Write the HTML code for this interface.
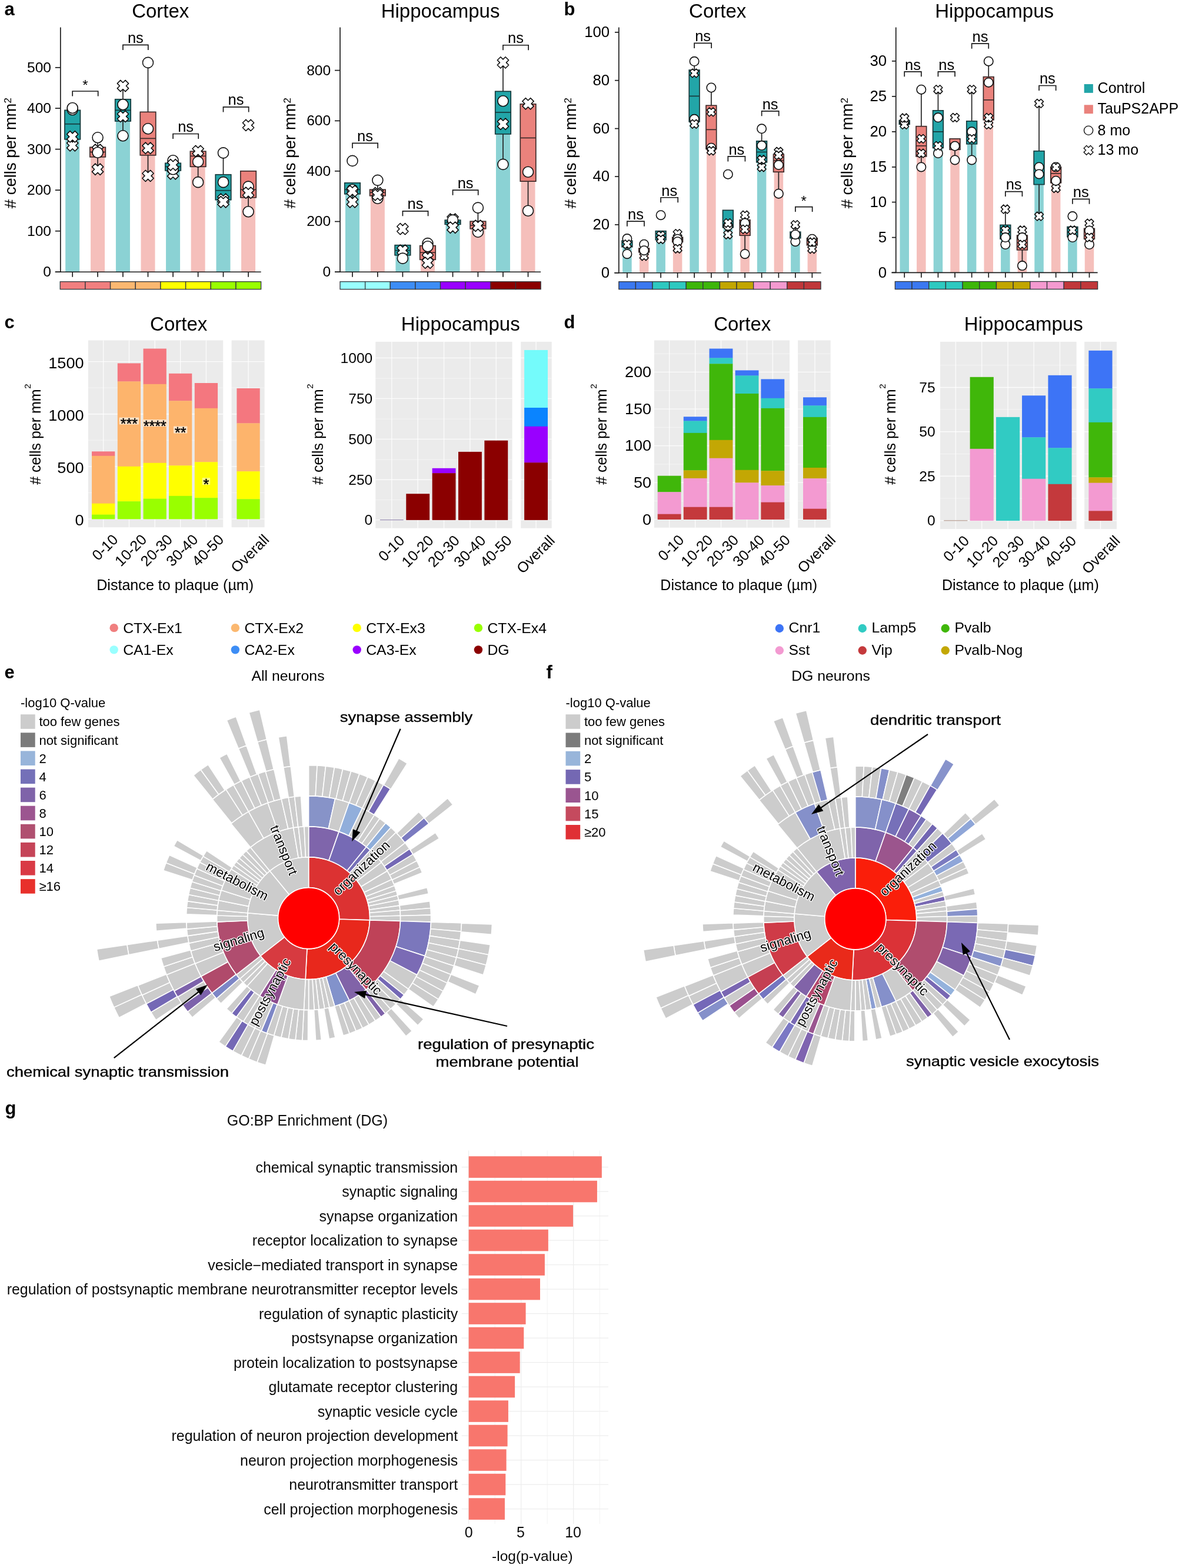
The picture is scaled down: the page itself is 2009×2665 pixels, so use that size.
<!DOCTYPE html>
<html lang="en"><head><meta charset="utf-8"><title>Figure</title>
<style>
html,body{margin:0;padding:0;background:#fff;}
body{width:2009px;height:2665px;overflow:hidden;}
svg{display:block;font-family:"Liberation Sans", Arial, Helvetica, sans-serif;}
</style></head><body>
<svg width="2009" height="2665" viewBox="0 0 2009 2665">
<rect x="0" y="0" width="2009" height="2665" fill="#ffffff"/>
<text x="7.50" y="26.00" font-size="31" font-weight="bold" >a</text>
<text x="272.78" y="30.28" font-size="33" text-anchor="middle" >Cortex</text>
<rect x="111.20" y="210.73" width="24.00" height="251.50" fill="#8BD2D4" />
<rect x="154.07" y="258.39" width="24.00" height="203.84" fill="#F5BFBB" />
<rect x="196.93" y="187.35" width="24.00" height="274.88" fill="#8BD2D4" />
<rect x="239.50" y="235.31" width="24.00" height="226.92" fill="#F5BFBB" />
<rect x="282.06" y="283.27" width="24.00" height="178.96" fill="#8BD2D4" />
<rect x="324.63" y="265.29" width="24.00" height="196.94" fill="#F5BFBB" />
<rect x="367.50" y="323.74" width="24.00" height="138.49" fill="#8BD2D4" />
<rect x="410.06" y="322.24" width="24.00" height="139.99" fill="#F5BFBB" />
<line x1="102.82" y1="46.46" x2="102.82" y2="463.03" stroke="#1a1a1a" stroke-width="1.7" />
<line x1="93.82" y1="462.23" x2="443.65" y2="462.23" stroke="#1a1a1a" stroke-width="1.7" />
<line x1="93.82" y1="462.23" x2="102.82" y2="462.23" stroke="#1a1a1a" stroke-width="1.7" />
<text x="87.02" y="470.13" font-size="24.6" text-anchor="end" >0</text>
<line x1="93.82" y1="392.69" x2="102.82" y2="392.69" stroke="#1a1a1a" stroke-width="1.7" />
<text x="87.02" y="400.59" font-size="24.6" text-anchor="end" >100</text>
<line x1="93.82" y1="323.14" x2="102.82" y2="323.14" stroke="#1a1a1a" stroke-width="1.7" />
<text x="87.02" y="331.04" font-size="24.6" text-anchor="end" >200</text>
<line x1="93.82" y1="253.60" x2="102.82" y2="253.60" stroke="#1a1a1a" stroke-width="1.7" />
<text x="87.02" y="261.50" font-size="24.6" text-anchor="end" >300</text>
<line x1="93.82" y1="184.05" x2="102.82" y2="184.05" stroke="#1a1a1a" stroke-width="1.7" />
<text x="87.02" y="191.95" font-size="24.6" text-anchor="end" >400</text>
<line x1="93.82" y1="114.81" x2="102.82" y2="114.81" stroke="#1a1a1a" stroke-width="1.7" />
<text x="87.02" y="122.71" font-size="24.6" text-anchor="end" >500</text>
<line x1="123.20" y1="462.23" x2="123.20" y2="470.73" stroke="#1a1a1a" stroke-width="1.7" />
<line x1="166.07" y1="462.23" x2="166.07" y2="470.73" stroke="#1a1a1a" stroke-width="1.7" />
<line x1="208.93" y1="462.23" x2="208.93" y2="470.73" stroke="#1a1a1a" stroke-width="1.7" />
<line x1="251.50" y1="462.23" x2="251.50" y2="470.73" stroke="#1a1a1a" stroke-width="1.7" />
<line x1="294.06" y1="462.23" x2="294.06" y2="470.73" stroke="#1a1a1a" stroke-width="1.7" />
<line x1="336.63" y1="462.23" x2="336.63" y2="470.73" stroke="#1a1a1a" stroke-width="1.7" />
<line x1="379.50" y1="462.23" x2="379.50" y2="470.73" stroke="#1a1a1a" stroke-width="1.7" />
<line x1="422.06" y1="462.23" x2="422.06" y2="470.73" stroke="#1a1a1a" stroke-width="1.7" />
<text x="27.18" y="260.19" font-size="27.5" text-anchor="middle" transform="rotate(-90.00 27.18 260.19)" ># cells per mm<tspan font-size="17" dy="-8">2</tspan></text>
<line x1="123.20" y1="182.85" x2="123.20" y2="248.80" stroke="#222" stroke-width="1.7" />
<rect x="109.95" y="187.35" width="26.50" height="49.46" fill="#22A5A8" stroke="#17393B" stroke-width="1.7" />
<line x1="109.95" y1="210.73" x2="136.45" y2="210.73" stroke="#17393B" stroke-width="1.7" />
<line x1="166.07" y1="233.81" x2="166.07" y2="287.77" stroke="#222" stroke-width="1.7" />
<rect x="152.82" y="250.30" width="26.50" height="16.49" fill="#EA827C" stroke="#3E2B2A" stroke-width="1.7" />
<line x1="152.82" y1="258.39" x2="179.32" y2="258.39" stroke="#3E2B2A" stroke-width="1.7" />
<line x1="208.93" y1="145.98" x2="208.93" y2="230.82" stroke="#222" stroke-width="1.7" />
<rect x="195.68" y="168.76" width="26.50" height="37.17" fill="#22A5A8" stroke="#17393B" stroke-width="1.7" />
<line x1="195.68" y1="187.35" x2="222.18" y2="187.35" stroke="#17393B" stroke-width="1.7" />
<line x1="251.50" y1="106.41" x2="251.50" y2="298.86" stroke="#222" stroke-width="1.7" />
<rect x="238.25" y="190.35" width="26.50" height="73.44" fill="#EA827C" stroke="#3E2B2A" stroke-width="1.7" />
<line x1="238.25" y1="235.31" x2="264.75" y2="235.31" stroke="#3E2B2A" stroke-width="1.7" />
<line x1="294.06" y1="272.78" x2="294.06" y2="295.26" stroke="#222" stroke-width="1.7" />
<rect x="280.81" y="277.28" width="26.50" height="12.59" fill="#22A5A8" stroke="#17393B" stroke-width="1.7" />
<line x1="280.81" y1="283.27" x2="307.31" y2="283.27" stroke="#17393B" stroke-width="1.7" />
<line x1="336.63" y1="256.89" x2="336.63" y2="309.65" stroke="#222" stroke-width="1.7" />
<rect x="323.38" y="257.19" width="26.50" height="26.08" fill="#EA827C" stroke="#3E2B2A" stroke-width="1.7" />
<line x1="323.38" y1="265.29" x2="349.88" y2="265.29" stroke="#3E2B2A" stroke-width="1.7" />
<line x1="379.50" y1="259.89" x2="379.50" y2="343.23" stroke="#222" stroke-width="1.7" />
<rect x="366.25" y="296.76" width="26.50" height="42.87" fill="#22A5A8" stroke="#17393B" stroke-width="1.7" />
<line x1="366.25" y1="323.74" x2="392.75" y2="323.74" stroke="#17393B" stroke-width="1.7" />
<line x1="422.06" y1="335.73" x2="422.06" y2="359.71" stroke="#222" stroke-width="1.7" />
<rect x="408.81" y="290.77" width="26.50" height="44.96" fill="#EA827C" stroke="#3E2B2A" stroke-width="1.7" />
<line x1="408.81" y1="322.24" x2="435.31" y2="322.24" stroke="#3E2B2A" stroke-width="1.7" />
<circle cx="123.20" cy="186.45" r="9.00" fill="#fff" stroke="#111" stroke-width="1.6"/>
<circle cx="123.20" cy="183.45" r="9.00" fill="#fff" stroke="#111" stroke-width="1.6"/>
<path d="M127.33,237.68 L132.82,243.18 L128.70,247.30 L132.82,251.43 L127.33,256.92 L123.20,252.80 L119.08,256.92 L113.58,251.43 L117.70,247.30 L113.58,243.18 L119.08,237.68 L123.20,241.80 Z" fill="#fff" stroke="#111" stroke-width="1.6" stroke-linejoin="round"/>
<path d="M127.33,222.69 L132.82,228.19 L128.70,232.31 L132.82,236.44 L127.33,241.94 L123.20,237.81 L119.08,241.94 L113.58,236.44 L117.70,232.31 L113.58,228.19 L119.08,222.69 L123.20,226.82 Z" fill="#fff" stroke="#111" stroke-width="1.6" stroke-linejoin="round"/>
<circle cx="166.07" cy="233.81" r="9.00" fill="#fff" stroke="#111" stroke-width="1.6"/>
<path d="M170.19,245.17 L175.69,250.67 L171.57,254.80 L175.69,258.92 L170.19,264.42 L166.07,260.29 L161.94,264.42 L156.44,258.92 L160.57,254.80 L156.44,250.67 L161.94,245.17 L166.07,249.30 Z" fill="#fff" stroke="#111" stroke-width="1.6" stroke-linejoin="round"/>
<circle cx="166.07" cy="259.29" r="9.00" fill="#fff" stroke="#111" stroke-width="1.6"/>
<path d="M170.19,278.15 L175.69,283.65 L171.57,287.77 L175.69,291.89 L170.19,297.39 L166.07,293.27 L161.94,297.39 L156.44,291.89 L160.57,287.77 L156.44,283.65 L161.94,278.15 L166.07,282.27 Z" fill="#fff" stroke="#111" stroke-width="1.6" stroke-linejoin="round"/>
<path d="M213.06,136.36 L218.56,141.86 L214.43,145.98 L218.56,150.11 L213.06,155.61 L208.93,151.48 L204.81,155.61 L199.31,150.11 L203.43,145.98 L199.31,141.86 L204.81,136.36 L208.93,140.48 Z" fill="#fff" stroke="#111" stroke-width="1.6" stroke-linejoin="round"/>
<circle cx="208.93" cy="230.82" r="9.00" fill="#fff" stroke="#111" stroke-width="1.6"/>
<circle cx="208.93" cy="177.76" r="9.00" fill="#fff" stroke="#111" stroke-width="1.6"/>
<path d="M213.06,188.22 L218.56,193.72 L214.43,197.84 L218.56,201.97 L213.06,207.46 L208.93,203.34 L204.81,207.46 L199.31,201.97 L203.43,197.84 L199.31,193.72 L204.81,188.22 L208.93,192.34 Z" fill="#fff" stroke="#111" stroke-width="1.6" stroke-linejoin="round"/>
<circle cx="251.50" cy="106.41" r="9.00" fill="#fff" stroke="#111" stroke-width="1.6"/>
<circle cx="251.50" cy="218.82" r="9.00" fill="#fff" stroke="#111" stroke-width="1.6"/>
<path d="M255.62,289.24 L261.12,294.74 L257.00,298.86 L261.12,302.98 L255.62,308.48 L251.50,304.36 L247.37,308.48 L241.88,302.98 L246.00,298.86 L241.88,294.74 L247.37,289.24 L251.50,293.36 Z" fill="#fff" stroke="#111" stroke-width="1.6" stroke-linejoin="round"/>
<path d="M255.62,242.18 L261.12,247.67 L257.00,251.80 L261.12,255.92 L255.62,261.42 L251.50,257.30 L247.37,261.42 L241.88,255.92 L246.00,251.80 L241.88,247.67 L247.37,242.18 L251.50,246.30 Z" fill="#fff" stroke="#111" stroke-width="1.6" stroke-linejoin="round"/>
<path d="M298.19,285.64 L303.69,291.14 L299.56,295.26 L303.69,299.39 L298.19,304.89 L294.06,300.76 L289.94,304.89 L284.44,299.39 L288.57,295.26 L284.44,291.14 L289.94,285.64 L294.06,289.77 Z" fill="#fff" stroke="#111" stroke-width="1.6" stroke-linejoin="round"/>
<circle cx="294.06" cy="287.77" r="9.00" fill="#fff" stroke="#111" stroke-width="1.6"/>
<circle cx="294.06" cy="272.78" r="9.00" fill="#fff" stroke="#111" stroke-width="1.6"/>
<path d="M298.19,270.65 L303.69,276.15 L299.56,280.28 L303.69,284.40 L298.19,289.90 L294.06,285.77 L289.94,289.90 L284.44,284.40 L288.57,280.28 L284.44,276.15 L289.94,270.65 L294.06,274.78 Z" fill="#fff" stroke="#111" stroke-width="1.6" stroke-linejoin="round"/>
<circle cx="336.63" cy="309.65" r="9.00" fill="#fff" stroke="#111" stroke-width="1.6"/>
<path d="M340.75,247.27 L346.25,252.77 L342.13,256.89 L346.25,261.02 L340.75,266.52 L336.63,262.39 L332.51,266.52 L327.01,261.02 L331.13,256.89 L327.01,252.77 L332.51,247.27 L336.63,251.40 Z" fill="#fff" stroke="#111" stroke-width="1.6" stroke-linejoin="round"/>
<circle cx="336.63" cy="274.88" r="9.00" fill="#fff" stroke="#111" stroke-width="1.6"/>
<circle cx="379.50" cy="259.89" r="9.00" fill="#fff" stroke="#111" stroke-width="1.6"/>
<path d="M383.62,329.11 L389.12,334.61 L384.99,338.73 L389.12,342.85 L383.62,348.35 L379.50,344.23 L375.37,348.35 L369.87,342.85 L374.00,338.73 L369.87,334.61 L375.37,329.11 L379.50,333.23 Z" fill="#fff" stroke="#111" stroke-width="1.6" stroke-linejoin="round"/>
<circle cx="379.50" cy="309.65" r="9.00" fill="#fff" stroke="#111" stroke-width="1.6"/>
<path d="M383.62,333.60 L389.12,339.10 L384.99,343.23 L389.12,347.35 L383.62,352.85 L379.50,348.72 L375.37,352.85 L369.87,347.35 L374.00,343.23 L369.87,339.10 L375.37,333.60 L379.50,337.73 Z" fill="#fff" stroke="#111" stroke-width="1.6" stroke-linejoin="round"/>
<path d="M426.19,203.21 L431.68,208.71 L427.56,212.83 L431.68,216.95 L426.19,222.45 L422.06,218.33 L417.94,222.45 L412.44,216.95 L416.56,212.83 L412.44,208.71 L417.94,203.21 L422.06,207.33 Z" fill="#fff" stroke="#111" stroke-width="1.6" stroke-linejoin="round"/>
<circle cx="422.06" cy="359.71" r="9.00" fill="#fff" stroke="#111" stroke-width="1.6"/>
<circle cx="422.06" cy="317.15" r="9.00" fill="#fff" stroke="#111" stroke-width="1.6"/>
<path d="M426.19,318.02 L431.68,323.51 L427.56,327.64 L431.68,331.76 L426.19,337.26 L422.06,333.14 L417.94,337.26 L412.44,331.76 L416.56,327.64 L412.44,323.51 L417.94,318.02 L422.06,322.14 Z" fill="#fff" stroke="#111" stroke-width="1.6" stroke-linejoin="round"/>
<path d="M123.20,163.48 L123.20,154.98 L166.67,154.98 L166.67,163.48" fill="none" stroke="#1a1a1a" stroke-width="1.7" />
<text x="144.93" y="153.48" font-size="24" text-anchor="middle" >*</text>
<path d="M208.93,84.94 L208.93,76.44 L251.80,76.44 L251.80,84.94" fill="none" stroke="#1a1a1a" stroke-width="1.7" />
<text x="230.37" y="72.84" font-size="25.5" text-anchor="middle" >ns</text>
<path d="M294.06,236.02 L294.06,227.52 L337.23,227.52 L337.23,236.02" fill="none" stroke="#1a1a1a" stroke-width="1.7" />
<text x="315.65" y="223.92" font-size="25.5" text-anchor="middle" >ns</text>
<path d="M379.50,190.45 L379.50,181.95 L422.66,181.95 L422.66,190.45" fill="none" stroke="#1a1a1a" stroke-width="1.7" />
<text x="401.08" y="178.35" font-size="25.5" text-anchor="middle" >ns</text>
<rect x="102.22" y="478.72" width="42.68" height="12.89" fill="#F17F7F" stroke="#33373d" stroke-width="1.3" />
<rect x="144.90" y="478.72" width="42.68" height="12.89" fill="#F17F7F" stroke="#33373d" stroke-width="1.3" />
<rect x="187.57" y="478.72" width="42.68" height="12.89" fill="#FBB870" stroke="#33373d" stroke-width="1.3" />
<rect x="230.25" y="478.72" width="42.68" height="12.89" fill="#FBB870" stroke="#33373d" stroke-width="1.3" />
<rect x="272.93" y="478.72" width="42.68" height="12.89" fill="#FFFF00" stroke="#33373d" stroke-width="1.3" />
<rect x="315.61" y="478.72" width="42.68" height="12.89" fill="#FFFF00" stroke="#33373d" stroke-width="1.3" />
<rect x="358.29" y="478.72" width="42.68" height="12.89" fill="#99FF00" stroke="#33373d" stroke-width="1.3" />
<rect x="400.97" y="478.72" width="42.68" height="12.89" fill="#99FF00" stroke="#33373d" stroke-width="1.3" />
<text x="748.56" y="30.28" font-size="33" text-anchor="middle" >Hippocampus</text>
<rect x="586.98" y="322.24" width="24.00" height="139.99" fill="#8BD2D4" />
<rect x="629.85" y="327.34" width="24.00" height="134.89" fill="#F5BFBB" />
<rect x="672.41" y="425.66" width="24.00" height="36.57" fill="#8BD2D4" />
<rect x="714.98" y="429.26" width="24.00" height="32.97" fill="#F5BFBB" />
<rect x="757.54" y="377.70" width="24.00" height="84.53" fill="#8BD2D4" />
<rect x="800.41" y="383.09" width="24.00" height="79.14" fill="#F5BFBB" />
<rect x="842.98" y="190.95" width="24.00" height="271.28" fill="#8BD2D4" />
<rect x="885.54" y="234.41" width="24.00" height="227.82" fill="#F5BFBB" />
<line x1="578.00" y1="46.46" x2="578.00" y2="463.03" stroke="#1a1a1a" stroke-width="1.7" />
<line x1="569.00" y1="462.23" x2="919.12" y2="462.23" stroke="#1a1a1a" stroke-width="1.7" />
<line x1="569.00" y1="462.23" x2="578.00" y2="462.23" stroke="#1a1a1a" stroke-width="1.7" />
<text x="562.20" y="470.13" font-size="24.6" text-anchor="end" >0</text>
<line x1="569.00" y1="376.50" x2="578.00" y2="376.50" stroke="#1a1a1a" stroke-width="1.7" />
<text x="562.20" y="384.40" font-size="24.6" text-anchor="end" >200</text>
<line x1="569.00" y1="290.77" x2="578.00" y2="290.77" stroke="#1a1a1a" stroke-width="1.7" />
<text x="562.20" y="298.67" font-size="24.6" text-anchor="end" >400</text>
<line x1="569.00" y1="205.34" x2="578.00" y2="205.34" stroke="#1a1a1a" stroke-width="1.7" />
<text x="562.20" y="213.24" font-size="24.6" text-anchor="end" >600</text>
<line x1="569.00" y1="119.60" x2="578.00" y2="119.60" stroke="#1a1a1a" stroke-width="1.7" />
<text x="562.20" y="127.50" font-size="24.6" text-anchor="end" >800</text>
<line x1="598.98" y1="462.23" x2="598.98" y2="470.73" stroke="#1a1a1a" stroke-width="1.7" />
<line x1="641.85" y1="462.23" x2="641.85" y2="470.73" stroke="#1a1a1a" stroke-width="1.7" />
<line x1="684.41" y1="462.23" x2="684.41" y2="470.73" stroke="#1a1a1a" stroke-width="1.7" />
<line x1="726.98" y1="462.23" x2="726.98" y2="470.73" stroke="#1a1a1a" stroke-width="1.7" />
<line x1="769.54" y1="462.23" x2="769.54" y2="470.73" stroke="#1a1a1a" stroke-width="1.7" />
<line x1="812.41" y1="462.23" x2="812.41" y2="470.73" stroke="#1a1a1a" stroke-width="1.7" />
<line x1="854.98" y1="462.23" x2="854.98" y2="470.73" stroke="#1a1a1a" stroke-width="1.7" />
<line x1="897.54" y1="462.23" x2="897.54" y2="470.73" stroke="#1a1a1a" stroke-width="1.7" />
<text x="501.76" y="260.19" font-size="27.5" text-anchor="middle" transform="rotate(-90.00 501.76 260.19)" ># cells per mm<tspan font-size="17" dy="-8">2</tspan></text>
<line x1="598.98" y1="310.85" x2="598.98" y2="343.23" stroke="#222" stroke-width="1.7" />
<rect x="585.73" y="310.85" width="26.50" height="18.88" fill="#22A5A8" stroke="#17393B" stroke-width="1.7" />
<line x1="585.73" y1="322.24" x2="612.23" y2="322.24" stroke="#17393B" stroke-width="1.7" />
<line x1="641.85" y1="306.35" x2="641.85" y2="337.23" stroke="#222" stroke-width="1.7" />
<rect x="628.60" y="322.24" width="26.50" height="10.49" fill="#EA827C" stroke="#3E2B2A" stroke-width="1.7" />
<line x1="628.60" y1="327.34" x2="655.10" y2="327.34" stroke="#3E2B2A" stroke-width="1.7" />
<line x1="684.41" y1="416.67" x2="684.41" y2="439.15" stroke="#222" stroke-width="1.7" />
<rect x="671.16" y="416.67" width="26.50" height="17.09" fill="#22A5A8" stroke="#17393B" stroke-width="1.7" />
<line x1="671.16" y1="425.66" x2="697.66" y2="425.66" stroke="#17393B" stroke-width="1.7" />
<line x1="726.98" y1="413.67" x2="726.98" y2="446.64" stroke="#222" stroke-width="1.7" />
<rect x="713.73" y="417.57" width="26.50" height="23.68" fill="#EA827C" stroke="#3E2B2A" stroke-width="1.7" />
<line x1="713.73" y1="429.26" x2="740.23" y2="429.26" stroke="#3E2B2A" stroke-width="1.7" />
<line x1="769.54" y1="372.60" x2="769.54" y2="386.69" stroke="#222" stroke-width="1.7" />
<rect x="756.29" y="374.10" width="26.50" height="7.19" fill="#22A5A8" stroke="#17393B" stroke-width="1.7" />
<line x1="756.29" y1="377.70" x2="782.79" y2="377.70" stroke="#17393B" stroke-width="1.7" />
<line x1="812.41" y1="353.12" x2="812.41" y2="394.18" stroke="#222" stroke-width="1.7" />
<rect x="799.16" y="376.20" width="26.50" height="12.59" fill="#EA827C" stroke="#3E2B2A" stroke-width="1.7" />
<line x1="799.16" y1="383.09" x2="825.66" y2="383.09" stroke="#3E2B2A" stroke-width="1.7" />
<line x1="854.98" y1="106.41" x2="854.98" y2="279.38" stroke="#222" stroke-width="1.7" />
<rect x="841.73" y="155.28" width="26.50" height="72.54" fill="#22A5A8" stroke="#17393B" stroke-width="1.7" />
<line x1="841.73" y1="190.95" x2="868.23" y2="190.95" stroke="#17393B" stroke-width="1.7" />
<line x1="897.54" y1="176.26" x2="897.54" y2="358.21" stroke="#222" stroke-width="1.7" />
<rect x="884.29" y="176.86" width="26.50" height="131.29" fill="#EA827C" stroke="#3E2B2A" stroke-width="1.7" />
<line x1="884.29" y1="234.41" x2="910.79" y2="234.41" stroke="#3E2B2A" stroke-width="1.7" />
<circle cx="598.98" cy="273.38" r="9.00" fill="#fff" stroke="#111" stroke-width="1.6"/>
<circle cx="598.98" cy="322.24" r="9.00" fill="#fff" stroke="#111" stroke-width="1.6"/>
<path d="M603.10,333.60 L608.60,339.10 L604.48,343.23 L608.60,347.35 L603.10,352.85 L598.98,348.72 L594.86,352.85 L589.36,347.35 L593.48,343.23 L589.36,339.10 L594.86,333.60 L598.98,337.73 Z" fill="#fff" stroke="#111" stroke-width="1.6" stroke-linejoin="round"/>
<path d="M603.10,315.02 L608.60,320.52 L604.48,324.64 L608.60,328.76 L603.10,334.26 L598.98,330.14 L594.86,334.26 L589.36,328.76 L593.48,324.64 L589.36,320.52 L594.86,315.02 L598.98,319.14 Z" fill="#fff" stroke="#111" stroke-width="1.6" stroke-linejoin="round"/>
<circle cx="641.85" cy="306.35" r="9.00" fill="#fff" stroke="#111" stroke-width="1.6"/>
<circle cx="641.85" cy="337.23" r="9.00" fill="#fff" stroke="#111" stroke-width="1.6"/>
<path d="M645.97,318.62 L651.47,324.11 L647.34,328.24 L651.47,332.36 L645.97,337.86 L641.85,333.74 L637.72,337.86 L632.22,332.36 L636.35,328.24 L632.22,324.11 L637.72,318.62 L641.85,322.74 Z" fill="#fff" stroke="#111" stroke-width="1.6" stroke-linejoin="round"/>
<path d="M645.97,321.61 L651.47,327.11 L647.34,331.24 L651.47,335.36 L645.97,340.86 L641.85,336.73 L637.72,340.86 L632.22,335.36 L636.35,331.24 L632.22,327.11 L637.72,321.61 L641.85,325.74 Z" fill="#fff" stroke="#111" stroke-width="1.6" stroke-linejoin="round"/>
<path d="M688.54,379.47 L694.03,384.96 L689.91,389.09 L694.03,393.21 L688.54,398.71 L684.41,394.59 L680.29,398.71 L674.79,393.21 L678.91,389.09 L674.79,384.96 L680.29,379.47 L684.41,383.59 Z" fill="#fff" stroke="#111" stroke-width="1.6" stroke-linejoin="round"/>
<path d="M688.54,416.04 L694.03,421.54 L689.91,425.66 L694.03,429.78 L688.54,435.28 L684.41,431.16 L680.29,435.28 L674.79,429.78 L678.91,425.66 L674.79,421.54 L680.29,416.04 L684.41,420.16 Z" fill="#fff" stroke="#111" stroke-width="1.6" stroke-linejoin="round"/>
<circle cx="684.41" cy="439.15" r="9.00" fill="#fff" stroke="#111" stroke-width="1.6"/>
<circle cx="726.98" cy="413.67" r="9.00" fill="#fff" stroke="#111" stroke-width="1.6"/>
<circle cx="726.98" cy="418.76" r="9.00" fill="#fff" stroke="#111" stroke-width="1.6"/>
<path d="M731.10,428.03 L736.60,433.53 L732.48,437.65 L736.60,441.77 L731.10,447.27 L726.98,443.15 L722.85,447.27 L717.36,441.77 L721.48,437.65 L717.36,433.53 L722.85,428.03 L726.98,432.15 Z" fill="#fff" stroke="#111" stroke-width="1.6" stroke-linejoin="round"/>
<path d="M731.10,437.02 L736.60,442.52 L732.48,446.64 L736.60,450.77 L731.10,456.26 L726.98,452.14 L722.85,456.26 L717.36,450.77 L721.48,446.64 L717.36,442.52 L722.85,437.02 L726.98,441.14 Z" fill="#fff" stroke="#111" stroke-width="1.6" stroke-linejoin="round"/>
<path d="M773.67,362.98 L779.17,368.48 L775.04,372.60 L779.17,376.73 L773.67,382.22 L769.54,378.10 L765.42,382.22 L759.92,376.73 L764.05,372.60 L759.92,368.48 L765.42,362.98 L769.54,367.10 Z" fill="#fff" stroke="#111" stroke-width="1.6" stroke-linejoin="round"/>
<circle cx="769.54" cy="374.10" r="9.00" fill="#fff" stroke="#111" stroke-width="1.6"/>
<path d="M773.67,377.07 L779.17,382.57 L775.04,386.69 L779.17,390.81 L773.67,396.31 L769.54,392.19 L765.42,396.31 L759.92,390.81 L764.05,386.69 L759.92,382.57 L765.42,377.07 L769.54,381.19 Z" fill="#fff" stroke="#111" stroke-width="1.6" stroke-linejoin="round"/>
<circle cx="812.41" cy="353.12" r="9.00" fill="#fff" stroke="#111" stroke-width="1.6"/>
<circle cx="812.41" cy="394.18" r="9.00" fill="#fff" stroke="#111" stroke-width="1.6"/>
<path d="M816.53,374.07 L822.03,379.57 L817.91,383.69 L822.03,387.82 L816.53,393.32 L812.41,389.19 L808.29,393.32 L802.79,387.82 L806.91,383.69 L802.79,379.57 L808.29,374.07 L812.41,378.19 Z" fill="#fff" stroke="#111" stroke-width="1.6" stroke-linejoin="round"/>
<path d="M859.10,96.79 L864.60,102.29 L860.47,106.41 L864.60,110.54 L859.10,116.04 L854.98,111.91 L850.85,116.04 L845.35,110.54 L849.48,106.41 L845.35,102.29 L850.85,96.79 L854.98,100.92 Z" fill="#fff" stroke="#111" stroke-width="1.6" stroke-linejoin="round"/>
<circle cx="854.98" cy="171.76" r="9.00" fill="#fff" stroke="#111" stroke-width="1.6"/>
<path d="M859.10,201.11 L864.60,206.61 L860.47,210.73 L864.60,214.86 L859.10,220.35 L854.98,216.23 L850.85,220.35 L845.35,214.86 L849.48,210.73 L845.35,206.61 L850.85,201.11 L854.98,205.23 Z" fill="#fff" stroke="#111" stroke-width="1.6" stroke-linejoin="round"/>
<circle cx="854.98" cy="279.38" r="9.00" fill="#fff" stroke="#111" stroke-width="1.6"/>
<path d="M901.67,166.64 L907.16,172.14 L903.04,176.26 L907.16,180.38 L901.67,185.88 L897.54,181.76 L893.42,185.88 L887.92,180.38 L892.04,176.26 L887.92,172.14 L893.42,166.64 L897.54,170.76 Z" fill="#fff" stroke="#111" stroke-width="1.6" stroke-linejoin="round"/>
<circle cx="897.54" cy="292.27" r="9.00" fill="#fff" stroke="#111" stroke-width="1.6"/>
<circle cx="897.54" cy="358.21" r="9.00" fill="#fff" stroke="#111" stroke-width="1.6"/>
<path d="M598.98,251.91 L598.98,243.41 L642.15,243.41 L642.15,251.91" fill="none" stroke="#1a1a1a" stroke-width="1.7" />
<text x="620.56" y="239.81" font-size="25.5" text-anchor="middle" >ns</text>
<path d="M684.41,367.31 L684.41,358.81 L727.58,358.81 L727.58,367.31" fill="none" stroke="#1a1a1a" stroke-width="1.7" />
<text x="706.00" y="355.21" font-size="25.5" text-anchor="middle" >ns</text>
<path d="M769.54,331.64 L769.54,323.14 L812.71,323.14 L812.71,331.64" fill="none" stroke="#1a1a1a" stroke-width="1.7" />
<text x="791.13" y="319.54" font-size="25.5" text-anchor="middle" >ns</text>
<path d="M854.98,85.24 L854.98,76.74 L898.14,76.74 L898.14,85.24" fill="none" stroke="#1a1a1a" stroke-width="1.7" />
<text x="876.56" y="73.14" font-size="25.5" text-anchor="middle" >ns</text>
<rect x="578.00" y="478.72" width="42.64" height="12.89" fill="#99FFFF" stroke="#33373d" stroke-width="1.3" />
<rect x="620.64" y="478.72" width="42.64" height="12.89" fill="#99FFFF" stroke="#33373d" stroke-width="1.3" />
<rect x="663.28" y="478.72" width="42.64" height="12.89" fill="#3D8DF5" stroke="#33373d" stroke-width="1.3" />
<rect x="705.92" y="478.72" width="42.64" height="12.89" fill="#3D8DF5" stroke="#33373d" stroke-width="1.3" />
<rect x="748.56" y="478.72" width="42.64" height="12.89" fill="#9900FF" stroke="#33373d" stroke-width="1.3" />
<rect x="791.20" y="478.72" width="42.64" height="12.89" fill="#9900FF" stroke="#33373d" stroke-width="1.3" />
<rect x="833.84" y="478.72" width="42.64" height="12.89" fill="#8B0000" stroke="#33373d" stroke-width="1.3" />
<rect x="876.48" y="478.72" width="42.64" height="12.89" fill="#8B0000" stroke="#33373d" stroke-width="1.3" />
<text x="958.50" y="26.00" font-size="31" font-weight="bold" >b</text>
<text x="1219.68" y="30.28" font-size="33" text-anchor="middle" >Cortex</text>
<rect x="1058.15" y="415.17" width="15.50" height="48.56" fill="#8BD2D4" />
<rect x="1086.93" y="424.16" width="15.50" height="39.57" fill="#F5BFBB" />
<rect x="1115.40" y="401.68" width="15.50" height="62.05" fill="#8BD2D4" />
<rect x="1143.88" y="407.67" width="15.50" height="56.06" fill="#F5BFBB" />
<rect x="1172.36" y="163.37" width="15.50" height="300.36" fill="#8BD2D4" />
<rect x="1201.13" y="220.32" width="15.50" height="243.41" fill="#F5BFBB" />
<rect x="1229.61" y="380.70" width="15.50" height="83.03" fill="#8BD2D4" />
<rect x="1258.39" y="389.69" width="15.50" height="74.04" fill="#F5BFBB" />
<rect x="1286.87" y="258.39" width="15.50" height="205.34" fill="#8BD2D4" />
<rect x="1315.64" y="272.78" width="15.50" height="190.95" fill="#F5BFBB" />
<rect x="1344.12" y="400.18" width="15.50" height="63.55" fill="#8BD2D4" />
<rect x="1372.60" y="412.17" width="15.50" height="51.56" fill="#F5BFBB" />
<line x1="1051.81" y1="46.46" x2="1051.81" y2="464.53" stroke="#1a1a1a" stroke-width="1.7" />
<line x1="1044.02" y1="463.73" x2="1395.64" y2="463.73" stroke="#1a1a1a" stroke-width="1.7" />
<line x1="1045.01" y1="463.73" x2="1051.81" y2="463.73" stroke="#1a1a1a" stroke-width="1.7" />
<text x="1036.21" y="472.13" font-size="25.8" text-anchor="end" >0</text>
<line x1="1045.01" y1="381.89" x2="1051.81" y2="381.89" stroke="#1a1a1a" stroke-width="1.7" />
<text x="1036.21" y="390.29" font-size="25.8" text-anchor="end" >20</text>
<line x1="1045.01" y1="300.06" x2="1051.81" y2="300.06" stroke="#1a1a1a" stroke-width="1.7" />
<text x="1036.21" y="308.46" font-size="25.8" text-anchor="end" >40</text>
<line x1="1045.01" y1="218.53" x2="1051.81" y2="218.53" stroke="#1a1a1a" stroke-width="1.7" />
<text x="1036.21" y="226.93" font-size="25.8" text-anchor="end" >60</text>
<line x1="1045.01" y1="136.69" x2="1051.81" y2="136.69" stroke="#1a1a1a" stroke-width="1.7" />
<text x="1036.21" y="145.09" font-size="25.8" text-anchor="end" >80</text>
<line x1="1045.01" y1="54.86" x2="1051.81" y2="54.86" stroke="#1a1a1a" stroke-width="1.7" />
<text x="1036.21" y="63.26" font-size="25.8" text-anchor="end" >100</text>
<line x1="1065.90" y1="463.73" x2="1065.90" y2="472.23" stroke="#1a1a1a" stroke-width="1.7" />
<line x1="1094.68" y1="463.73" x2="1094.68" y2="472.23" stroke="#1a1a1a" stroke-width="1.7" />
<line x1="1123.15" y1="463.73" x2="1123.15" y2="472.23" stroke="#1a1a1a" stroke-width="1.7" />
<line x1="1151.63" y1="463.73" x2="1151.63" y2="472.23" stroke="#1a1a1a" stroke-width="1.7" />
<line x1="1180.11" y1="463.73" x2="1180.11" y2="472.23" stroke="#1a1a1a" stroke-width="1.7" />
<line x1="1208.88" y1="463.73" x2="1208.88" y2="472.23" stroke="#1a1a1a" stroke-width="1.7" />
<line x1="1237.36" y1="463.73" x2="1237.36" y2="472.23" stroke="#1a1a1a" stroke-width="1.7" />
<line x1="1266.14" y1="463.73" x2="1266.14" y2="472.23" stroke="#1a1a1a" stroke-width="1.7" />
<line x1="1294.62" y1="463.73" x2="1294.62" y2="472.23" stroke="#1a1a1a" stroke-width="1.7" />
<line x1="1323.39" y1="463.73" x2="1323.39" y2="472.23" stroke="#1a1a1a" stroke-width="1.7" />
<line x1="1351.87" y1="463.73" x2="1351.87" y2="472.23" stroke="#1a1a1a" stroke-width="1.7" />
<line x1="1380.35" y1="463.73" x2="1380.35" y2="472.23" stroke="#1a1a1a" stroke-width="1.7" />
<text x="978.97" y="260.19" font-size="27.5" text-anchor="middle" transform="rotate(-90.00 978.97 260.19)" ># cells per mm<tspan font-size="17" dy="-8">2</tspan></text>
<line x1="1065.90" y1="405.58" x2="1065.90" y2="431.65" stroke="#222" stroke-width="1.7" />
<rect x="1057.05" y="409.17" width="17.70" height="10.49" fill="#22A5A8" stroke="#17393B" stroke-width="1.7" />
<line x1="1094.68" y1="415.17" x2="1094.68" y2="435.25" stroke="#222" stroke-width="1.7" />
<rect x="1085.83" y="422.06" width="17.70" height="6.59" fill="#EA827C" stroke="#3E2B2A" stroke-width="1.7" />
<line x1="1123.15" y1="392.69" x2="1123.15" y2="407.67" stroke="#222" stroke-width="1.7" />
<rect x="1114.30" y="392.69" width="17.70" height="14.99" fill="#22A5A8" stroke="#17393B" stroke-width="1.7" />
<line x1="1151.63" y1="397.18" x2="1151.63" y2="422.66" stroke="#222" stroke-width="1.7" />
<rect x="1142.78" y="403.18" width="17.70" height="8.09" fill="#EA827C" stroke="#3E2B2A" stroke-width="1.7" />
<line x1="1180.11" y1="104.32" x2="1180.11" y2="210.73" stroke="#222" stroke-width="1.7" />
<rect x="1171.26" y="119.00" width="17.70" height="87.83" fill="#22A5A8" stroke="#17393B" stroke-width="1.7" />
<line x1="1171.26" y1="163.37" x2="1188.96" y2="163.37" stroke="#17393B" stroke-width="1.7" />
<line x1="1208.88" y1="148.98" x2="1208.88" y2="256.29" stroke="#222" stroke-width="1.7" />
<rect x="1200.03" y="179.26" width="17.70" height="74.04" fill="#EA827C" stroke="#3E2B2A" stroke-width="1.7" />
<line x1="1200.03" y1="220.32" x2="1217.73" y2="220.32" stroke="#3E2B2A" stroke-width="1.7" />
<line x1="1237.36" y1="357.31" x2="1237.36" y2="398.68" stroke="#222" stroke-width="1.7" />
<rect x="1228.51" y="357.31" width="17.70" height="29.38" fill="#22A5A8" stroke="#17393B" stroke-width="1.7" />
<line x1="1266.14" y1="365.71" x2="1266.14" y2="431.65" stroke="#222" stroke-width="1.7" />
<rect x="1257.29" y="373.80" width="17.70" height="26.38" fill="#EA827C" stroke="#3E2B2A" stroke-width="1.7" />
<line x1="1294.62" y1="218.82" x2="1294.62" y2="284.17" stroke="#222" stroke-width="1.7" />
<rect x="1285.77" y="239.81" width="17.70" height="35.97" fill="#22A5A8" stroke="#17393B" stroke-width="1.7" />
<line x1="1285.77" y1="258.39" x2="1303.47" y2="258.39" stroke="#17393B" stroke-width="1.7" />
<line x1="1323.39" y1="257.79" x2="1323.39" y2="329.14" stroke="#222" stroke-width="1.7" />
<rect x="1314.54" y="262.29" width="17.70" height="29.98" fill="#EA827C" stroke="#3E2B2A" stroke-width="1.7" />
<line x1="1314.54" y1="272.78" x2="1332.24" y2="272.78" stroke="#3E2B2A" stroke-width="1.7" />
<line x1="1351.87" y1="382.19" x2="1351.87" y2="410.67" stroke="#222" stroke-width="1.7" />
<rect x="1343.02" y="394.18" width="17.70" height="10.49" fill="#22A5A8" stroke="#17393B" stroke-width="1.7" />
<line x1="1380.35" y1="406.18" x2="1380.35" y2="423.26" stroke="#222" stroke-width="1.7" />
<rect x="1371.50" y="404.68" width="17.70" height="11.99" fill="#EA827C" stroke="#3E2B2A" stroke-width="1.7" />
<circle cx="1065.90" cy="405.58" r="7.70" fill="#fff" stroke="#111" stroke-width="1.6"/>
<circle cx="1065.90" cy="431.65" r="7.70" fill="#fff" stroke="#111" stroke-width="1.6"/>
<path d="M1069.07,407.77 L1073.29,412.00 L1070.12,415.17 L1073.29,418.34 L1069.07,422.56 L1065.90,419.39 L1062.73,422.56 L1058.51,418.34 L1061.67,415.17 L1058.51,412.00 L1062.73,407.77 L1065.90,410.94 Z" fill="#fff" stroke="#111" stroke-width="1.6" stroke-linejoin="round"/>
<circle cx="1094.68" cy="415.17" r="7.70" fill="#fff" stroke="#111" stroke-width="1.6"/>
<path d="M1097.85,427.86 L1102.07,432.08 L1098.90,435.25 L1102.07,438.42 L1097.85,442.65 L1094.68,439.48 L1091.51,442.65 L1087.28,438.42 L1090.45,435.25 L1087.28,432.08 L1091.51,427.86 L1094.68,431.03 Z" fill="#fff" stroke="#111" stroke-width="1.6" stroke-linejoin="round"/>
<circle cx="1094.68" cy="425.66" r="7.70" fill="#fff" stroke="#111" stroke-width="1.6"/>
<circle cx="1123.15" cy="365.71" r="7.70" fill="#fff" stroke="#111" stroke-width="1.6"/>
<path d="M1126.32,392.79 L1130.55,397.01 L1127.38,400.18 L1130.55,403.35 L1126.32,407.57 L1123.15,404.40 L1119.98,407.57 L1115.76,403.35 L1118.93,400.18 L1115.76,397.01 L1119.98,392.79 L1123.15,395.95 Z" fill="#fff" stroke="#111" stroke-width="1.6" stroke-linejoin="round"/>
<path d="M1126.32,399.38 L1130.55,403.61 L1127.38,406.77 L1130.55,409.94 L1126.32,414.17 L1123.15,411.00 L1119.98,414.17 L1115.76,409.94 L1118.93,406.77 L1115.76,403.61 L1119.98,399.38 L1123.15,402.55 Z" fill="#fff" stroke="#111" stroke-width="1.6" stroke-linejoin="round"/>
<path d="M1154.80,389.79 L1159.02,394.01 L1155.86,397.18 L1159.02,400.35 L1154.80,404.58 L1151.63,401.41 L1148.46,404.58 L1144.24,400.35 L1147.41,397.18 L1144.24,394.01 L1148.46,389.79 L1151.63,392.96 Z" fill="#fff" stroke="#111" stroke-width="1.6" stroke-linejoin="round"/>
<circle cx="1151.63" cy="406.18" r="7.70" fill="#fff" stroke="#111" stroke-width="1.6"/>
<circle cx="1151.63" cy="410.67" r="7.70" fill="#fff" stroke="#111" stroke-width="1.6"/>
<path d="M1154.80,415.27 L1159.02,419.49 L1155.86,422.66 L1159.02,425.83 L1154.80,430.06 L1151.63,426.89 L1148.46,430.06 L1144.24,425.83 L1147.41,422.66 L1144.24,419.49 L1148.46,415.27 L1151.63,418.44 Z" fill="#fff" stroke="#111" stroke-width="1.6" stroke-linejoin="round"/>
<circle cx="1180.11" cy="104.32" r="7.70" fill="#fff" stroke="#111" stroke-width="1.6"/>
<path d="M1183.28,117.01 L1187.50,121.23 L1184.33,124.40 L1187.50,127.57 L1183.28,131.79 L1180.11,128.63 L1176.94,131.79 L1172.71,127.57 L1175.88,124.40 L1172.71,121.23 L1176.94,117.01 L1180.11,120.18 Z" fill="#fff" stroke="#111" stroke-width="1.6" stroke-linejoin="round"/>
<circle cx="1180.11" cy="202.34" r="7.70" fill="#fff" stroke="#111" stroke-width="1.6"/>
<path d="M1183.28,203.34 L1187.50,207.56 L1184.33,210.73 L1187.50,213.90 L1183.28,218.13 L1180.11,214.96 L1176.94,218.13 L1172.71,213.90 L1175.88,210.73 L1172.71,207.56 L1176.94,203.34 L1180.11,206.51 Z" fill="#fff" stroke="#111" stroke-width="1.6" stroke-linejoin="round"/>
<circle cx="1208.88" cy="148.98" r="7.70" fill="#fff" stroke="#111" stroke-width="1.6"/>
<path d="M1212.05,182.95 L1216.28,187.18 L1213.11,190.35 L1216.28,193.52 L1212.05,197.74 L1208.88,194.57 L1205.72,197.74 L1201.49,193.52 L1204.66,190.35 L1201.49,187.18 L1205.72,182.95 L1208.88,186.12 Z" fill="#fff" stroke="#111" stroke-width="1.6" stroke-linejoin="round"/>
<circle cx="1208.88" cy="251.20" r="7.70" fill="#fff" stroke="#111" stroke-width="1.6"/>
<path d="M1212.05,248.90 L1216.28,253.13 L1213.11,256.29 L1216.28,259.46 L1212.05,263.69 L1208.88,260.52 L1205.72,263.69 L1201.49,259.46 L1204.66,256.29 L1201.49,253.13 L1205.72,248.90 L1208.88,252.07 Z" fill="#fff" stroke="#111" stroke-width="1.6" stroke-linejoin="round"/>
<circle cx="1237.36" cy="296.16" r="7.70" fill="#fff" stroke="#111" stroke-width="1.6"/>
<circle cx="1237.36" cy="383.69" r="7.70" fill="#fff" stroke="#111" stroke-width="1.6"/>
<path d="M1240.53,391.29 L1244.76,395.51 L1241.59,398.68 L1244.76,401.85 L1240.53,406.07 L1237.36,402.91 L1234.19,406.07 L1229.97,401.85 L1233.14,398.68 L1229.97,395.51 L1234.19,391.29 L1237.36,394.46 Z" fill="#fff" stroke="#111" stroke-width="1.6" stroke-linejoin="round"/>
<path d="M1240.53,371.80 L1244.76,376.03 L1241.59,379.20 L1244.76,382.37 L1240.53,386.59 L1237.36,383.42 L1234.19,386.59 L1229.97,382.37 L1233.14,379.20 L1229.97,376.03 L1234.19,371.80 L1237.36,374.97 Z" fill="#fff" stroke="#111" stroke-width="1.6" stroke-linejoin="round"/>
<path d="M1269.31,358.31 L1273.53,362.54 L1270.36,365.71 L1273.53,368.88 L1269.31,373.10 L1266.14,369.93 L1262.97,373.10 L1258.75,368.88 L1261.91,365.71 L1258.75,362.54 L1262.97,358.31 L1266.14,361.48 Z" fill="#fff" stroke="#111" stroke-width="1.6" stroke-linejoin="round"/>
<circle cx="1266.14" cy="379.20" r="7.70" fill="#fff" stroke="#111" stroke-width="1.6"/>
<circle cx="1266.14" cy="431.65" r="7.70" fill="#fff" stroke="#111" stroke-width="1.6"/>
<path d="M1269.31,382.29 L1273.53,386.52 L1270.36,389.69 L1273.53,392.86 L1269.31,397.08 L1266.14,393.91 L1262.97,397.08 L1258.75,392.86 L1261.91,389.69 L1258.75,386.52 L1262.97,382.29 L1266.14,385.46 Z" fill="#fff" stroke="#111" stroke-width="1.6" stroke-linejoin="round"/>
<circle cx="1294.62" cy="218.82" r="7.70" fill="#fff" stroke="#111" stroke-width="1.6"/>
<circle cx="1294.62" cy="247.30" r="7.70" fill="#fff" stroke="#111" stroke-width="1.6"/>
<path d="M1297.79,276.78 L1302.01,281.00 L1298.84,284.17 L1302.01,287.34 L1297.79,291.57 L1294.62,288.40 L1291.45,291.57 L1287.22,287.34 L1290.39,284.17 L1287.22,281.00 L1291.45,276.78 L1294.62,279.95 Z" fill="#fff" stroke="#111" stroke-width="1.6" stroke-linejoin="round"/>
<path d="M1297.79,263.89 L1302.01,268.11 L1298.84,271.28 L1302.01,274.45 L1297.79,278.68 L1294.62,275.51 L1291.45,278.68 L1287.22,274.45 L1290.39,271.28 L1287.22,268.11 L1291.45,263.89 L1294.62,267.06 Z" fill="#fff" stroke="#111" stroke-width="1.6" stroke-linejoin="round"/>
<path d="M1326.56,250.40 L1330.79,254.62 L1327.62,257.79 L1330.79,260.96 L1326.56,265.19 L1323.39,262.02 L1320.22,265.19 L1316.00,260.96 L1319.17,257.79 L1316.00,254.62 L1320.22,250.40 L1323.39,253.57 Z" fill="#fff" stroke="#111" stroke-width="1.6" stroke-linejoin="round"/>
<circle cx="1323.39" cy="329.14" r="7.70" fill="#fff" stroke="#111" stroke-width="1.6"/>
<path d="M1326.56,256.40 L1330.79,260.62 L1327.62,263.79 L1330.79,266.96 L1326.56,271.18 L1323.39,268.01 L1320.22,271.18 L1316.00,266.96 L1319.17,263.79 L1316.00,260.62 L1320.22,256.40 L1323.39,259.56 Z" fill="#fff" stroke="#111" stroke-width="1.6" stroke-linejoin="round"/>
<circle cx="1323.39" cy="280.28" r="7.70" fill="#fff" stroke="#111" stroke-width="1.6"/>
<path d="M1355.04,374.80 L1359.26,379.03 L1356.10,382.19 L1359.26,385.36 L1355.04,389.59 L1351.87,386.42 L1348.70,389.59 L1344.48,385.36 L1347.65,382.19 L1344.48,379.03 L1348.70,374.80 L1351.87,377.97 Z" fill="#fff" stroke="#111" stroke-width="1.6" stroke-linejoin="round"/>
<circle cx="1351.87" cy="410.67" r="7.70" fill="#fff" stroke="#111" stroke-width="1.6"/>
<circle cx="1351.87" cy="398.68" r="7.70" fill="#fff" stroke="#111" stroke-width="1.6"/>
<circle cx="1380.35" cy="406.18" r="7.70" fill="#fff" stroke="#111" stroke-width="1.6"/>
<path d="M1383.52,415.87 L1387.74,420.09 L1384.57,423.26 L1387.74,426.43 L1383.52,430.66 L1380.35,427.49 L1377.18,430.66 L1372.95,426.43 L1376.12,423.26 L1372.95,420.09 L1377.18,415.87 L1380.35,419.04 Z" fill="#fff" stroke="#111" stroke-width="1.6" stroke-linejoin="round"/>
<path d="M1383.52,404.18 L1387.74,408.40 L1384.57,411.57 L1387.74,414.74 L1383.52,418.96 L1380.35,415.80 L1377.18,418.96 L1372.95,414.74 L1376.12,411.57 L1372.95,408.40 L1377.18,404.18 L1380.35,407.35 Z" fill="#fff" stroke="#111" stroke-width="1.6" stroke-linejoin="round"/>
<path d="M1065.90,384.70 L1065.90,376.20 L1094.98,376.20 L1094.98,384.70" fill="none" stroke="#1a1a1a" stroke-width="1.7" />
<text x="1080.44" y="373.00" font-size="25.5" text-anchor="middle" >ns</text>
<path d="M1123.15,344.23 L1123.15,335.73 L1152.23,335.73 L1152.23,344.23" fill="none" stroke="#1a1a1a" stroke-width="1.7" />
<text x="1137.69" y="332.53" font-size="25.5" text-anchor="middle" >ns</text>
<path d="M1180.11,81.94 L1180.11,73.44 L1209.18,73.44 L1209.18,81.94" fill="none" stroke="#1a1a1a" stroke-width="1.7" />
<text x="1194.65" y="70.24" font-size="25.5" text-anchor="middle" >ns</text>
<path d="M1237.36,274.39 L1237.36,265.89 L1266.44,265.89 L1266.44,274.39" fill="none" stroke="#1a1a1a" stroke-width="1.7" />
<text x="1251.90" y="262.69" font-size="25.5" text-anchor="middle" >ns</text>
<path d="M1294.62,197.35 L1294.62,188.85 L1323.69,188.85 L1323.69,197.35" fill="none" stroke="#1a1a1a" stroke-width="1.7" />
<text x="1309.15" y="185.65" font-size="25.5" text-anchor="middle" >ns</text>
<path d="M1351.87,360.12 L1351.87,351.62 L1380.65,351.62 L1380.65,360.12" fill="none" stroke="#1a1a1a" stroke-width="1.7" />
<text x="1366.26" y="350.12" font-size="24" text-anchor="middle" >*</text>
<rect x="1051.81" y="478.72" width="28.60" height="12.89" fill="#3B78F0" stroke="#33373d" stroke-width="1.3" />
<rect x="1080.41" y="478.72" width="28.60" height="12.89" fill="#3B78F0" stroke="#33373d" stroke-width="1.3" />
<rect x="1109.01" y="478.72" width="28.60" height="12.89" fill="#2EC9C0" stroke="#33373d" stroke-width="1.3" />
<rect x="1137.62" y="478.72" width="28.60" height="12.89" fill="#2EC9C0" stroke="#33373d" stroke-width="1.3" />
<rect x="1166.22" y="478.72" width="28.60" height="12.89" fill="#3DB60A" stroke="#33373d" stroke-width="1.3" />
<rect x="1194.82" y="478.72" width="28.60" height="12.89" fill="#3DB60A" stroke="#33373d" stroke-width="1.3" />
<rect x="1223.42" y="478.72" width="28.60" height="12.89" fill="#C2A600" stroke="#33373d" stroke-width="1.3" />
<rect x="1252.03" y="478.72" width="28.60" height="12.89" fill="#C2A600" stroke="#33373d" stroke-width="1.3" />
<rect x="1280.63" y="478.72" width="28.60" height="12.89" fill="#F49AD0" stroke="#33373d" stroke-width="1.3" />
<rect x="1309.23" y="478.72" width="28.60" height="12.89" fill="#F49AD0" stroke="#33373d" stroke-width="1.3" />
<rect x="1337.83" y="478.72" width="28.60" height="12.89" fill="#C0373A" stroke="#33373d" stroke-width="1.3" />
<rect x="1366.43" y="478.72" width="28.60" height="12.89" fill="#C0373A" stroke="#33373d" stroke-width="1.3" />
<text x="1690.13" y="30.37" font-size="33" text-anchor="middle" >Hippocampus</text>
<rect x="1529.48" y="207.63" width="15.50" height="255.65" fill="#8BD2D4" />
<rect x="1558.08" y="247.88" width="15.50" height="215.40" fill="#F5BFBB" />
<rect x="1586.69" y="223.87" width="15.50" height="239.41" fill="#8BD2D4" />
<rect x="1615.29" y="243.64" width="15.50" height="219.63" fill="#F5BFBB" />
<rect x="1643.89" y="229.52" width="15.50" height="233.76" fill="#8BD2D4" />
<rect x="1672.49" y="169.84" width="15.50" height="293.43" fill="#F5BFBB" />
<rect x="1701.09" y="395.48" width="15.50" height="67.80" fill="#8BD2D4" />
<rect x="1729.69" y="413.14" width="15.50" height="50.14" fill="#F5BFBB" />
<rect x="1758.30" y="289.55" width="15.50" height="173.73" fill="#8BD2D4" />
<rect x="1786.90" y="294.84" width="15.50" height="168.43" fill="#F5BFBB" />
<rect x="1815.15" y="393.71" width="15.50" height="69.56" fill="#8BD2D4" />
<rect x="1843.75" y="397.25" width="15.50" height="66.03" fill="#F5BFBB" />
<line x1="1522.75" y1="46.61" x2="1522.75" y2="464.08" stroke="#1a1a1a" stroke-width="1.7" />
<line x1="1515.34" y1="463.28" x2="1865.62" y2="463.28" stroke="#1a1a1a" stroke-width="1.7" />
<line x1="1515.95" y1="463.28" x2="1522.75" y2="463.28" stroke="#1a1a1a" stroke-width="1.7" />
<text x="1507.15" y="471.68" font-size="25.8" text-anchor="end" >0</text>
<line x1="1515.95" y1="403.60" x2="1522.75" y2="403.60" stroke="#1a1a1a" stroke-width="1.7" />
<text x="1507.15" y="412.00" font-size="25.8" text-anchor="end" >5</text>
<line x1="1515.95" y1="343.57" x2="1522.75" y2="343.57" stroke="#1a1a1a" stroke-width="1.7" />
<text x="1507.15" y="351.97" font-size="25.8" text-anchor="end" >10</text>
<line x1="1515.95" y1="283.90" x2="1522.75" y2="283.90" stroke="#1a1a1a" stroke-width="1.7" />
<text x="1507.15" y="292.30" font-size="25.8" text-anchor="end" >15</text>
<line x1="1515.95" y1="223.87" x2="1522.75" y2="223.87" stroke="#1a1a1a" stroke-width="1.7" />
<text x="1507.15" y="232.27" font-size="25.8" text-anchor="end" >20</text>
<line x1="1515.95" y1="163.84" x2="1522.75" y2="163.84" stroke="#1a1a1a" stroke-width="1.7" />
<text x="1507.15" y="172.24" font-size="25.8" text-anchor="end" >25</text>
<line x1="1515.95" y1="103.81" x2="1522.75" y2="103.81" stroke="#1a1a1a" stroke-width="1.7" />
<text x="1507.15" y="112.21" font-size="25.8" text-anchor="end" >30</text>
<line x1="1537.23" y1="463.28" x2="1537.23" y2="471.78" stroke="#1a1a1a" stroke-width="1.7" />
<line x1="1565.83" y1="463.28" x2="1565.83" y2="471.78" stroke="#1a1a1a" stroke-width="1.7" />
<line x1="1594.44" y1="463.28" x2="1594.44" y2="471.78" stroke="#1a1a1a" stroke-width="1.7" />
<line x1="1623.04" y1="463.28" x2="1623.04" y2="471.78" stroke="#1a1a1a" stroke-width="1.7" />
<line x1="1651.64" y1="463.28" x2="1651.64" y2="471.78" stroke="#1a1a1a" stroke-width="1.7" />
<line x1="1680.24" y1="463.28" x2="1680.24" y2="471.78" stroke="#1a1a1a" stroke-width="1.7" />
<line x1="1708.84" y1="463.28" x2="1708.84" y2="471.78" stroke="#1a1a1a" stroke-width="1.7" />
<line x1="1737.44" y1="463.28" x2="1737.44" y2="471.78" stroke="#1a1a1a" stroke-width="1.7" />
<line x1="1766.05" y1="463.28" x2="1766.05" y2="471.78" stroke="#1a1a1a" stroke-width="1.7" />
<line x1="1794.65" y1="463.28" x2="1794.65" y2="471.78" stroke="#1a1a1a" stroke-width="1.7" />
<line x1="1822.90" y1="463.28" x2="1822.90" y2="471.78" stroke="#1a1a1a" stroke-width="1.7" />
<line x1="1851.50" y1="463.28" x2="1851.50" y2="471.78" stroke="#1a1a1a" stroke-width="1.7" />
<text x="1449.04" y="260.24" font-size="27.5" text-anchor="middle" transform="rotate(-90.00 1449.04 260.24)" ># cells per mm<tspan font-size="17" dy="-8">2</tspan></text>
<line x1="1537.23" y1="200.56" x2="1537.23" y2="212.57" stroke="#222" stroke-width="1.7" />
<rect x="1528.38" y="204.80" width="17.70" height="6.36" fill="#22A5A8" stroke="#17393B" stroke-width="1.7" />
<line x1="1565.83" y1="152.19" x2="1565.83" y2="283.90" stroke="#222" stroke-width="1.7" />
<rect x="1556.98" y="214.69" width="17.70" height="51.20" fill="#EA827C" stroke="#3E2B2A" stroke-width="1.7" />
<line x1="1556.98" y1="247.88" x2="1574.68" y2="247.88" stroke="#3E2B2A" stroke-width="1.7" />
<line x1="1594.44" y1="152.19" x2="1594.44" y2="260.59" stroke="#222" stroke-width="1.7" />
<rect x="1585.59" y="187.85" width="17.70" height="63.56" fill="#22A5A8" stroke="#17393B" stroke-width="1.7" />
<line x1="1585.59" y1="223.87" x2="1603.29" y2="223.87" stroke="#17393B" stroke-width="1.7" />
<line x1="1623.04" y1="254.24" x2="1623.04" y2="271.89" stroke="#222" stroke-width="1.7" />
<rect x="1614.19" y="235.88" width="17.70" height="18.36" fill="#EA827C" stroke="#3E2B2A" stroke-width="1.7" />
<line x1="1614.19" y1="243.64" x2="1631.89" y2="243.64" stroke="#3E2B2A" stroke-width="1.7" />
<line x1="1651.64" y1="152.19" x2="1651.64" y2="271.89" stroke="#222" stroke-width="1.7" />
<rect x="1642.79" y="205.86" width="17.70" height="38.84" fill="#22A5A8" stroke="#17393B" stroke-width="1.7" />
<line x1="1642.79" y1="229.52" x2="1660.49" y2="229.52" stroke="#17393B" stroke-width="1.7" />
<line x1="1680.24" y1="104.17" x2="1680.24" y2="211.86" stroke="#222" stroke-width="1.7" />
<rect x="1671.39" y="130.65" width="17.70" height="73.09" fill="#EA827C" stroke="#3E2B2A" stroke-width="1.7" />
<line x1="1671.39" y1="169.84" x2="1689.09" y2="169.84" stroke="#3E2B2A" stroke-width="1.7" />
<line x1="1708.84" y1="355.58" x2="1708.84" y2="415.61" stroke="#222" stroke-width="1.7" />
<rect x="1699.99" y="382.42" width="17.70" height="23.66" fill="#22A5A8" stroke="#17393B" stroke-width="1.7" />
<line x1="1737.44" y1="391.24" x2="1737.44" y2="451.62" stroke="#222" stroke-width="1.7" />
<rect x="1728.59" y="400.07" width="17.70" height="24.72" fill="#EA827C" stroke="#3E2B2A" stroke-width="1.7" />
<line x1="1766.05" y1="175.85" x2="1766.05" y2="367.58" stroke="#222" stroke-width="1.7" />
<rect x="1757.20" y="256.71" width="17.70" height="56.85" fill="#22A5A8" stroke="#17393B" stroke-width="1.7" />
<line x1="1794.65" y1="283.90" x2="1794.65" y2="319.92" stroke="#222" stroke-width="1.7" />
<rect x="1785.80" y="283.90" width="17.70" height="26.84" fill="#EA827C" stroke="#3E2B2A" stroke-width="1.7" />
<line x1="1785.80" y1="294.84" x2="1803.50" y2="294.84" stroke="#3E2B2A" stroke-width="1.7" />
<line x1="1822.90" y1="385.59" x2="1822.90" y2="403.60" stroke="#222" stroke-width="1.7" />
<rect x="1814.05" y="385.59" width="17.70" height="16.95" fill="#22A5A8" stroke="#17393B" stroke-width="1.7" />
<line x1="1851.50" y1="379.59" x2="1851.50" y2="415.61" stroke="#222" stroke-width="1.7" />
<rect x="1842.65" y="388.42" width="17.70" height="17.66" fill="#EA827C" stroke="#3E2B2A" stroke-width="1.7" />
<circle cx="1537.23" cy="207.63" r="7.70" fill="#fff" stroke="#111" stroke-width="1.6"/>
<path d="M1540.40,204.47 L1544.63,208.70 L1541.46,211.86 L1544.63,215.03 L1540.40,219.26 L1537.23,216.09 L1534.06,219.26 L1529.84,215.03 L1533.01,211.86 L1529.84,208.70 L1534.06,204.47 L1537.23,207.64 Z" fill="#fff" stroke="#111" stroke-width="1.6" stroke-linejoin="round"/>
<path d="M1540.40,193.17 L1544.63,197.40 L1541.46,200.56 L1544.63,203.73 L1540.40,207.96 L1537.23,204.79 L1534.06,207.96 L1529.84,203.73 L1533.01,200.56 L1529.84,197.40 L1534.06,193.17 L1537.23,196.34 Z" fill="#fff" stroke="#111" stroke-width="1.6" stroke-linejoin="round"/>
<circle cx="1565.83" cy="152.19" r="7.70" fill="#fff" stroke="#111" stroke-width="1.6"/>
<circle cx="1565.83" cy="283.90" r="7.70" fill="#fff" stroke="#111" stroke-width="1.6"/>
<path d="M1569.00,228.48 L1573.23,232.71 L1570.06,235.88 L1573.23,239.04 L1569.00,243.27 L1565.83,240.10 L1562.66,243.27 L1558.44,239.04 L1561.61,235.88 L1558.44,232.71 L1562.66,228.48 L1565.83,231.65 Z" fill="#fff" stroke="#111" stroke-width="1.6" stroke-linejoin="round"/>
<path d="M1569.00,253.20 L1573.23,257.42 L1570.06,260.59 L1573.23,263.76 L1569.00,267.99 L1565.83,264.82 L1562.66,267.99 L1558.44,263.76 L1561.61,260.59 L1558.44,257.42 L1562.66,253.20 L1565.83,256.37 Z" fill="#fff" stroke="#111" stroke-width="1.6" stroke-linejoin="round"/>
<path d="M1597.60,144.80 L1601.83,149.02 L1598.66,152.19 L1601.83,155.36 L1597.60,159.58 L1594.44,156.41 L1591.27,159.58 L1587.04,155.36 L1590.21,152.19 L1587.04,149.02 L1591.27,144.80 L1594.44,147.96 Z" fill="#fff" stroke="#111" stroke-width="1.6" stroke-linejoin="round"/>
<circle cx="1594.44" cy="260.59" r="7.70" fill="#fff" stroke="#111" stroke-width="1.6"/>
<circle cx="1594.44" cy="199.86" r="7.70" fill="#fff" stroke="#111" stroke-width="1.6"/>
<path d="M1597.60,240.49 L1601.83,244.71 L1598.66,247.88 L1601.83,251.05 L1597.60,255.28 L1594.44,252.11 L1591.27,255.28 L1587.04,251.05 L1590.21,247.88 L1587.04,244.71 L1591.27,240.49 L1594.44,243.66 Z" fill="#fff" stroke="#111" stroke-width="1.6" stroke-linejoin="round"/>
<path d="M1626.21,192.46 L1630.43,196.69 L1627.26,199.86 L1630.43,203.03 L1626.21,207.25 L1623.04,204.08 L1619.87,207.25 L1615.64,203.03 L1618.81,199.86 L1615.64,196.69 L1619.87,192.46 L1623.04,195.63 Z" fill="#fff" stroke="#111" stroke-width="1.6" stroke-linejoin="round"/>
<circle cx="1623.04" cy="271.89" r="7.70" fill="#fff" stroke="#111" stroke-width="1.6"/>
<circle cx="1623.04" cy="248.23" r="7.70" fill="#fff" stroke="#111" stroke-width="1.6"/>
<path d="M1654.81,144.80 L1659.03,149.02 L1655.86,152.19 L1659.03,155.36 L1654.81,159.58 L1651.64,156.41 L1648.47,159.58 L1644.24,155.36 L1647.41,152.19 L1644.24,149.02 L1648.47,144.80 L1651.64,147.96 Z" fill="#fff" stroke="#111" stroke-width="1.6" stroke-linejoin="round"/>
<circle cx="1651.64" cy="271.89" r="7.70" fill="#fff" stroke="#111" stroke-width="1.6"/>
<circle cx="1651.64" cy="223.87" r="7.70" fill="#fff" stroke="#111" stroke-width="1.6"/>
<path d="M1654.81,228.48 L1659.03,232.71 L1655.86,235.88 L1659.03,239.04 L1654.81,243.27 L1651.64,240.10 L1648.47,243.27 L1644.24,239.04 L1647.41,235.88 L1644.24,232.71 L1648.47,228.48 L1651.64,231.65 Z" fill="#fff" stroke="#111" stroke-width="1.6" stroke-linejoin="round"/>
<circle cx="1680.24" cy="104.17" r="7.70" fill="#fff" stroke="#111" stroke-width="1.6"/>
<circle cx="1680.24" cy="140.18" r="7.70" fill="#fff" stroke="#111" stroke-width="1.6"/>
<path d="M1683.41,204.47 L1687.63,208.70 L1684.47,211.86 L1687.63,215.03 L1683.41,219.26 L1680.24,216.09 L1677.07,219.26 L1672.85,215.03 L1676.02,211.86 L1672.85,208.70 L1677.07,204.47 L1680.24,207.64 Z" fill="#fff" stroke="#111" stroke-width="1.6" stroke-linejoin="round"/>
<path d="M1683.41,192.46 L1687.63,196.69 L1684.47,199.86 L1687.63,203.03 L1683.41,207.25 L1680.24,204.08 L1677.07,207.25 L1672.85,203.03 L1676.02,199.86 L1672.85,196.69 L1677.07,192.46 L1680.24,195.63 Z" fill="#fff" stroke="#111" stroke-width="1.6" stroke-linejoin="round"/>
<path d="M1712.01,348.19 L1716.24,352.41 L1713.07,355.58 L1716.24,358.75 L1712.01,362.97 L1708.84,359.80 L1705.67,362.97 L1701.45,358.75 L1704.62,355.58 L1701.45,352.41 L1705.67,348.19 L1708.84,351.35 Z" fill="#fff" stroke="#111" stroke-width="1.6" stroke-linejoin="round"/>
<circle cx="1708.84" cy="415.61" r="7.70" fill="#fff" stroke="#111" stroke-width="1.6"/>
<path d="M1712.01,383.85 L1716.24,388.07 L1713.07,391.24 L1716.24,394.41 L1712.01,398.64 L1708.84,395.47 L1705.67,398.64 L1701.45,394.41 L1704.62,391.24 L1701.45,388.07 L1705.67,383.85 L1708.84,387.02 Z" fill="#fff" stroke="#111" stroke-width="1.6" stroke-linejoin="round"/>
<circle cx="1708.84" cy="403.60" r="7.70" fill="#fff" stroke="#111" stroke-width="1.6"/>
<path d="M1740.61,383.85 L1744.84,388.07 L1741.67,391.24 L1744.84,394.41 L1740.61,398.64 L1737.44,395.47 L1734.27,398.64 L1730.05,394.41 L1733.22,391.24 L1730.05,388.07 L1734.27,383.85 L1737.44,387.02 Z" fill="#fff" stroke="#111" stroke-width="1.6" stroke-linejoin="round"/>
<circle cx="1737.44" cy="403.60" r="7.70" fill="#fff" stroke="#111" stroke-width="1.6"/>
<circle cx="1737.44" cy="451.62" r="7.70" fill="#fff" stroke="#111" stroke-width="1.6"/>
<path d="M1740.61,408.21 L1744.84,412.44 L1741.67,415.61 L1744.84,418.78 L1740.61,423.00 L1737.44,419.83 L1734.27,423.00 L1730.05,418.78 L1733.22,415.61 L1730.05,412.44 L1734.27,408.21 L1737.44,411.38 Z" fill="#fff" stroke="#111" stroke-width="1.6" stroke-linejoin="round"/>
<path d="M1769.21,168.45 L1773.44,172.68 L1770.27,175.85 L1773.44,179.02 L1769.21,183.24 L1766.05,180.07 L1762.88,183.24 L1758.65,179.02 L1761.82,175.85 L1758.65,172.68 L1762.88,168.45 L1766.05,171.62 Z" fill="#fff" stroke="#111" stroke-width="1.6" stroke-linejoin="round"/>
<path d="M1769.21,360.19 L1773.44,364.42 L1770.27,367.58 L1773.44,370.75 L1769.21,374.98 L1766.05,371.81 L1762.88,374.98 L1758.65,370.75 L1761.82,367.58 L1758.65,364.42 L1762.88,360.19 L1766.05,363.36 Z" fill="#fff" stroke="#111" stroke-width="1.6" stroke-linejoin="round"/>
<circle cx="1766.05" cy="283.90" r="7.70" fill="#fff" stroke="#111" stroke-width="1.6"/>
<circle cx="1766.05" cy="295.90" r="7.70" fill="#fff" stroke="#111" stroke-width="1.6"/>
<circle cx="1794.65" cy="283.90" r="7.70" fill="#fff" stroke="#111" stroke-width="1.6"/>
<path d="M1797.82,312.52 L1802.04,316.75 L1798.87,319.92 L1802.04,323.08 L1797.82,327.31 L1794.65,324.14 L1791.48,327.31 L1787.25,323.08 L1790.42,319.92 L1787.25,316.75 L1791.48,312.52 L1794.65,315.69 Z" fill="#fff" stroke="#111" stroke-width="1.6" stroke-linejoin="round"/>
<circle cx="1794.65" cy="307.20" r="7.70" fill="#fff" stroke="#111" stroke-width="1.6"/>
<path d="M1797.82,276.50 L1802.04,280.73 L1798.87,283.90 L1802.04,287.07 L1797.82,291.29 L1794.65,288.12 L1791.48,291.29 L1787.25,287.07 L1790.42,283.90 L1787.25,280.73 L1791.48,276.50 L1794.65,279.67 Z" fill="#fff" stroke="#111" stroke-width="1.6" stroke-linejoin="round"/>
<circle cx="1822.90" cy="367.58" r="7.70" fill="#fff" stroke="#111" stroke-width="1.6"/>
<circle cx="1822.90" cy="403.60" r="7.70" fill="#fff" stroke="#111" stroke-width="1.6"/>
<path d="M1826.06,383.85 L1830.29,388.07 L1827.12,391.24 L1830.29,394.41 L1826.06,398.64 L1822.90,395.47 L1819.73,398.64 L1815.50,394.41 L1818.67,391.24 L1815.50,388.07 L1819.73,383.85 L1822.90,387.02 Z" fill="#fff" stroke="#111" stroke-width="1.6" stroke-linejoin="round"/>
<path d="M1854.67,372.20 L1858.89,376.42 L1855.72,379.59 L1858.89,382.76 L1854.67,386.98 L1851.50,383.82 L1848.33,386.98 L1844.10,382.76 L1847.27,379.59 L1844.10,376.42 L1848.33,372.20 L1851.50,375.37 Z" fill="#fff" stroke="#111" stroke-width="1.6" stroke-linejoin="round"/>
<circle cx="1851.50" cy="391.95" r="7.70" fill="#fff" stroke="#111" stroke-width="1.6"/>
<circle cx="1851.50" cy="415.61" r="7.70" fill="#fff" stroke="#111" stroke-width="1.6"/>
<path d="M1854.67,396.21 L1858.89,400.43 L1855.72,403.60 L1858.89,406.77 L1854.67,411.00 L1851.50,407.83 L1848.33,411.00 L1844.10,406.77 L1847.27,403.60 L1844.10,400.43 L1848.33,396.21 L1851.50,399.38 Z" fill="#fff" stroke="#111" stroke-width="1.6" stroke-linejoin="round"/>
<path d="M1537.23,130.32 L1537.23,121.82 L1565.83,121.82 L1565.83,130.32" fill="none" stroke="#1a1a1a" stroke-width="1.7" />
<text x="1551.53" y="118.62" font-size="25.5" text-anchor="middle" >ns</text>
<path d="M1594.44,130.32 L1594.44,121.82 L1623.04,121.82 L1623.04,130.32" fill="none" stroke="#1a1a1a" stroke-width="1.7" />
<text x="1608.74" y="118.62" font-size="25.5" text-anchor="middle" >ns</text>
<path d="M1651.64,82.65 L1651.64,74.15 L1680.24,74.15 L1680.24,82.65" fill="none" stroke="#1a1a1a" stroke-width="1.7" />
<text x="1665.94" y="70.95" font-size="25.5" text-anchor="middle" >ns</text>
<path d="M1708.84,334.06 L1708.84,325.56 L1737.44,325.56 L1737.44,334.06" fill="none" stroke="#1a1a1a" stroke-width="1.7" />
<text x="1723.14" y="322.36" font-size="25.5" text-anchor="middle" >ns</text>
<path d="M1766.05,153.98 L1766.05,145.48 L1794.65,145.48 L1794.65,153.98" fill="none" stroke="#1a1a1a" stroke-width="1.7" />
<text x="1780.35" y="142.28" font-size="25.5" text-anchor="middle" >ns</text>
<path d="M1822.90,346.78 L1822.90,338.28 L1851.50,338.28 L1851.50,346.78" fill="none" stroke="#1a1a1a" stroke-width="1.7" />
<text x="1837.20" y="335.08" font-size="25.5" text-anchor="middle" >ns</text>
<rect x="1521.34" y="478.46" width="28.69" height="13.06" fill="#3B78F0" stroke="#33373d" stroke-width="1.3" />
<rect x="1550.03" y="478.46" width="28.69" height="13.06" fill="#3B78F0" stroke="#33373d" stroke-width="1.3" />
<rect x="1578.72" y="478.46" width="28.69" height="13.06" fill="#2EC9C0" stroke="#33373d" stroke-width="1.3" />
<rect x="1607.41" y="478.46" width="28.69" height="13.06" fill="#2EC9C0" stroke="#33373d" stroke-width="1.3" />
<rect x="1636.10" y="478.46" width="28.69" height="13.06" fill="#3DB60A" stroke="#33373d" stroke-width="1.3" />
<rect x="1664.79" y="478.46" width="28.69" height="13.06" fill="#3DB60A" stroke="#33373d" stroke-width="1.3" />
<rect x="1693.48" y="478.46" width="28.69" height="13.06" fill="#C2A600" stroke="#33373d" stroke-width="1.3" />
<rect x="1722.17" y="478.46" width="28.69" height="13.06" fill="#C2A600" stroke="#33373d" stroke-width="1.3" />
<rect x="1750.86" y="478.46" width="28.69" height="13.06" fill="#F49AD0" stroke="#33373d" stroke-width="1.3" />
<rect x="1779.55" y="478.46" width="28.69" height="13.06" fill="#F49AD0" stroke="#33373d" stroke-width="1.3" />
<rect x="1808.24" y="478.46" width="28.69" height="13.06" fill="#C0373A" stroke="#33373d" stroke-width="1.3" />
<rect x="1836.93" y="478.46" width="28.69" height="13.06" fill="#C0373A" stroke="#33373d" stroke-width="1.3" />
<rect x="1842.67" y="143.01" width="15.18" height="14.83" fill="#22A5A8" />
<rect x="1842.67" y="178.32" width="15.18" height="14.83" fill="#EA827C" />
<circle cx="1850.08" cy="221.75" r="7.60" fill="#fff" stroke="#111" stroke-width="1.4"/>
<path d="M1853.48,247.38 L1858.00,251.90 L1854.61,255.30 L1858.00,258.69 L1853.48,263.22 L1850.08,259.82 L1846.69,263.22 L1842.17,258.69 L1845.56,255.30 L1842.17,251.90 L1846.69,247.38 L1850.08,250.77 Z" fill="#fff" stroke="#111" stroke-width="1.4" />
<text x="1865.62" y="157.84" font-size="25" >Control</text>
<text x="1865.62" y="193.15" font-size="25" >TauPS2APP</text>
<text x="1865.62" y="229.52" font-size="25" >8 mo</text>
<text x="1865.62" y="263.06" font-size="25" >13 mo</text>
<text x="7.50" y="558.00" font-size="31" font-weight="bold" >c</text>
<text x="303.66" y="562.27" font-size="33" text-anchor="middle" >Cortex</text>
<rect x="149.88" y="578.45" width="229.32" height="317.75" fill="#EBEBEB" />
<rect x="393.59" y="578.45" width="56.06" height="317.75" fill="#EBEBEB" />
<line x1="149.88" y1="837.45" x2="379.20" y2="837.45" stroke="#FFFFFF" stroke-width="0.8" opacity="0.6"/>
<line x1="149.88" y1="748.12" x2="379.20" y2="748.12" stroke="#FFFFFF" stroke-width="0.8" opacity="0.6"/>
<line x1="149.88" y1="659.09" x2="379.20" y2="659.09" stroke="#FFFFFF" stroke-width="0.8" opacity="0.6"/>
<line x1="149.88" y1="882.11" x2="379.20" y2="882.11" stroke="#FFFFFF" stroke-width="1.3" opacity="0.85"/>
<line x1="149.88" y1="792.78" x2="379.20" y2="792.78" stroke="#FFFFFF" stroke-width="1.3" opacity="0.85"/>
<line x1="149.88" y1="703.75" x2="379.20" y2="703.75" stroke="#FFFFFF" stroke-width="1.3" opacity="0.85"/>
<line x1="149.88" y1="614.72" x2="379.20" y2="614.72" stroke="#FFFFFF" stroke-width="1.3" opacity="0.85"/>
<line x1="393.59" y1="837.45" x2="449.64" y2="837.45" stroke="#FFFFFF" stroke-width="0.8" opacity="0.6"/>
<line x1="393.59" y1="748.12" x2="449.64" y2="748.12" stroke="#FFFFFF" stroke-width="0.8" opacity="0.6"/>
<line x1="393.59" y1="659.09" x2="449.64" y2="659.09" stroke="#FFFFFF" stroke-width="0.8" opacity="0.6"/>
<line x1="393.59" y1="882.11" x2="449.64" y2="882.11" stroke="#FFFFFF" stroke-width="1.3" opacity="0.85"/>
<line x1="393.59" y1="792.78" x2="449.64" y2="792.78" stroke="#FFFFFF" stroke-width="1.3" opacity="0.85"/>
<line x1="393.59" y1="703.75" x2="449.64" y2="703.75" stroke="#FFFFFF" stroke-width="1.3" opacity="0.85"/>
<line x1="393.59" y1="614.72" x2="449.64" y2="614.72" stroke="#FFFFFF" stroke-width="1.3" opacity="0.85"/>
<line x1="175.66" y1="578.45" x2="175.66" y2="896.20" stroke="#FFFFFF" stroke-width="1.3" opacity="0.85"/>
<line x1="219.42" y1="578.45" x2="219.42" y2="896.20" stroke="#FFFFFF" stroke-width="1.3" opacity="0.85"/>
<line x1="263.19" y1="578.45" x2="263.19" y2="896.20" stroke="#FFFFFF" stroke-width="1.3" opacity="0.85"/>
<line x1="306.65" y1="578.45" x2="306.65" y2="896.20" stroke="#FFFFFF" stroke-width="1.3" opacity="0.85"/>
<line x1="350.42" y1="578.45" x2="350.42" y2="896.20" stroke="#FFFFFF" stroke-width="1.3" opacity="0.85"/>
<line x1="422.06" y1="578.45" x2="422.06" y2="896.20" stroke="#FFFFFF" stroke-width="1.3" opacity="0.85"/>
<rect x="156.03" y="767.30" width="39.27" height="7.79" fill="#F4777F" />
<rect x="156.03" y="774.80" width="39.27" height="81.24" fill="#FDB46C" />
<rect x="156.03" y="855.73" width="39.27" height="19.18" fill="#FFFF00" />
<rect x="156.03" y="874.62" width="39.27" height="7.79" fill="#99FF00" />
<rect x="199.79" y="617.42" width="39.27" height="31.18" fill="#F4777F" />
<rect x="199.79" y="648.30" width="39.27" height="144.78" fill="#FDB46C" />
<rect x="199.79" y="792.78" width="39.27" height="59.65" fill="#FFFF00" />
<rect x="199.79" y="852.13" width="39.27" height="30.28" fill="#99FF00" />
<rect x="243.56" y="592.54" width="39.27" height="60.55" fill="#F4777F" />
<rect x="243.56" y="652.79" width="39.27" height="134.29" fill="#FDB46C" />
<rect x="243.56" y="786.79" width="39.27" height="61.15" fill="#FFFF00" />
<rect x="243.56" y="847.64" width="39.27" height="34.77" fill="#99FF00" />
<rect x="287.02" y="634.81" width="39.27" height="46.76" fill="#F4777F" />
<rect x="287.02" y="681.27" width="39.27" height="110.31" fill="#FDB46C" />
<rect x="287.02" y="791.28" width="39.27" height="51.86" fill="#FFFF00" />
<rect x="287.02" y="842.84" width="39.27" height="39.57" fill="#99FF00" />
<rect x="330.79" y="651.00" width="39.27" height="43.17" fill="#F4777F" />
<rect x="330.79" y="693.86" width="39.27" height="91.73" fill="#FDB46C" />
<rect x="330.79" y="785.29" width="39.27" height="61.15" fill="#FFFF00" />
<rect x="330.79" y="846.14" width="39.27" height="36.27" fill="#99FF00" />
<rect x="402.43" y="659.99" width="39.27" height="59.65" fill="#F4777F" />
<rect x="402.43" y="719.34" width="39.27" height="82.13" fill="#FDB46C" />
<rect x="402.43" y="801.18" width="39.27" height="47.36" fill="#FFFF00" />
<rect x="402.43" y="848.24" width="39.27" height="34.17" fill="#99FF00" />
<text x="142.58" y="892.91" font-size="25.2" text-anchor="end" textLength="15.1" lengthAdjust="spacingAndGlyphs" >0</text>
<text x="142.58" y="803.58" font-size="25.2" text-anchor="end" textLength="45.2" lengthAdjust="spacingAndGlyphs" >500</text>
<text x="142.58" y="714.55" font-size="25.2" text-anchor="end" textLength="60.3" lengthAdjust="spacingAndGlyphs" >1000</text>
<text x="142.58" y="625.52" font-size="25.2" text-anchor="end" textLength="60.3" lengthAdjust="spacingAndGlyphs" >1500</text>
<text x="184.42" y="936.42" font-size="25.0" text-anchor="middle" transform="rotate(-45.00 184.42 936.42)" >0-10</text>
<text x="228.19" y="941.33" font-size="25.0" text-anchor="middle" transform="rotate(-45.00 228.19 941.33)" >10-20</text>
<text x="271.95" y="941.33" font-size="25.0" text-anchor="middle" transform="rotate(-45.00 271.95 941.33)" >20-30</text>
<text x="315.42" y="941.33" font-size="25.0" text-anchor="middle" transform="rotate(-45.00 315.42 941.33)" >30-40</text>
<text x="359.18" y="941.33" font-size="25.0" text-anchor="middle" transform="rotate(-45.00 359.18 941.33)" >40-50</text>
<text x="430.83" y="946.72" font-size="25.0" text-anchor="middle" transform="rotate(-45.00 430.83 946.72)" >Overall</text>
<text x="297.66" y="1002.71" font-size="25.1" text-anchor="middle" >Distance to plaque (µm)</text>
<text x="68.94" y="742.62" font-size="25.6" text-anchor="middle" transform="rotate(-90.00 68.94 742.62)" textLength="162.5" lengthAdjust="spacingAndGlyphs" ># cells per mm</text>
<text x="51.94" y="656.62" font-size="15" text-anchor="middle" transform="rotate(-90.00 51.94 656.62)" >2</text>
<rect x="202.67" y="709.45" width="33.50" height="12.00" fill="#FEE3C8" rx="1"/>
<text x="219.42" y="729.25" font-size="25" text-anchor="middle" stroke="#000" stroke-width="0.5">***</text>
<rect x="241.44" y="713.04" width="43.50" height="12.00" fill="#FEE3C8" rx="1"/>
<text x="263.19" y="732.84" font-size="25" text-anchor="middle" stroke="#000" stroke-width="0.5">****</text>
<rect x="294.90" y="724.44" width="23.50" height="12.00" fill="#FEE3C8" rx="1"/>
<text x="306.65" y="744.24" font-size="25" text-anchor="middle" stroke="#000" stroke-width="0.5">**</text>
<rect x="343.67" y="811.96" width="13.50" height="12.00" fill="#FFFF80" rx="1"/>
<text x="350.42" y="831.76" font-size="25" text-anchor="middle" stroke="#000" stroke-width="0.5">*</text>
<text x="782.76" y="562.27" font-size="33" text-anchor="middle" >Hippocampus</text>
<rect x="638.27" y="580.85" width="232.31" height="316.85" fill="#EBEBEB" />
<rect x="885.28" y="580.85" width="52.46" height="316.85" fill="#EBEBEB" />
<line x1="638.27" y1="849.44" x2="870.59" y2="849.44" stroke="#FFFFFF" stroke-width="0.8" opacity="0.6"/>
<line x1="638.27" y1="781.09" x2="870.59" y2="781.09" stroke="#FFFFFF" stroke-width="0.8" opacity="0.6"/>
<line x1="638.27" y1="712.15" x2="870.59" y2="712.15" stroke="#FFFFFF" stroke-width="0.8" opacity="0.6"/>
<line x1="638.27" y1="643.20" x2="870.59" y2="643.20" stroke="#FFFFFF" stroke-width="0.8" opacity="0.6"/>
<line x1="638.27" y1="883.61" x2="870.59" y2="883.61" stroke="#FFFFFF" stroke-width="1.3" opacity="0.85"/>
<line x1="638.27" y1="815.26" x2="870.59" y2="815.26" stroke="#FFFFFF" stroke-width="1.3" opacity="0.85"/>
<line x1="638.27" y1="746.32" x2="870.59" y2="746.32" stroke="#FFFFFF" stroke-width="1.3" opacity="0.85"/>
<line x1="638.27" y1="677.37" x2="870.59" y2="677.37" stroke="#FFFFFF" stroke-width="1.3" opacity="0.85"/>
<line x1="638.27" y1="608.43" x2="870.59" y2="608.43" stroke="#FFFFFF" stroke-width="1.3" opacity="0.85"/>
<line x1="885.28" y1="849.44" x2="937.73" y2="849.44" stroke="#FFFFFF" stroke-width="0.8" opacity="0.6"/>
<line x1="885.28" y1="781.09" x2="937.73" y2="781.09" stroke="#FFFFFF" stroke-width="0.8" opacity="0.6"/>
<line x1="885.28" y1="712.15" x2="937.73" y2="712.15" stroke="#FFFFFF" stroke-width="0.8" opacity="0.6"/>
<line x1="885.28" y1="643.20" x2="937.73" y2="643.20" stroke="#FFFFFF" stroke-width="0.8" opacity="0.6"/>
<line x1="885.28" y1="883.61" x2="937.73" y2="883.61" stroke="#FFFFFF" stroke-width="1.3" opacity="0.85"/>
<line x1="885.28" y1="815.26" x2="937.73" y2="815.26" stroke="#FFFFFF" stroke-width="1.3" opacity="0.85"/>
<line x1="885.28" y1="746.32" x2="937.73" y2="746.32" stroke="#FFFFFF" stroke-width="1.3" opacity="0.85"/>
<line x1="885.28" y1="677.37" x2="937.73" y2="677.37" stroke="#FFFFFF" stroke-width="1.3" opacity="0.85"/>
<line x1="885.28" y1="608.43" x2="937.73" y2="608.43" stroke="#FFFFFF" stroke-width="1.3" opacity="0.85"/>
<line x1="665.85" y1="580.85" x2="665.85" y2="897.70" stroke="#FFFFFF" stroke-width="1.3" opacity="0.85"/>
<line x1="710.22" y1="580.85" x2="710.22" y2="897.70" stroke="#FFFFFF" stroke-width="1.3" opacity="0.85"/>
<line x1="754.58" y1="580.85" x2="754.58" y2="897.70" stroke="#FFFFFF" stroke-width="1.3" opacity="0.85"/>
<line x1="798.94" y1="580.85" x2="798.94" y2="897.70" stroke="#FFFFFF" stroke-width="1.3" opacity="0.85"/>
<line x1="843.31" y1="580.85" x2="843.31" y2="897.70" stroke="#FFFFFF" stroke-width="1.3" opacity="0.85"/>
<line x1="911.06" y1="580.85" x2="911.06" y2="897.70" stroke="#FFFFFF" stroke-width="1.3" opacity="0.85"/>
<rect x="645.92" y="883.01" width="39.87" height="1.20" fill="#9A8FB5" />
<rect x="690.28" y="839.24" width="39.87" height="44.66" fill="#8B0000" />
<rect x="734.65" y="795.78" width="39.87" height="8.69" fill="#9900FF" />
<rect x="734.65" y="804.17" width="39.87" height="79.74" fill="#8B0000" />
<rect x="779.01" y="767.90" width="39.87" height="116.01" fill="#8B0000" />
<rect x="823.38" y="748.72" width="39.87" height="135.19" fill="#8B0000" />
<rect x="891.12" y="594.94" width="39.87" height="98.32" fill="#74FBFB" />
<rect x="891.12" y="692.96" width="39.87" height="32.07" fill="#0A84FF" />
<rect x="891.12" y="724.74" width="39.87" height="61.75" fill="#9900FF" />
<rect x="891.12" y="786.19" width="39.87" height="97.72" fill="#8B0000" />
<text x="633.27" y="892.01" font-size="24.6" text-anchor="end" textLength="13.7" lengthAdjust="spacingAndGlyphs" >0</text>
<text x="633.27" y="823.66" font-size="24.6" text-anchor="end" textLength="41.0" lengthAdjust="spacingAndGlyphs" >250</text>
<text x="633.27" y="754.72" font-size="24.6" text-anchor="end" textLength="41.0" lengthAdjust="spacingAndGlyphs" >500</text>
<text x="633.27" y="685.77" font-size="24.6" text-anchor="end" textLength="41.0" lengthAdjust="spacingAndGlyphs" >750</text>
<text x="633.27" y="616.83" font-size="24.6" text-anchor="end" textLength="54.7" lengthAdjust="spacingAndGlyphs" >1000</text>
<text x="671.31" y="937.92" font-size="25.0" text-anchor="middle" transform="rotate(-45.00 671.31 937.92)" >0-10</text>
<text x="715.68" y="942.83" font-size="25.0" text-anchor="middle" transform="rotate(-45.00 715.68 942.83)" >10-20</text>
<text x="760.04" y="942.83" font-size="25.0" text-anchor="middle" transform="rotate(-45.00 760.04 942.83)" >20-30</text>
<text x="804.41" y="942.83" font-size="25.0" text-anchor="middle" transform="rotate(-45.00 804.41 942.83)" >30-40</text>
<text x="848.77" y="942.83" font-size="25.0" text-anchor="middle" transform="rotate(-45.00 848.77 942.83)" >40-50</text>
<text x="916.52" y="948.22" font-size="25.0" text-anchor="middle" transform="rotate(-45.00 916.52 948.22)" >Overall</text>
<text x="548.94" y="742.62" font-size="25.6" text-anchor="middle" transform="rotate(-90.00 548.94 742.62)" textLength="162.5" lengthAdjust="spacingAndGlyphs" ># cells per mm</text>
<text x="531.94" y="656.62" font-size="15" text-anchor="middle" transform="rotate(-90.00 531.94 656.62)" >2</text>
<text x="958.50" y="558.00" font-size="31" font-weight="bold" >d</text>
<text x="1261.75" y="562.27" font-size="33" text-anchor="middle" >Cortex</text>
<rect x="1111.87" y="578.45" width="230.22" height="318.35" fill="#EBEBEB" />
<rect x="1356.18" y="578.45" width="55.46" height="318.35" fill="#EBEBEB" />
<line x1="1111.87" y1="851.43" x2="1342.09" y2="851.43" stroke="#FFFFFF" stroke-width="0.8" opacity="0.6"/>
<line x1="1111.87" y1="788.87" x2="1342.09" y2="788.87" stroke="#FFFFFF" stroke-width="0.8" opacity="0.6"/>
<line x1="1111.87" y1="726.31" x2="1342.09" y2="726.31" stroke="#FFFFFF" stroke-width="0.8" opacity="0.6"/>
<line x1="1111.87" y1="663.75" x2="1342.09" y2="663.75" stroke="#FFFFFF" stroke-width="0.8" opacity="0.6"/>
<line x1="1111.87" y1="601.19" x2="1342.09" y2="601.19" stroke="#FFFFFF" stroke-width="0.8" opacity="0.6"/>
<line x1="1111.87" y1="882.71" x2="1342.09" y2="882.71" stroke="#FFFFFF" stroke-width="1.3" opacity="0.85"/>
<line x1="1111.87" y1="820.15" x2="1342.09" y2="820.15" stroke="#FFFFFF" stroke-width="1.3" opacity="0.85"/>
<line x1="1111.87" y1="757.59" x2="1342.09" y2="757.59" stroke="#FFFFFF" stroke-width="1.3" opacity="0.85"/>
<line x1="1111.87" y1="695.03" x2="1342.09" y2="695.03" stroke="#FFFFFF" stroke-width="1.3" opacity="0.85"/>
<line x1="1111.87" y1="632.47" x2="1342.09" y2="632.47" stroke="#FFFFFF" stroke-width="1.3" opacity="0.85"/>
<line x1="1356.18" y1="851.43" x2="1411.63" y2="851.43" stroke="#FFFFFF" stroke-width="0.8" opacity="0.6"/>
<line x1="1356.18" y1="788.87" x2="1411.63" y2="788.87" stroke="#FFFFFF" stroke-width="0.8" opacity="0.6"/>
<line x1="1356.18" y1="726.31" x2="1411.63" y2="726.31" stroke="#FFFFFF" stroke-width="0.8" opacity="0.6"/>
<line x1="1356.18" y1="663.75" x2="1411.63" y2="663.75" stroke="#FFFFFF" stroke-width="0.8" opacity="0.6"/>
<line x1="1356.18" y1="601.19" x2="1411.63" y2="601.19" stroke="#FFFFFF" stroke-width="0.8" opacity="0.6"/>
<line x1="1356.18" y1="882.71" x2="1411.63" y2="882.71" stroke="#FFFFFF" stroke-width="1.3" opacity="0.85"/>
<line x1="1356.18" y1="820.15" x2="1411.63" y2="820.15" stroke="#FFFFFF" stroke-width="1.3" opacity="0.85"/>
<line x1="1356.18" y1="757.59" x2="1411.63" y2="757.59" stroke="#FFFFFF" stroke-width="1.3" opacity="0.85"/>
<line x1="1356.18" y1="695.03" x2="1411.63" y2="695.03" stroke="#FFFFFF" stroke-width="1.3" opacity="0.85"/>
<line x1="1356.18" y1="632.47" x2="1411.63" y2="632.47" stroke="#FFFFFF" stroke-width="1.3" opacity="0.85"/>
<line x1="1137.65" y1="578.45" x2="1137.65" y2="896.80" stroke="#FFFFFF" stroke-width="1.3" opacity="0.85"/>
<line x1="1181.71" y1="578.45" x2="1181.71" y2="896.80" stroke="#FFFFFF" stroke-width="1.3" opacity="0.85"/>
<line x1="1225.48" y1="578.45" x2="1225.48" y2="896.80" stroke="#FFFFFF" stroke-width="1.3" opacity="0.85"/>
<line x1="1269.54" y1="578.45" x2="1269.54" y2="896.80" stroke="#FFFFFF" stroke-width="1.3" opacity="0.85"/>
<line x1="1313.31" y1="578.45" x2="1313.31" y2="896.80" stroke="#FFFFFF" stroke-width="1.3" opacity="0.85"/>
<line x1="1384.95" y1="578.45" x2="1384.95" y2="896.80" stroke="#FFFFFF" stroke-width="1.3" opacity="0.85"/>
<rect x="1117.72" y="808.67" width="39.87" height="27.88" fill="#40B70A" />
<rect x="1117.72" y="836.25" width="39.87" height="37.77" fill="#F39AD1" />
<rect x="1117.72" y="873.72" width="39.87" height="9.29" fill="#C4393C" />
<rect x="1161.78" y="708.25" width="39.87" height="7.49" fill="#3D74F6" />
<rect x="1161.78" y="715.44" width="39.87" height="20.68" fill="#31CBC3" />
<rect x="1161.78" y="735.83" width="39.87" height="63.85" fill="#40B70A" />
<rect x="1161.78" y="799.38" width="39.87" height="13.79" fill="#C3A704" />
<rect x="1161.78" y="812.87" width="39.87" height="49.16" fill="#F39AD1" />
<rect x="1161.78" y="861.73" width="39.87" height="21.28" fill="#C4393C" />
<rect x="1205.55" y="592.54" width="39.87" height="16.19" fill="#3D74F6" />
<rect x="1205.55" y="608.43" width="39.87" height="10.19" fill="#31CBC3" />
<rect x="1205.55" y="618.32" width="39.87" height="129.80" fill="#40B70A" />
<rect x="1205.55" y="747.82" width="39.87" height="31.18" fill="#C3A704" />
<rect x="1205.55" y="778.69" width="39.87" height="83.33" fill="#F39AD1" />
<rect x="1205.55" y="861.73" width="39.87" height="21.28" fill="#C4393C" />
<rect x="1249.61" y="629.41" width="39.87" height="9.29" fill="#3D74F6" />
<rect x="1249.61" y="638.41" width="39.87" height="30.88" fill="#31CBC3" />
<rect x="1249.61" y="668.98" width="39.87" height="130.10" fill="#40B70A" />
<rect x="1249.61" y="798.78" width="39.87" height="21.88" fill="#C3A704" />
<rect x="1249.61" y="820.36" width="39.87" height="62.65" fill="#F39AD1" />
<rect x="1293.38" y="644.40" width="39.87" height="32.67" fill="#3D74F6" />
<rect x="1293.38" y="676.77" width="39.87" height="17.39" fill="#31CBC3" />
<rect x="1293.38" y="693.86" width="39.87" height="106.71" fill="#40B70A" />
<rect x="1293.38" y="800.28" width="39.87" height="25.18" fill="#C3A704" />
<rect x="1293.38" y="825.16" width="39.87" height="28.78" fill="#F39AD1" />
<rect x="1293.38" y="853.63" width="39.87" height="29.38" fill="#C4393C" />
<rect x="1365.02" y="675.28" width="39.87" height="14.39" fill="#3D74F6" />
<rect x="1365.02" y="689.36" width="39.87" height="19.78" fill="#31CBC3" />
<rect x="1365.02" y="708.85" width="39.87" height="86.33" fill="#40B70A" />
<rect x="1365.02" y="794.88" width="39.87" height="18.59" fill="#C3A704" />
<rect x="1365.02" y="813.17" width="39.87" height="51.86" fill="#F39AD1" />
<rect x="1365.02" y="864.72" width="39.87" height="18.29" fill="#C4393C" />
<text x="1107.17" y="891.61" font-size="25.2" text-anchor="end" textLength="15.1" lengthAdjust="spacingAndGlyphs" >0</text>
<text x="1107.17" y="829.05" font-size="25.2" text-anchor="end" textLength="30.1" lengthAdjust="spacingAndGlyphs" >50</text>
<text x="1107.17" y="766.49" font-size="25.2" text-anchor="end" textLength="45.2" lengthAdjust="spacingAndGlyphs" >100</text>
<text x="1107.17" y="703.93" font-size="25.2" text-anchor="end" textLength="45.2" lengthAdjust="spacingAndGlyphs" >150</text>
<text x="1107.17" y="641.37" font-size="25.2" text-anchor="end" textLength="45.2" lengthAdjust="spacingAndGlyphs" >200</text>
<text x="1146.41" y="937.02" font-size="25.0" text-anchor="middle" transform="rotate(-45.00 1146.41 937.02)" >0-10</text>
<text x="1190.48" y="941.93" font-size="25.0" text-anchor="middle" transform="rotate(-45.00 1190.48 941.93)" >10-20</text>
<text x="1234.24" y="941.93" font-size="25.0" text-anchor="middle" transform="rotate(-45.00 1234.24 941.93)" >20-30</text>
<text x="1278.31" y="941.93" font-size="25.0" text-anchor="middle" transform="rotate(-45.00 1278.31 941.93)" >30-40</text>
<text x="1322.07" y="941.93" font-size="25.0" text-anchor="middle" transform="rotate(-45.00 1322.07 941.93)" >40-50</text>
<text x="1393.72" y="947.32" font-size="25.0" text-anchor="middle" transform="rotate(-45.00 1393.72 947.32)" >Overall</text>
<text x="1255.76" y="1002.71" font-size="25.1" text-anchor="middle" >Distance to plaque (µm)</text>
<text x="1030.94" y="742.62" font-size="25.6" text-anchor="middle" transform="rotate(-90.00 1030.94 742.62)" textLength="162.5" lengthAdjust="spacingAndGlyphs" ># cells per mm</text>
<text x="1013.94" y="656.62" font-size="15" text-anchor="middle" transform="rotate(-90.00 1013.94 656.62)" >2</text>
<text x="1739.76" y="562.27" font-size="33" text-anchor="middle" >Hippocampus</text>
<rect x="1597.97" y="580.85" width="231.71" height="318.35" fill="#EBEBEB" />
<rect x="1843.18" y="580.85" width="54.86" height="318.35" fill="#EBEBEB" />
<line x1="1597.97" y1="847.04" x2="1829.69" y2="847.04" stroke="#FFFFFF" stroke-width="0.8" opacity="0.6"/>
<line x1="1597.97" y1="771.50" x2="1829.69" y2="771.50" stroke="#FFFFFF" stroke-width="0.8" opacity="0.6"/>
<line x1="1597.97" y1="695.96" x2="1829.69" y2="695.96" stroke="#FFFFFF" stroke-width="0.8" opacity="0.6"/>
<line x1="1597.97" y1="620.72" x2="1829.69" y2="620.72" stroke="#FFFFFF" stroke-width="0.8" opacity="0.6"/>
<line x1="1597.97" y1="884.81" x2="1829.69" y2="884.81" stroke="#FFFFFF" stroke-width="1.3" opacity="0.85"/>
<line x1="1597.97" y1="809.27" x2="1829.69" y2="809.27" stroke="#FFFFFF" stroke-width="1.3" opacity="0.85"/>
<line x1="1597.97" y1="733.73" x2="1829.69" y2="733.73" stroke="#FFFFFF" stroke-width="1.3" opacity="0.85"/>
<line x1="1597.97" y1="658.49" x2="1829.69" y2="658.49" stroke="#FFFFFF" stroke-width="1.3" opacity="0.85"/>
<line x1="1843.18" y1="847.04" x2="1898.03" y2="847.04" stroke="#FFFFFF" stroke-width="0.8" opacity="0.6"/>
<line x1="1843.18" y1="771.50" x2="1898.03" y2="771.50" stroke="#FFFFFF" stroke-width="0.8" opacity="0.6"/>
<line x1="1843.18" y1="695.96" x2="1898.03" y2="695.96" stroke="#FFFFFF" stroke-width="0.8" opacity="0.6"/>
<line x1="1843.18" y1="620.72" x2="1898.03" y2="620.72" stroke="#FFFFFF" stroke-width="0.8" opacity="0.6"/>
<line x1="1843.18" y1="884.81" x2="1898.03" y2="884.81" stroke="#FFFFFF" stroke-width="1.3" opacity="0.85"/>
<line x1="1843.18" y1="809.27" x2="1898.03" y2="809.27" stroke="#FFFFFF" stroke-width="1.3" opacity="0.85"/>
<line x1="1843.18" y1="733.73" x2="1898.03" y2="733.73" stroke="#FFFFFF" stroke-width="1.3" opacity="0.85"/>
<line x1="1843.18" y1="658.49" x2="1898.03" y2="658.49" stroke="#FFFFFF" stroke-width="1.3" opacity="0.85"/>
<line x1="1624.35" y1="580.85" x2="1624.35" y2="899.20" stroke="#FFFFFF" stroke-width="1.3" opacity="0.85"/>
<line x1="1668.72" y1="580.85" x2="1668.72" y2="899.20" stroke="#FFFFFF" stroke-width="1.3" opacity="0.85"/>
<line x1="1713.08" y1="580.85" x2="1713.08" y2="899.20" stroke="#FFFFFF" stroke-width="1.3" opacity="0.85"/>
<line x1="1757.15" y1="580.85" x2="1757.15" y2="899.20" stroke="#FFFFFF" stroke-width="1.3" opacity="0.85"/>
<line x1="1801.51" y1="580.85" x2="1801.51" y2="899.20" stroke="#FFFFFF" stroke-width="1.3" opacity="0.85"/>
<line x1="1870.46" y1="580.85" x2="1870.46" y2="899.20" stroke="#FFFFFF" stroke-width="1.3" opacity="0.85"/>
<rect x="1604.27" y="884.21" width="40.17" height="1.20" fill="#B59A8F" />
<rect x="1648.63" y="640.80" width="40.17" height="122.30" fill="#40B70A" />
<rect x="1648.63" y="762.81" width="40.17" height="122.30" fill="#F39AD1" />
<rect x="1693.00" y="708.85" width="40.17" height="176.26" fill="#31CBC3" />
<rect x="1737.06" y="672.28" width="40.17" height="71.34" fill="#3D74F6" />
<rect x="1737.06" y="743.32" width="40.17" height="70.74" fill="#31CBC3" />
<rect x="1737.06" y="813.76" width="40.17" height="71.34" fill="#F39AD1" />
<rect x="1781.43" y="637.81" width="40.17" height="123.80" fill="#3D74F6" />
<rect x="1781.43" y="761.31" width="40.17" height="61.75" fill="#31CBC3" />
<rect x="1781.43" y="822.76" width="40.17" height="62.35" fill="#C4393C" />
<rect x="1850.37" y="595.84" width="40.17" height="64.75" fill="#3D74F6" />
<rect x="1850.37" y="660.29" width="40.17" height="57.85" fill="#31CBC3" />
<rect x="1850.37" y="717.84" width="40.17" height="93.83" fill="#40B70A" />
<rect x="1850.37" y="811.37" width="40.17" height="9.59" fill="#C3A704" />
<rect x="1850.37" y="820.66" width="40.17" height="47.96" fill="#F39AD1" />
<rect x="1850.37" y="868.32" width="40.17" height="16.79" fill="#C4393C" />
<text x="1589.67" y="893.11" font-size="24.6" text-anchor="end" textLength="13.7" lengthAdjust="spacingAndGlyphs" >0</text>
<text x="1589.67" y="817.57" font-size="24.6" text-anchor="end" textLength="27.4" lengthAdjust="spacingAndGlyphs" >25</text>
<text x="1589.67" y="742.03" font-size="24.6" text-anchor="end" textLength="27.4" lengthAdjust="spacingAndGlyphs" >50</text>
<text x="1589.67" y="666.79" font-size="24.6" text-anchor="end" textLength="27.4" lengthAdjust="spacingAndGlyphs" >75</text>
<text x="1631.12" y="938.42" font-size="25.0" text-anchor="middle" transform="rotate(-45.00 1631.12 938.42)" >0-10</text>
<text x="1675.48" y="943.33" font-size="25.0" text-anchor="middle" transform="rotate(-45.00 1675.48 943.33)" >10-20</text>
<text x="1719.84" y="943.33" font-size="25.0" text-anchor="middle" transform="rotate(-45.00 1719.84 943.33)" >20-30</text>
<text x="1763.91" y="943.33" font-size="25.0" text-anchor="middle" transform="rotate(-45.00 1763.91 943.33)" >30-40</text>
<text x="1808.27" y="943.33" font-size="25.0" text-anchor="middle" transform="rotate(-45.00 1808.27 943.33)" >40-50</text>
<text x="1877.22" y="948.72" font-size="25.0" text-anchor="middle" transform="rotate(-45.00 1877.22 948.72)" >Overall</text>
<text x="1734.36" y="1002.71" font-size="25.1" text-anchor="middle" >Distance to plaque (µm)</text>
<text x="1521.83" y="742.62" font-size="25.6" text-anchor="middle" transform="rotate(-90.00 1521.83 742.62)" textLength="162.5" lengthAdjust="spacingAndGlyphs" ># cells per mm</text>
<text x="1504.83" y="656.62" font-size="15" text-anchor="middle" transform="rotate(-90.00 1504.83 656.62)" >2</text>
<circle cx="193.65" cy="1067.17" r="7.20" fill="#F07F7F"/>
<text x="209.15" y="1075.67" font-size="24.8" >CTX-Ex1</text>
<circle cx="399.88" cy="1067.17" r="7.20" fill="#FBB870"/>
<text x="415.38" y="1075.67" font-size="24.8" >CTX-Ex2</text>
<circle cx="606.71" cy="1067.17" r="7.20" fill="#FFFF00"/>
<text x="622.21" y="1075.67" font-size="24.8" >CTX-Ex3</text>
<circle cx="812.95" cy="1067.17" r="7.20" fill="#99FF00"/>
<text x="828.45" y="1075.67" font-size="24.8" >CTX-Ex4</text>
<circle cx="193.65" cy="1104.34" r="7.20" fill="#99FFFF"/>
<text x="209.15" y="1112.84" font-size="24.8" >CA1-Ex</text>
<circle cx="399.88" cy="1104.34" r="7.20" fill="#3D8DF5"/>
<text x="415.38" y="1112.84" font-size="24.8" >CA2-Ex</text>
<circle cx="606.71" cy="1104.34" r="7.20" fill="#9900FF"/>
<text x="622.21" y="1112.84" font-size="24.8" >CA3-Ex</text>
<circle cx="812.95" cy="1104.34" r="7.20" fill="#8B0000"/>
<text x="828.45" y="1112.84" font-size="24.8" >DG</text>
<circle cx="1324.84" cy="1068.00" r="7.20" fill="#3D74F6"/>
<text x="1340.54" y="1075.30" font-size="24.8" >Cnr1</text>
<circle cx="1465.79" cy="1068.00" r="7.20" fill="#31CBC3"/>
<text x="1481.49" y="1075.30" font-size="24.8" >Lamp5</text>
<circle cx="1606.73" cy="1068.00" r="7.20" fill="#40B70A"/>
<text x="1622.43" y="1075.30" font-size="24.8" >Pvalb</text>
<circle cx="1324.84" cy="1105.51" r="7.20" fill="#F39AD1"/>
<text x="1340.54" y="1112.81" font-size="24.8" >Sst</text>
<circle cx="1465.79" cy="1105.51" r="7.20" fill="#C4393C"/>
<text x="1481.49" y="1112.81" font-size="24.8" >Vip</text>
<circle cx="1606.73" cy="1105.51" r="7.20" fill="#C3A704"/>
<text x="1622.43" y="1112.81" font-size="24.8" >Pvalb-Nog</text>
<text x="7.50" y="1153.00" font-size="31" font-weight="bold" >e</text>
<text x="489.50" y="1157.00" font-size="24.8" text-anchor="middle" >All neurons</text>
<text x="35.00" y="1202.00" font-size="22" >-log10 Q-value</text>
<rect x="35.00" y="1214.20" width="24.70" height="24.60" fill="#CCCCCC" />
<text x="66.40" y="1234.40" font-size="22" >too few genes</text>
<rect x="35.00" y="1245.30" width="24.70" height="24.60" fill="#7B7B7B" />
<text x="66.40" y="1265.50" font-size="22" >not significant</text>
<rect x="35.00" y="1276.40" width="24.70" height="24.60" fill="#98B5DA" />
<text x="66.40" y="1296.60" font-size="22" >2</text>
<rect x="35.00" y="1307.50" width="24.70" height="24.60" fill="#7470B8" />
<text x="66.40" y="1327.70" font-size="22" >4</text>
<rect x="35.00" y="1338.60" width="24.70" height="24.60" fill="#7F63A9" />
<text x="66.40" y="1358.80" font-size="22" >6</text>
<rect x="35.00" y="1369.70" width="24.70" height="24.60" fill="#9C5590" />
<text x="66.40" y="1389.90" font-size="22" >8</text>
<rect x="35.00" y="1400.80" width="24.70" height="24.60" fill="#B05070" />
<text x="66.40" y="1421.00" font-size="22" >10</text>
<rect x="35.00" y="1431.90" width="24.70" height="24.60" fill="#C54458" />
<text x="66.40" y="1452.10" font-size="22" >12</text>
<rect x="35.00" y="1463.00" width="24.70" height="24.60" fill="#D93A45" />
<text x="66.40" y="1483.20" font-size="22" >14</text>
<rect x="35.00" y="1494.10" width="24.70" height="24.60" fill="#E8302B" />
<text x="66.40" y="1514.30" font-size="22" >≥16</text>
<g stroke="#fff" stroke-width="1.6" stroke-linejoin="round">
<path d="M524.60,1456.60 A104.00,104.00 0 0 1 628.55,1563.87 L576.57,1562.23 A52.00,52.00 0 0 0 524.60,1508.60 Z" fill="#DC3232"/>
<path d="M628.55,1563.87 A104.00,104.00 0 0 1 519.16,1664.46 L521.88,1612.53 A52.00,52.00 0 0 0 576.57,1562.23 Z" fill="#E8281C"/>
<path d="M519.16,1664.46 A104.00,104.00 0 0 1 442.65,1624.63 L483.62,1592.61 A52.00,52.00 0 0 0 521.88,1612.53 Z" fill="#D73A40"/>
<path d="M442.65,1624.63 A104.00,104.00 0 0 1 420.98,1551.72 L472.79,1556.16 A52.00,52.00 0 0 0 483.62,1592.61 Z" fill="#CCCCCC"/>
<path d="M420.98,1551.72 A104.00,104.00 0 0 1 458.59,1480.24 L491.59,1520.42 A52.00,52.00 0 0 0 472.79,1556.16 Z" fill="#CCCCCC"/>
<path d="M458.59,1480.24 A104.00,104.00 0 0 1 524.60,1456.60 L524.60,1508.60 A52.00,52.00 0 0 0 491.59,1520.42 Z" fill="#CCCCCC"/>
<path d="M524.60,1404.60 A156.00,156.00 0 0 1 576.16,1413.37 L558.97,1462.44 A104.00,104.00 0 0 0 524.60,1456.60 Z" fill="#7F65AB"/>
<path d="M576.16,1413.37 A156.00,156.00 0 0 1 622.77,1439.37 L590.05,1479.78 A104.00,104.00 0 0 0 558.97,1462.44 Z" fill="#766AB5"/>
<path d="M622.77,1439.37 A156.00,156.00 0 0 1 629.39,1445.03 L594.46,1483.56 A104.00,104.00 0 0 0 590.05,1479.78 Z" fill="#7670B7"/>
<path d="M629.39,1445.03 A156.00,156.00 0 0 1 648.36,1465.63 L607.11,1497.29 A104.00,104.00 0 0 0 594.46,1483.56 Z" fill="#CCCCCC"/>
<path d="M648.36,1465.63 A156.00,156.00 0 0 1 658.32,1480.25 L613.75,1507.04 A104.00,104.00 0 0 0 607.11,1497.29 Z" fill="#CCCCCC"/>
<path d="M658.32,1480.25 A156.00,156.00 0 0 1 665.98,1494.67 L618.86,1516.65 A104.00,104.00 0 0 0 613.75,1507.04 Z" fill="#CCCCCC"/>
<path d="M665.98,1494.67 A156.00,156.00 0 0 1 670.43,1505.20 L621.82,1523.67 A104.00,104.00 0 0 0 618.86,1516.65 Z" fill="#CCCCCC"/>
<path d="M670.43,1505.20 A156.00,156.00 0 0 1 673.46,1513.95 L623.84,1529.50 A104.00,104.00 0 0 0 621.82,1523.67 Z" fill="#CCCCCC"/>
<path d="M673.46,1513.95 A156.00,156.00 0 0 1 675.70,1521.80 L625.33,1534.74 A104.00,104.00 0 0 0 623.84,1529.50 Z" fill="#CCCCCC"/>
<path d="M675.70,1521.80 A156.00,156.00 0 0 1 677.52,1529.77 L626.55,1540.04 A104.00,104.00 0 0 0 625.33,1534.74 Z" fill="#CCCCCC"/>
<path d="M677.52,1529.77 A156.00,156.00 0 0 1 679.12,1539.16 L627.61,1546.31 A104.00,104.00 0 0 0 626.55,1540.04 Z" fill="#CCCCCC"/>
<path d="M679.12,1539.16 A156.00,156.00 0 0 1 680.01,1547.00 L628.20,1551.54 A104.00,104.00 0 0 0 627.61,1546.31 Z" fill="#CCCCCC"/>
<path d="M680.01,1547.00 A156.00,156.00 0 0 1 680.54,1556.24 L628.56,1557.70 A104.00,104.00 0 0 0 628.20,1551.54 Z" fill="#CCCCCC"/>
<path d="M680.54,1556.24 A156.00,156.00 0 0 1 680.52,1565.50 L628.55,1563.87 A104.00,104.00 0 0 0 628.56,1557.70 Z" fill="#CCCCCC"/>
<path d="M680.52,1565.50 A156.00,156.00 0 0 1 622.14,1682.35 L589.63,1641.76 A104.00,104.00 0 0 0 628.55,1563.87 Z" fill="#BF4258"/>
<path d="M622.14,1682.35 A156.00,156.00 0 0 1 593.72,1700.45 L570.68,1653.83 A104.00,104.00 0 0 0 589.63,1641.76 Z" fill="#8163A8"/>
<path d="M593.72,1700.45 A156.00,156.00 0 0 1 568.91,1710.18 L554.14,1660.32 A104.00,104.00 0 0 0 570.68,1653.83 Z" fill="#8292CB"/>
<path d="M568.91,1710.18 A156.00,156.00 0 0 1 559.96,1712.54 L548.17,1661.89 A104.00,104.00 0 0 0 554.14,1660.32 Z" fill="#CCCCCC"/>
<path d="M559.96,1712.54 A156.00,156.00 0 0 1 551.69,1714.23 L542.66,1663.02 A104.00,104.00 0 0 0 548.17,1661.89 Z" fill="#CCCCCC"/>
<path d="M551.69,1714.23 A156.00,156.00 0 0 1 542.26,1715.60 L536.37,1663.93 A104.00,104.00 0 0 0 542.66,1663.02 Z" fill="#CCCCCC"/>
<path d="M542.26,1715.60 A156.00,156.00 0 0 1 534.12,1716.31 L530.95,1664.41 A104.00,104.00 0 0 0 536.37,1663.93 Z" fill="#CCCCCC"/>
<path d="M534.12,1716.31 A156.00,156.00 0 0 1 524.60,1716.60 L524.60,1664.60 A104.00,104.00 0 0 0 530.95,1664.41 Z" fill="#CCCCCC"/>
<path d="M524.60,1716.60 A156.00,156.00 0 0 1 516.44,1716.39 L519.16,1664.46 A104.00,104.00 0 0 0 524.60,1664.60 Z" fill="#CCCCCC"/>
<path d="M516.44,1716.39 A156.00,156.00 0 0 1 471.76,1707.38 L489.37,1658.45 A104.00,104.00 0 0 0 519.16,1664.46 Z" fill="#CCCCCC"/>
<path d="M471.76,1707.38 A156.00,156.00 0 0 1 441.24,1692.46 L469.03,1648.51 A104.00,104.00 0 0 0 489.37,1658.45 Z" fill="#8E4E8F"/>
<path d="M441.24,1692.46 A156.00,156.00 0 0 1 419.81,1676.17 L454.74,1637.64 A104.00,104.00 0 0 0 469.03,1648.51 Z" fill="#CCCCCC"/>
<path d="M419.81,1676.17 A156.00,156.00 0 0 1 413.52,1670.14 L450.55,1633.62 A104.00,104.00 0 0 0 454.74,1637.64 Z" fill="#CCCCCC"/>
<path d="M413.52,1670.14 A156.00,156.00 0 0 1 407.58,1663.76 L446.59,1629.38 A104.00,104.00 0 0 0 450.55,1633.62 Z" fill="#CCCCCC"/>
<path d="M407.58,1663.76 A156.00,156.00 0 0 1 401.67,1656.64 L442.65,1624.63 A104.00,104.00 0 0 0 446.59,1629.38 Z" fill="#CCCCCC"/>
<path d="M401.67,1656.64 A156.00,156.00 0 0 1 368.73,1566.86 L420.68,1564.77 A104.00,104.00 0 0 0 442.65,1624.63 Z" fill="#B04D6F"/>
<path d="M368.73,1566.86 A156.00,156.00 0 0 1 368.67,1555.97 L420.65,1557.51 A104.00,104.00 0 0 0 420.68,1564.77 Z" fill="#CCCCCC"/>
<path d="M368.67,1555.97 A156.00,156.00 0 0 1 369.17,1547.27 L420.98,1551.72 A104.00,104.00 0 0 0 420.65,1557.51 Z" fill="#CCCCCC"/>
<path d="M369.17,1547.27 A156.00,156.00 0 0 1 371.57,1530.30 L422.58,1540.40 A104.00,104.00 0 0 0 420.98,1551.72 Z" fill="#CCCCCC"/>
<path d="M371.57,1530.30 A156.00,156.00 0 0 1 376.07,1512.91 L425.58,1528.81 A104.00,104.00 0 0 0 422.58,1540.40 Z" fill="#CCCCCC"/>
<path d="M376.07,1512.91 A156.00,156.00 0 0 1 392.88,1477.01 L436.79,1504.87 A104.00,104.00 0 0 0 425.58,1528.81 Z" fill="#CCCCCC"/>
<path d="M392.88,1477.01 A156.00,156.00 0 0 1 397.13,1470.68 L439.62,1500.65 A104.00,104.00 0 0 0 436.79,1504.87 Z" fill="#CCCCCC"/>
<path d="M397.13,1470.68 A156.00,156.00 0 0 1 401.67,1464.56 L442.65,1496.57 A104.00,104.00 0 0 0 439.62,1500.65 Z" fill="#CCCCCC"/>
<path d="M401.67,1464.56 A156.00,156.00 0 0 1 406.69,1458.46 L445.99,1492.51 A104.00,104.00 0 0 0 442.65,1496.57 Z" fill="#CCCCCC"/>
<path d="M406.69,1458.46 A156.00,156.00 0 0 1 412.38,1452.23 L449.79,1488.36 A104.00,104.00 0 0 0 445.99,1492.51 Z" fill="#CCCCCC"/>
<path d="M412.38,1452.23 A156.00,156.00 0 0 1 418.61,1446.14 L453.94,1484.29 A104.00,104.00 0 0 0 449.79,1488.36 Z" fill="#CCCCCC"/>
<path d="M418.61,1446.14 A156.00,156.00 0 0 1 425.58,1440.05 L458.59,1480.24 A104.00,104.00 0 0 0 453.94,1484.29 Z" fill="#CCCCCC"/>
<path d="M425.58,1440.05 A156.00,156.00 0 0 1 472.53,1413.55 L489.88,1462.57 A104.00,104.00 0 0 0 458.59,1480.24 Z" fill="#CCCCCC"/>
<path d="M472.53,1413.55 A156.00,156.00 0 0 1 498.58,1406.78 L507.26,1458.06 A104.00,104.00 0 0 0 489.88,1462.57 Z" fill="#CCCCCC"/>
<path d="M498.58,1406.78 A156.00,156.00 0 0 1 507.21,1405.57 L513.01,1457.25 A104.00,104.00 0 0 0 507.26,1458.06 Z" fill="#CCCCCC"/>
<path d="M507.21,1405.57 A156.00,156.00 0 0 1 516.98,1404.79 L519.52,1456.72 A104.00,104.00 0 0 0 513.01,1457.25 Z" fill="#CCCCCC"/>
<path d="M516.98,1404.79 A156.00,156.00 0 0 1 524.60,1404.60 L524.60,1456.60 A104.00,104.00 0 0 0 519.52,1456.72 Z" fill="#CCCCCC"/>
<path d="M524.60,1352.60 A208.00,208.00 0 0 1 569.62,1357.53 L558.36,1408.30 A156.00,156.00 0 0 0 524.60,1404.60 Z" fill="#8793C8"/>
<path d="M569.62,1357.53 A208.00,208.00 0 0 1 593.35,1364.29 L576.16,1413.37 A156.00,156.00 0 0 0 558.36,1408.30 Z" fill="#CCCCCC"/>
<path d="M593.35,1364.29 A208.00,208.00 0 0 1 615.78,1373.65 L592.99,1420.39 A156.00,156.00 0 0 0 576.16,1413.37 Z" fill="#91AEDB"/>
<path d="M615.78,1373.65 A208.00,208.00 0 0 1 636.36,1385.17 L608.42,1429.03 A156.00,156.00 0 0 0 592.99,1420.39 Z" fill="#CCCCCC"/>
<path d="M636.36,1385.17 A208.00,208.00 0 0 1 645.39,1391.26 L615.19,1433.60 A156.00,156.00 0 0 0 608.42,1429.03 Z" fill="#CCCCCC"/>
<path d="M645.39,1391.26 A208.00,208.00 0 0 1 655.50,1398.95 L622.77,1439.37 A156.00,156.00 0 0 0 615.19,1433.60 Z" fill="#CCCCCC"/>
<path d="M655.50,1398.95 A208.00,208.00 0 0 1 664.32,1406.51 L629.39,1445.03 A156.00,156.00 0 0 0 622.77,1439.37 Z" fill="#8FAEDA"/>
<path d="M664.32,1406.51 A208.00,208.00 0 0 1 672.96,1414.81 L635.87,1451.26 A156.00,156.00 0 0 0 629.39,1445.03 Z" fill="#CCCCCC"/>
<path d="M672.96,1414.81 A208.00,208.00 0 0 1 688.51,1432.54 L647.53,1464.56 A156.00,156.00 0 0 0 635.87,1451.26 Z" fill="#CCCCCC"/>
<path d="M688.51,1432.54 A208.00,208.00 0 0 1 696.02,1442.79 L653.16,1472.24 A156.00,156.00 0 0 0 647.53,1464.56 Z" fill="#CCCCCC"/>
<path d="M696.02,1442.79 A208.00,208.00 0 0 1 701.95,1451.92 L657.61,1479.09 A156.00,156.00 0 0 0 653.16,1472.24 Z" fill="#7468B5"/>
<path d="M701.95,1451.92 A208.00,208.00 0 0 1 708.25,1462.95 L662.34,1487.36 A156.00,156.00 0 0 0 657.61,1479.09 Z" fill="#CCCCCC"/>
<path d="M708.25,1462.95 A208.00,208.00 0 0 1 713.57,1473.68 L666.33,1495.41 A156.00,156.00 0 0 0 662.34,1487.36 Z" fill="#CCCCCC"/>
<path d="M713.57,1473.68 A208.00,208.00 0 0 1 717.73,1483.36 L669.44,1502.67 A156.00,156.00 0 0 0 666.33,1495.41 Z" fill="#CCCCCC"/>
<path d="M725.97,1508.52 A208.00,208.00 0 0 1 728.42,1519.13 L677.47,1529.50 A156.00,156.00 0 0 0 675.63,1521.54 Z" fill="#CCCCCC"/>
<path d="M730.58,1531.65 A208.00,208.00 0 0 1 731.90,1543.56 L680.08,1547.82 A156.00,156.00 0 0 0 679.08,1538.89 Z" fill="#CCCCCC"/>
<path d="M731.90,1543.56 A208.00,208.00 0 0 1 732.53,1555.16 L680.55,1556.52 A156.00,156.00 0 0 0 680.08,1547.82 Z" fill="#CCCCCC"/>
<path d="M732.53,1555.16 A208.00,208.00 0 0 1 732.50,1567.13 L680.52,1565.50 A156.00,156.00 0 0 0 680.55,1556.52 Z" fill="#CCCCCC"/>
<path d="M732.50,1567.13 A208.00,208.00 0 0 1 722.42,1624.88 L672.96,1608.81 A156.00,156.00 0 0 0 680.52,1565.50 Z" fill="#7B77BC"/>
<path d="M722.42,1624.88 A208.00,208.00 0 0 1 708.93,1656.97 L662.85,1632.87 A156.00,156.00 0 0 0 672.96,1608.81 Z" fill="#7B6BB5"/>
<path d="M708.93,1656.97 A208.00,208.00 0 0 1 694.15,1681.09 L651.76,1650.97 A156.00,156.00 0 0 0 662.85,1632.87 Z" fill="#CCCCCC"/>
<path d="M694.15,1681.09 A208.00,208.00 0 0 1 686.70,1690.93 L646.18,1658.35 A156.00,156.00 0 0 0 651.76,1650.97 Z" fill="#CCCCCC"/>
<path d="M686.70,1690.93 A208.00,208.00 0 0 1 680.38,1698.42 L641.44,1663.97 A156.00,156.00 0 0 0 646.18,1658.35 Z" fill="#7468B5"/>
<path d="M680.38,1698.42 A208.00,208.00 0 0 1 672.96,1706.39 L635.87,1669.94 A156.00,156.00 0 0 0 641.44,1663.97 Z" fill="#CCCCCC"/>
<path d="M672.96,1706.39 A208.00,208.00 0 0 1 663.78,1715.17 L628.98,1676.53 A156.00,156.00 0 0 0 635.87,1669.94 Z" fill="#CCCCCC"/>
<path d="M663.78,1715.17 A208.00,208.00 0 0 1 654.93,1722.70 L622.35,1682.18 A156.00,156.00 0 0 0 628.98,1676.53 Z" fill="#CCCCCC"/>
<path d="M654.93,1722.70 A208.00,208.00 0 0 1 647.45,1728.45 L616.73,1686.49 A156.00,156.00 0 0 0 622.35,1682.18 Z" fill="#7F63A9"/>
<path d="M647.45,1728.45 A208.00,208.00 0 0 1 637.88,1735.04 L609.56,1691.43 A156.00,156.00 0 0 0 616.73,1686.49 Z" fill="#CCCCCC"/>
<path d="M637.88,1735.04 A208.00,208.00 0 0 1 627.02,1741.63 L601.42,1696.38 A156.00,156.00 0 0 0 609.56,1691.43 Z" fill="#CCCCCC"/>
<path d="M627.02,1741.63 A208.00,208.00 0 0 1 616.11,1747.39 L593.23,1700.69 A156.00,156.00 0 0 0 601.42,1696.38 Z" fill="#CCCCCC"/>
<path d="M616.11,1747.39 A208.00,208.00 0 0 1 605.20,1752.35 L585.05,1704.41 A156.00,156.00 0 0 0 593.23,1700.69 Z" fill="#CCCCCC"/>
<path d="M605.20,1752.35 A208.00,208.00 0 0 1 594.03,1756.67 L576.67,1707.65 A156.00,156.00 0 0 0 585.05,1704.41 Z" fill="#CCCCCC"/>
<path d="M594.03,1756.67 A208.00,208.00 0 0 1 583.33,1760.14 L568.65,1710.25 A156.00,156.00 0 0 0 576.67,1707.65 Z" fill="#CCCCCC"/>
<path d="M569.97,1763.59 A208.00,208.00 0 0 1 559.29,1765.69 L550.62,1714.42 A156.00,156.00 0 0 0 558.63,1712.84 Z" fill="#CCCCCC"/>
<path d="M546.34,1767.46 A208.00,208.00 0 0 1 536.57,1768.26 L533.58,1716.34 A156.00,156.00 0 0 0 540.91,1715.75 Z" fill="#CCCCCC"/>
<path d="M523.51,1768.60 A208.00,208.00 0 0 1 513.71,1768.31 L516.44,1716.39 A156.00,156.00 0 0 0 523.78,1716.60 Z" fill="#CCCCCC"/>
<path d="M513.71,1768.31 A208.00,208.00 0 0 1 502.14,1767.38 L507.75,1715.69 A156.00,156.00 0 0 0 516.44,1716.39 Z" fill="#CCCCCC"/>
<path d="M502.14,1767.38 A208.00,208.00 0 0 1 490.27,1765.75 L498.85,1714.46 A156.00,156.00 0 0 0 507.75,1715.69 Z" fill="#CCCCCC"/>
<path d="M490.27,1765.75 A208.00,208.00 0 0 1 477.81,1763.27 L489.51,1712.60 A156.00,156.00 0 0 0 498.85,1714.46 Z" fill="#CCCCCC"/>
<path d="M477.81,1763.27 A208.00,208.00 0 0 1 465.52,1760.03 L480.29,1710.18 A156.00,156.00 0 0 0 489.51,1712.60 Z" fill="#CCCCCC"/>
<path d="M465.52,1760.03 A208.00,208.00 0 0 1 453.46,1756.06 L471.24,1707.19 A156.00,156.00 0 0 0 480.29,1710.18 Z" fill="#CCCCCC"/>
<path d="M453.46,1756.06 A208.00,208.00 0 0 1 444.00,1752.35 L464.15,1704.41 A156.00,156.00 0 0 0 471.24,1707.19 Z" fill="#7D86C6"/>
<path d="M444.00,1752.35 A208.00,208.00 0 0 1 432.77,1747.23 L455.73,1700.57 A156.00,156.00 0 0 0 464.15,1704.41 Z" fill="#CCCCCC"/>
<path d="M432.77,1747.23 A208.00,208.00 0 0 1 421.86,1741.45 L447.55,1696.24 A156.00,156.00 0 0 0 455.73,1700.57 Z" fill="#CCCCCC"/>
<path d="M421.86,1741.45 A208.00,208.00 0 0 1 413.45,1736.41 L441.24,1692.46 A156.00,156.00 0 0 0 447.55,1696.24 Z" fill="#CCCCCC"/>
<path d="M413.45,1736.41 A208.00,208.00 0 0 1 401.75,1728.45 L432.47,1686.49 A156.00,156.00 0 0 0 441.24,1692.46 Z" fill="#CCCCCC"/>
<path d="M401.75,1728.45 A208.00,208.00 0 0 1 393.70,1722.25 L426.43,1681.83 A156.00,156.00 0 0 0 432.47,1686.49 Z" fill="#7468B5"/>
<path d="M393.70,1722.25 A208.00,208.00 0 0 1 384.88,1714.69 L419.81,1676.17 A156.00,156.00 0 0 0 426.43,1681.83 Z" fill="#CCCCCC"/>
<path d="M375.48,1705.61 A208.00,208.00 0 0 1 367.86,1697.33 L407.04,1663.15 A156.00,156.00 0 0 0 412.76,1669.36 Z" fill="#CCCCCC"/>
<path d="M367.86,1697.33 A208.00,208.00 0 0 1 360.03,1687.80 L401.17,1656.00 A156.00,156.00 0 0 0 407.04,1663.15 Z" fill="#7D86C6"/>
<path d="M360.03,1687.80 A208.00,208.00 0 0 1 341.63,1659.53 L387.37,1634.80 A156.00,156.00 0 0 0 401.17,1656.00 Z" fill="#B04A6B"/>
<path d="M341.63,1659.53 A208.00,208.00 0 0 1 331.47,1637.84 L379.76,1618.53 A156.00,156.00 0 0 0 387.37,1634.80 Z" fill="#CCCCCC"/>
<path d="M331.47,1637.84 A208.00,208.00 0 0 1 324.16,1616.19 L374.27,1602.29 A156.00,156.00 0 0 0 379.76,1618.53 Z" fill="#CCCCCC"/>
<path d="M324.16,1616.19 A208.00,208.00 0 0 1 321.00,1603.14 L371.90,1592.50 A156.00,156.00 0 0 0 374.27,1602.29 Z" fill="#CCCCCC"/>
<path d="M321.00,1603.14 A208.00,208.00 0 0 1 318.78,1590.63 L370.23,1583.12 A156.00,156.00 0 0 0 371.90,1592.50 Z" fill="#CCCCCC"/>
<path d="M318.78,1590.63 A208.00,208.00 0 0 1 317.42,1579.09 L369.22,1574.47 A156.00,156.00 0 0 0 370.23,1583.12 Z" fill="#CCCCCC"/>
<path d="M317.42,1579.09 A208.00,208.00 0 0 1 316.73,1567.86 L368.70,1566.04 A156.00,156.00 0 0 0 369.22,1574.47 Z" fill="#CCCCCC"/>
<path d="M316.71,1553.70 A208.00,208.00 0 0 1 317.39,1542.47 L369.19,1547.00 A156.00,156.00 0 0 0 368.69,1555.43 Z" fill="#CCCCCC"/>
<path d="M317.39,1542.47 A208.00,208.00 0 0 1 318.62,1531.65 L370.12,1538.89 A156.00,156.00 0 0 0 369.19,1547.00 Z" fill="#CCCCCC"/>
<path d="M318.62,1531.65 A208.00,208.00 0 0 1 320.49,1520.56 L371.52,1530.57 A156.00,156.00 0 0 0 370.12,1538.89 Z" fill="#CCCCCC"/>
<path d="M320.49,1520.56 A208.00,208.00 0 0 1 323.04,1509.22 L373.43,1522.07 A156.00,156.00 0 0 0 371.52,1530.57 Z" fill="#CCCCCC"/>
<path d="M323.04,1509.22 A208.00,208.00 0 0 1 326.12,1498.40 L375.74,1513.95 A156.00,156.00 0 0 0 373.43,1522.07 Z" fill="#CCCCCC"/>
<path d="M326.12,1498.40 A208.00,208.00 0 0 1 329.90,1487.42 L378.57,1505.71 A156.00,156.00 0 0 0 375.74,1513.95 Z" fill="#CCCCCC"/>
<path d="M329.90,1487.42 A208.00,208.00 0 0 1 334.44,1476.33 L381.98,1497.40 A156.00,156.00 0 0 0 378.57,1505.71 Z" fill="#CCCCCC"/>
<path d="M334.44,1476.33 A208.00,208.00 0 0 1 339.60,1465.52 L385.85,1489.29 A156.00,156.00 0 0 0 381.98,1497.40 Z" fill="#CCCCCC"/>
<path d="M339.60,1465.52 A208.00,208.00 0 0 1 345.20,1455.34 L390.05,1481.66 A156.00,156.00 0 0 0 385.85,1489.29 Z" fill="#CCCCCC"/>
<path d="M345.20,1455.34 A208.00,208.00 0 0 1 351.15,1445.80 L394.51,1474.50 A156.00,156.00 0 0 0 390.05,1481.66 Z" fill="#CCCCCC"/>
<path d="M392.58,1399.87 A208.00,208.00 0 0 1 422.49,1379.39 L448.02,1424.69 A156.00,156.00 0 0 0 425.58,1440.05 Z" fill="#CCCCCC"/>
<path d="M422.49,1379.39 A208.00,208.00 0 0 1 455.17,1364.53 L472.53,1413.55 A156.00,156.00 0 0 0 448.02,1424.69 Z" fill="#CCCCCC"/>
<path d="M455.17,1364.53 A208.00,208.00 0 0 1 478.16,1357.85 L489.77,1408.54 A156.00,156.00 0 0 0 472.53,1413.55 Z" fill="#CCCCCC"/>
<path d="M478.16,1357.85 A208.00,208.00 0 0 1 490.27,1355.45 L498.85,1406.74 A156.00,156.00 0 0 0 489.77,1408.54 Z" fill="#CCCCCC"/>
<path d="M490.27,1355.45 A208.00,208.00 0 0 1 500.69,1353.98 L506.67,1405.63 A156.00,156.00 0 0 0 498.85,1406.74 Z" fill="#CCCCCC"/>
<path d="M500.69,1353.98 A208.00,208.00 0 0 1 511.54,1353.01 L514.80,1404.91 A156.00,156.00 0 0 0 506.67,1405.63 Z" fill="#CCCCCC"/>
<path d="M524.60,1300.60 A260.00,260.00 0 0 1 539.11,1301.01 L536.21,1352.92 A208.00,208.00 0 0 0 524.60,1352.60 Z" fill="#CCCCCC"/>
<path d="M539.11,1301.01 A260.00,260.00 0 0 1 553.58,1302.22 L547.79,1353.90 A208.00,208.00 0 0 0 536.21,1352.92 Z" fill="#CCCCCC"/>
<path d="M553.58,1302.22 A260.00,260.00 0 0 1 568.41,1304.32 L559.65,1355.57 A208.00,208.00 0 0 0 547.79,1353.90 Z" fill="#CCCCCC"/>
<path d="M568.41,1304.32 A260.00,260.00 0 0 1 582.65,1307.16 L571.04,1357.85 A208.00,208.00 0 0 0 559.65,1355.57 Z" fill="#CCCCCC"/>
<path d="M582.65,1307.16 A260.00,260.00 0 0 1 596.70,1310.80 L582.28,1360.76 A208.00,208.00 0 0 0 571.04,1357.85 Z" fill="#CCCCCC"/>
<path d="M596.70,1310.80 A260.00,260.00 0 0 1 610.96,1315.36 L593.69,1364.41 A208.00,208.00 0 0 0 582.28,1360.76 Z" fill="#CCCCCC"/>
<path d="M610.96,1315.36 A260.00,260.00 0 0 1 624.94,1320.74 L604.87,1368.71 A208.00,208.00 0 0 0 593.69,1364.41 Z" fill="#CCCCCC"/>
<path d="M624.94,1320.74 A260.00,260.00 0 0 1 638.58,1326.91 L615.78,1373.65 A208.00,208.00 0 0 0 604.87,1368.71 Z" fill="#CCCCCC"/>
<path d="M638.58,1326.91 A260.00,260.00 0 0 1 651.84,1333.86 L626.39,1379.21 A208.00,208.00 0 0 0 615.78,1373.65 Z" fill="#CCCCCC"/>
<path d="M651.84,1333.86 A260.00,260.00 0 0 1 663.53,1340.83 L635.75,1384.79 A208.00,208.00 0 0 0 626.39,1379.21 Z" fill="#7468B5"/>
<path d="M711.63,1379.99 A260.00,260.00 0 0 1 720.82,1390.02 L681.58,1424.14 A208.00,208.00 0 0 0 674.22,1416.11 Z" fill="#CCCCCC"/>
<path d="M720.82,1390.02 A260.00,260.00 0 0 1 728.92,1399.81 L688.06,1431.97 A208.00,208.00 0 0 0 681.58,1424.14 Z" fill="#7B7BC0"/>
<path d="M740.15,1415.21 A260.00,260.00 0 0 1 746.52,1425.14 L702.14,1452.23 A208.00,208.00 0 0 0 697.04,1444.29 Z" fill="#CCCCCC"/>
<path d="M784.47,1568.77 A260.00,260.00 0 0 1 783.61,1583.26 L731.81,1578.73 A208.00,208.00 0 0 0 732.50,1567.13 Z" fill="#CCCCCC"/>
<path d="M783.61,1583.26 A260.00,260.00 0 0 1 781.88,1598.13 L730.42,1590.63 A208.00,208.00 0 0 0 731.81,1578.73 Z" fill="#CCCCCC"/>
<path d="M781.88,1598.13 A260.00,260.00 0 0 1 779.29,1612.88 L728.35,1602.42 A208.00,208.00 0 0 0 730.42,1590.63 Z" fill="#CCCCCC"/>
<path d="M779.29,1612.88 A260.00,260.00 0 0 1 775.86,1627.45 L725.61,1614.08 A208.00,208.00 0 0 0 728.35,1602.42 Z" fill="#CCCCCC"/>
<path d="M775.86,1627.45 A260.00,260.00 0 0 1 771.59,1641.81 L722.19,1625.57 A208.00,208.00 0 0 0 725.61,1614.08 Z" fill="#CCCCCC"/>
<path d="M771.59,1641.81 A260.00,260.00 0 0 1 766.34,1656.31 L717.99,1637.17 A208.00,208.00 0 0 0 722.19,1625.57 Z" fill="#CCCCCC"/>
<path d="M766.34,1656.31 A260.00,260.00 0 0 1 760.05,1670.89 L712.96,1648.83 A208.00,208.00 0 0 0 717.99,1637.17 Z" fill="#CCCCCC"/>
<path d="M760.05,1670.89 A260.00,260.00 0 0 1 753.09,1684.66 L707.39,1659.85 A208.00,208.00 0 0 0 712.96,1648.83 Z" fill="#CCCCCC"/>
<path d="M753.09,1684.66 A260.00,260.00 0 0 1 745.09,1698.38 L700.99,1670.82 A208.00,208.00 0 0 0 707.39,1659.85 Z" fill="#CCCCCC"/>
<path d="M745.09,1698.38 A260.00,260.00 0 0 1 736.53,1711.21 L694.15,1681.09 A208.00,208.00 0 0 0 700.99,1670.82 Z" fill="#CCCCCC"/>
<path d="M719.93,1732.20 A260.00,260.00 0 0 1 710.05,1742.84 L672.96,1706.39 A208.00,208.00 0 0 0 680.86,1697.88 Z" fill="#CCCCCC"/>
<path d="M700.25,1752.29 A260.00,260.00 0 0 1 689.98,1761.22 L656.90,1721.10 A208.00,208.00 0 0 0 665.12,1713.95 Z" fill="#CCCCCC"/>
<path d="M451.63,1810.15 A260.00,260.00 0 0 1 436.96,1805.38 L454.48,1756.43 A208.00,208.00 0 0 0 466.22,1760.24 Z" fill="#CCCCCC"/>
<path d="M436.96,1805.38 A260.00,260.00 0 0 1 422.59,1799.75 L442.99,1751.92 A208.00,208.00 0 0 0 454.48,1756.43 Z" fill="#CCCCCC"/>
<path d="M422.59,1799.75 A260.00,260.00 0 0 1 410.22,1794.09 L433.09,1747.39 A208.00,208.00 0 0 0 442.99,1751.92 Z" fill="#CCCCCC"/>
<path d="M410.22,1794.09 A260.00,260.00 0 0 1 395.78,1786.44 L421.54,1741.28 A208.00,208.00 0 0 0 433.09,1747.39 Z" fill="#CCCCCC"/>
<path d="M395.78,1786.44 A260.00,260.00 0 0 1 382.99,1778.65 L411.32,1735.04 A208.00,208.00 0 0 0 421.54,1741.28 Z" fill="#7468B5"/>
<path d="M382.99,1778.65 A260.00,260.00 0 0 1 371.78,1770.94 L402.34,1728.88 A208.00,208.00 0 0 0 411.32,1735.04 Z" fill="#CCCCCC"/>
<path d="M326.89,1729.46 A260.00,260.00 0 0 1 318.88,1719.60 L360.03,1687.80 A208.00,208.00 0 0 0 366.44,1695.69 Z" fill="#CCCCCC"/>
<path d="M318.88,1719.60 A260.00,260.00 0 0 1 310.33,1707.87 L353.18,1678.41 A208.00,208.00 0 0 0 360.03,1687.80 Z" fill="#7D62AB"/>
<path d="M310.33,1707.87 A260.00,260.00 0 0 1 301.74,1694.51 L346.31,1667.73 A208.00,208.00 0 0 0 353.18,1678.41 Z" fill="#CCCCCC"/>
<path d="M301.74,1694.51 A260.00,260.00 0 0 1 295.89,1684.26 L341.63,1659.53 A208.00,208.00 0 0 0 346.31,1667.73 Z" fill="#7D62AB"/>
<path d="M295.89,1684.26 A260.00,260.00 0 0 1 283.03,1656.73 L331.34,1637.51 A208.00,208.00 0 0 0 341.63,1659.53 Z" fill="#CCCCCC"/>
<path d="M283.03,1656.73 A260.00,260.00 0 0 1 278.04,1643.10 L327.35,1626.60 A208.00,208.00 0 0 0 331.34,1637.51 Z" fill="#CCCCCC"/>
<path d="M278.04,1643.10 A260.00,260.00 0 0 1 273.58,1628.33 L323.78,1614.78 A208.00,208.00 0 0 0 327.35,1626.60 Z" fill="#CCCCCC"/>
<path d="M269.82,1612.44 A260.00,260.00 0 0 1 267.32,1598.13 L318.78,1590.63 A208.00,208.00 0 0 0 320.78,1602.07 Z" fill="#CCCCCC"/>
<path d="M265.51,1582.36 A260.00,260.00 0 0 1 264.74,1569.22 L316.71,1567.50 A208.00,208.00 0 0 0 317.33,1578.00 Z" fill="#CCCCCC"/>
<path d="M277.61,1479.39 A260.00,260.00 0 0 1 282.20,1466.58 L330.68,1485.38 A208.00,208.00 0 0 0 327.01,1495.63 Z" fill="#CCCCCC"/>
<path d="M282.20,1466.58 A260.00,260.00 0 0 1 287.82,1453.19 L335.18,1474.67 A208.00,208.00 0 0 0 330.68,1485.38 Z" fill="#CCCCCC"/>
<path d="M295.25,1438.14 A260.00,260.00 0 0 1 301.04,1427.86 L345.75,1454.41 A208.00,208.00 0 0 0 341.12,1462.63 Z" fill="#CCCCCC"/>
<path d="M360.98,1358.54 A260.00,260.00 0 0 1 384.14,1341.81 L412.23,1385.57 A208.00,208.00 0 0 0 393.70,1398.95 Z" fill="#CCCCCC"/>
<path d="M384.14,1341.81 A260.00,260.00 0 0 1 396.97,1334.08 L422.49,1379.39 A208.00,208.00 0 0 0 412.23,1385.57 Z" fill="#CCCCCC"/>
<path d="M396.97,1334.08 A260.00,260.00 0 0 1 410.22,1327.11 L433.09,1373.81 A208.00,208.00 0 0 0 422.49,1379.39 Z" fill="#CCCCCC"/>
<path d="M410.22,1327.11 A260.00,260.00 0 0 1 424.26,1320.74 L444.33,1368.71 A208.00,208.00 0 0 0 433.09,1373.81 Z" fill="#CCCCCC"/>
<path d="M424.26,1320.74 A260.00,260.00 0 0 1 438.67,1315.21 L455.85,1364.29 A208.00,208.00 0 0 0 444.33,1368.71 Z" fill="#CCCCCC"/>
<path d="M438.67,1315.21 A260.00,260.00 0 0 1 452.50,1310.80 L466.92,1360.76 A208.00,208.00 0 0 0 455.85,1364.29 Z" fill="#CCCCCC"/>
<path d="M451.19,1311.18 A260.00,260.00 0 0 1 465.67,1307.37 L477.46,1358.01 A208.00,208.00 0 0 0 465.87,1361.06 Z" fill="#CCCCCC"/>
<path d="M481.69,1304.17 A260.00,260.00 0 0 1 494.27,1302.38 L500.33,1354.02 A208.00,208.00 0 0 0 490.27,1355.45 Z" fill="#CCCCCC"/>
<path d="M677.76,1288.78 A312.00,312.00 0 0 1 692.24,1297.46 L664.30,1341.32 A260.00,260.00 0 0 0 652.23,1334.08 Z" fill="#CCCCCC"/>
<path d="M760.78,1356.73 A312.00,312.00 0 0 1 769.79,1367.66 L728.92,1399.81 A260.00,260.00 0 0 0 721.42,1390.71 Z" fill="#CCCCCC"/>
<path d="M836.43,1570.94 A312.00,312.00 0 0 1 835.36,1588.34 L783.57,1583.71 A260.00,260.00 0 0 0 784.46,1569.22 Z" fill="#CCCCCC"/>
<path d="M833.33,1605.64 A312.00,312.00 0 0 1 830.34,1622.80 L779.38,1612.44 A260.00,260.00 0 0 0 781.88,1598.13 Z" fill="#CCCCCC"/>
<path d="M830.34,1622.80 A312.00,312.00 0 0 1 826.25,1640.30 L775.97,1627.02 A260.00,260.00 0 0 0 779.38,1612.44 Z" fill="#CCCCCC"/>
<path d="M826.25,1640.30 A312.00,312.00 0 0 1 821.33,1657.01 L771.87,1640.94 A260.00,260.00 0 0 0 775.97,1627.02 Z" fill="#CCCCCC"/>
<path d="M814.89,1674.95 A312.00,312.00 0 0 1 808.51,1689.98 L761.19,1668.42 A260.00,260.00 0 0 0 766.51,1655.89 Z" fill="#CCCCCC"/>
<path d="M265.03,1733.71 A312.00,312.00 0 0 1 256.60,1720.36 L301.27,1693.73 A260.00,260.00 0 0 0 308.29,1704.86 Z" fill="#CCCCCC"/>
<path d="M256.60,1720.36 A312.00,312.00 0 0 1 248.61,1706.11 L294.61,1681.86 A260.00,260.00 0 0 0 301.27,1693.73 Z" fill="#7468B5"/>
<path d="M248.61,1706.11 A312.00,312.00 0 0 1 241.37,1691.47 L288.58,1669.66 A260.00,260.00 0 0 0 294.61,1681.86 Z" fill="#CCCCCC"/>
<path d="M241.37,1691.47 A312.00,312.00 0 0 1 234.31,1674.95 L282.69,1655.89 A260.00,260.00 0 0 0 288.58,1669.66 Z" fill="#CCCCCC"/>
<path d="M218.86,1622.80 A312.00,312.00 0 0 1 215.87,1605.64 L267.32,1598.13 A260.00,260.00 0 0 0 269.82,1612.44 Z" fill="#CCCCCC"/>
<path d="M328.68,1317.79 A312.00,312.00 0 0 1 341.21,1308.19 L371.78,1350.26 A260.00,260.00 0 0 0 361.33,1358.26 Z" fill="#CCCCCC"/>
<path d="M341.21,1308.19 A312.00,312.00 0 0 1 353.76,1299.53 L382.23,1343.04 A260.00,260.00 0 0 0 371.78,1350.26 Z" fill="#CCCCCC"/>
<path d="M372.86,1287.98 A312.00,312.00 0 0 1 385.87,1281.14 L408.99,1327.71 A260.00,260.00 0 0 0 398.15,1333.42 Z" fill="#CCCCCC"/>
<path d="M405.20,1272.35 A312.00,312.00 0 0 1 418.91,1267.05 L436.53,1315.97 A260.00,260.00 0 0 0 425.10,1320.39 Z" fill="#CCCCCC"/>
<path d="M437.55,1260.99 A312.00,312.00 0 0 1 453.35,1256.84 L465.23,1307.47 A260.00,260.00 0 0 0 452.06,1310.92 Z" fill="#CCCCCC"/>
<path d="M473.11,1252.88 A312.00,312.00 0 0 1 487.66,1250.79 L493.81,1302.43 A260.00,260.00 0 0 0 481.69,1304.17 Z" fill="#CCCCCC"/>
<path d="M202.32,1729.80 A364.00,364.00 0 0 1 193.64,1712.13 L240.92,1690.48 A312.00,312.00 0 0 0 248.36,1705.63 Z" fill="#CCCCCC"/>
<path d="M193.64,1712.13 A364.00,364.00 0 0 1 185.70,1693.42 L234.11,1674.44 A312.00,312.00 0 0 0 240.92,1690.48 Z" fill="#CCCCCC"/>
<path d="M167.91,1633.17 A364.00,364.00 0 0 1 164.41,1613.15 L215.87,1605.64 A312.00,312.00 0 0 0 218.86,1622.80 Z" fill="#CCCCCC"/>
<path d="M385.30,1224.31 A364.00,364.00 0 0 1 401.30,1218.12 L418.91,1267.05 A312.00,312.00 0 0 0 405.20,1272.35 Z" fill="#CCCCCC"/>
<path d="M423.05,1211.05 A364.00,364.00 0 0 1 441.48,1206.22 L453.35,1256.84 A312.00,312.00 0 0 0 437.55,1260.99 Z" fill="#CCCCCC"/>
<circle cx="524.60" cy="1560.60" r="52.00" fill="#FF0000"/>
</g>
<text x="614.20" y="1475.20" font-size="22.6" text-anchor="middle" transform="rotate(-43.50 614.20 1475.20)" dominant-baseline="central" stroke="#fff" stroke-width="2.6" paint-order="stroke" stroke-linejoin="round">organization</text>
<text x="604.90" y="1646.10" font-size="22.6" text-anchor="middle" transform="rotate(45.50 604.90 1646.10)" dominant-baseline="central" stroke="#fff" stroke-width="2.6" paint-order="stroke" stroke-linejoin="round">presynaptic</text>
<text x="458.90" y="1685.80" font-size="22.6" text-anchor="middle" transform="rotate(-62.00 458.90 1685.80)" dominant-baseline="central" stroke="#fff" stroke-width="2.6" paint-order="stroke" stroke-linejoin="round">postsynaptic</text>
<text x="405.80" y="1597.20" font-size="22.6" text-anchor="middle" transform="rotate(-16.80 405.80 1597.20)" dominant-baseline="central" stroke="#fff" stroke-width="2.6" paint-order="stroke" stroke-linejoin="round">signaling</text>
<text x="403.30" y="1497.80" font-size="22.6" text-anchor="middle" transform="rotate(27.50 403.30 1497.80)" dominant-baseline="central" stroke="#fff" stroke-width="2.6" paint-order="stroke" stroke-linejoin="round">metabolism</text>
<text x="482.40" y="1445.00" font-size="22.6" text-anchor="middle" transform="rotate(68.00 482.40 1445.00)" dominant-baseline="central" stroke="#fff" stroke-width="2.6" paint-order="stroke" stroke-linejoin="round">transport</text>
<text x="690.60" y="1226.60" font-size="24" text-anchor="middle" textLength="225.5" lengthAdjust="spacingAndGlyphs" stroke="#000" stroke-width="0.35">synapse assembly</text>
<line x1="680.60" y1="1238.80" x2="605.32" y2="1413.67" stroke="#000" stroke-width="2.2" />
<path d="M598.20,1430.20 L599.86,1409.14 L612.35,1414.52 Z" fill="#000" />
<text x="11.00" y="1830.00" font-size="24" textLength="378.0" lengthAdjust="spacingAndGlyphs" stroke="#000" stroke-width="0.35">chemical synaptic transmission</text>
<line x1="193.70" y1="1798.10" x2="338.62" y2="1684.79" stroke="#000" stroke-width="2.2" />
<path d="M352.80,1673.70 L341.23,1691.38 L332.86,1680.66 Z" fill="#000" />
<text x="860.00" y="1783.00" font-size="24" text-anchor="middle" textLength="300.0" lengthAdjust="spacingAndGlyphs" stroke="#000" stroke-width="0.35">regulation of presynaptic</text>
<text x="862.00" y="1813.00" font-size="24" text-anchor="middle" textLength="243.0" lengthAdjust="spacingAndGlyphs" stroke="#000" stroke-width="0.35">membrane potential</text>
<line x1="862.00" y1="1744.00" x2="619.57" y2="1689.92" stroke="#000" stroke-width="2.2" />
<path d="M602.00,1686.00 L623.00,1683.72 L620.04,1696.99 Z" fill="#000" />
<text x="928.50" y="1153.00" font-size="31" font-weight="bold" >f</text>
<text x="1412.00" y="1157.00" font-size="24.8" text-anchor="middle" >DG neurons</text>
<text x="961.50" y="1202.00" font-size="22" >-log10 Q-value</text>
<rect x="961.50" y="1214.20" width="24.70" height="24.60" fill="#CCCCCC" />
<text x="992.90" y="1234.40" font-size="22" >too few genes</text>
<rect x="961.50" y="1245.50" width="24.70" height="24.60" fill="#7B7B7B" />
<text x="992.90" y="1265.70" font-size="22" >not significant</text>
<rect x="961.50" y="1276.80" width="24.70" height="24.60" fill="#98B5DA" />
<text x="992.90" y="1297.00" font-size="22" >2</text>
<rect x="961.50" y="1308.10" width="24.70" height="24.60" fill="#7468B3" />
<text x="992.90" y="1328.30" font-size="22" >5</text>
<rect x="961.50" y="1339.40" width="24.70" height="24.60" fill="#9A5590" />
<text x="992.90" y="1359.60" font-size="22" >10</text>
<rect x="961.50" y="1370.70" width="24.70" height="24.60" fill="#C54A5E" />
<text x="992.90" y="1390.90" font-size="22" >15</text>
<rect x="961.50" y="1402.00" width="24.70" height="24.60" fill="#E03035" />
<text x="992.90" y="1422.20" font-size="22" >≥20</text>
<g stroke="#fff" stroke-width="1.6" stroke-linejoin="round">
<path d="M1453.80,1457.90 A104.00,104.00 0 0 1 1557.75,1565.17 L1505.77,1563.53 A52.00,52.00 0 0 0 1453.80,1509.90 Z" fill="#FA1E0A"/>
<path d="M1557.75,1565.17 A104.00,104.00 0 0 1 1448.36,1665.76 L1451.08,1613.83 A52.00,52.00 0 0 0 1505.77,1563.53 Z" fill="#DB3237"/>
<path d="M1448.36,1665.76 A104.00,104.00 0 0 1 1371.85,1625.93 L1412.82,1593.91 A52.00,52.00 0 0 0 1451.08,1613.83 Z" fill="#E92A1A"/>
<path d="M1371.85,1625.93 A104.00,104.00 0 0 1 1350.18,1553.02 L1401.99,1557.46 A52.00,52.00 0 0 0 1412.82,1593.91 Z" fill="#CCCCCC"/>
<path d="M1350.18,1553.02 A104.00,104.00 0 0 1 1387.79,1481.54 L1420.79,1521.72 A52.00,52.00 0 0 0 1401.99,1557.46 Z" fill="#CCCCCC"/>
<path d="M1387.79,1481.54 A104.00,104.00 0 0 1 1453.80,1457.90 L1453.80,1509.90 A52.00,52.00 0 0 0 1420.79,1521.72 Z" fill="#7F63AC"/>
<path d="M1453.80,1405.90 A156.00,156.00 0 0 1 1505.36,1414.67 L1488.17,1463.74 A104.00,104.00 0 0 0 1453.80,1457.90 Z" fill="#7F64AB"/>
<path d="M1505.36,1414.67 A156.00,156.00 0 0 1 1551.97,1440.67 L1519.25,1481.08 A104.00,104.00 0 0 0 1488.17,1463.74 Z" fill="#9B558D"/>
<path d="M1551.97,1440.67 A156.00,156.00 0 0 1 1558.59,1446.33 L1523.66,1484.86 A104.00,104.00 0 0 0 1519.25,1481.08 Z" fill="#7868B3"/>
<path d="M1558.59,1446.33 A156.00,156.00 0 0 1 1577.56,1466.93 L1536.31,1498.59 A104.00,104.00 0 0 0 1523.66,1484.86 Z" fill="#CCCCCC"/>
<path d="M1577.56,1466.93 A156.00,156.00 0 0 1 1587.52,1481.55 L1542.95,1508.34 A104.00,104.00 0 0 0 1536.31,1498.59 Z" fill="#CCCCCC"/>
<path d="M1587.52,1481.55 A156.00,156.00 0 0 1 1595.18,1495.97 L1548.06,1517.95 A104.00,104.00 0 0 0 1542.95,1508.34 Z" fill="#CCCCCC"/>
<path d="M1595.18,1495.97 A156.00,156.00 0 0 1 1599.63,1506.50 L1551.02,1524.97 A104.00,104.00 0 0 0 1548.06,1517.95 Z" fill="#CCCCCC"/>
<path d="M1599.63,1506.50 A156.00,156.00 0 0 1 1602.66,1515.25 L1553.04,1530.80 A104.00,104.00 0 0 0 1551.02,1524.97 Z" fill="#94B2DC"/>
<path d="M1602.66,1515.25 A156.00,156.00 0 0 1 1604.90,1523.10 L1554.53,1536.04 A104.00,104.00 0 0 0 1553.04,1530.80 Z" fill="#CCCCCC"/>
<path d="M1604.90,1523.10 A156.00,156.00 0 0 1 1606.72,1531.07 L1555.75,1541.34 A104.00,104.00 0 0 0 1554.53,1536.04 Z" fill="#7868B3"/>
<path d="M1606.72,1531.07 A156.00,156.00 0 0 1 1608.32,1540.46 L1556.81,1547.61 A104.00,104.00 0 0 0 1555.75,1541.34 Z" fill="#CCCCCC"/>
<path d="M1608.32,1540.46 A156.00,156.00 0 0 1 1609.21,1548.30 L1557.40,1552.84 A104.00,104.00 0 0 0 1556.81,1547.61 Z" fill="#CCCCCC"/>
<path d="M1609.21,1548.30 A156.00,156.00 0 0 1 1609.74,1557.54 L1557.76,1559.00 A104.00,104.00 0 0 0 1557.40,1552.84 Z" fill="#CCCCCC"/>
<path d="M1609.74,1557.54 A156.00,156.00 0 0 1 1609.72,1566.80 L1557.75,1565.17 A104.00,104.00 0 0 0 1557.76,1559.00 Z" fill="#CCCCCC"/>
<path d="M1609.72,1566.80 A156.00,156.00 0 0 1 1551.34,1683.65 L1518.83,1643.06 A104.00,104.00 0 0 0 1557.75,1565.17 Z" fill="#B04D6E"/>
<path d="M1551.34,1683.65 A156.00,156.00 0 0 1 1522.92,1701.75 L1499.88,1655.13 A104.00,104.00 0 0 0 1518.83,1643.06 Z" fill="#CCCCCC"/>
<path d="M1522.92,1701.75 A156.00,156.00 0 0 1 1498.11,1711.48 L1483.34,1661.62 A104.00,104.00 0 0 0 1499.88,1655.13 Z" fill="#8590CA"/>
<path d="M1498.11,1711.48 A156.00,156.00 0 0 1 1489.16,1713.84 L1477.37,1663.19 A104.00,104.00 0 0 0 1483.34,1661.62 Z" fill="#CCCCCC"/>
<path d="M1489.16,1713.84 A156.00,156.00 0 0 1 1480.89,1715.53 L1471.86,1664.32 A104.00,104.00 0 0 0 1477.37,1663.19 Z" fill="#8C9FD3"/>
<path d="M1480.89,1715.53 A156.00,156.00 0 0 1 1471.46,1716.90 L1465.57,1665.23 A104.00,104.00 0 0 0 1471.86,1664.32 Z" fill="#CCCCCC"/>
<path d="M1471.46,1716.90 A156.00,156.00 0 0 1 1463.32,1717.61 L1460.15,1665.71 A104.00,104.00 0 0 0 1465.57,1665.23 Z" fill="#CCCCCC"/>
<path d="M1463.32,1717.61 A156.00,156.00 0 0 1 1453.80,1717.90 L1453.80,1665.90 A104.00,104.00 0 0 0 1460.15,1665.71 Z" fill="#CCCCCC"/>
<path d="M1453.80,1717.90 A156.00,156.00 0 0 1 1445.64,1717.69 L1448.36,1665.76 A104.00,104.00 0 0 0 1453.80,1665.90 Z" fill="#CCCCCC"/>
<path d="M1445.64,1717.69 A156.00,156.00 0 0 1 1400.96,1708.68 L1418.57,1659.75 A104.00,104.00 0 0 0 1448.36,1665.76 Z" fill="#CCCCCC"/>
<path d="M1400.96,1708.68 A156.00,156.00 0 0 1 1370.44,1693.76 L1398.23,1649.81 A104.00,104.00 0 0 0 1418.57,1659.75 Z" fill="#B3476C"/>
<path d="M1370.44,1693.76 A156.00,156.00 0 0 1 1349.01,1677.47 L1383.94,1638.94 A104.00,104.00 0 0 0 1398.23,1649.81 Z" fill="#8163A8"/>
<path d="M1349.01,1677.47 A156.00,156.00 0 0 1 1342.72,1671.44 L1379.75,1634.92 A104.00,104.00 0 0 0 1383.94,1638.94 Z" fill="#CCCCCC"/>
<path d="M1342.72,1671.44 A156.00,156.00 0 0 1 1336.78,1665.06 L1375.79,1630.68 A104.00,104.00 0 0 0 1379.75,1634.92 Z" fill="#CCCCCC"/>
<path d="M1336.78,1665.06 A156.00,156.00 0 0 1 1330.87,1657.94 L1371.85,1625.93 A104.00,104.00 0 0 0 1375.79,1630.68 Z" fill="#CCCCCC"/>
<path d="M1330.87,1657.94 A156.00,156.00 0 0 1 1297.93,1568.16 L1349.88,1566.07 A104.00,104.00 0 0 0 1371.85,1625.93 Z" fill="#CF3B47"/>
<path d="M1297.93,1568.16 A156.00,156.00 0 0 1 1297.87,1557.27 L1349.85,1558.81 A104.00,104.00 0 0 0 1349.88,1566.07 Z" fill="#CCCCCC"/>
<path d="M1297.87,1557.27 A156.00,156.00 0 0 1 1298.37,1548.57 L1350.18,1553.02 A104.00,104.00 0 0 0 1349.85,1558.81 Z" fill="#CCCCCC"/>
<path d="M1298.37,1548.57 A156.00,156.00 0 0 1 1300.77,1531.60 L1351.78,1541.70 A104.00,104.00 0 0 0 1350.18,1553.02 Z" fill="#CCCCCC"/>
<path d="M1300.77,1531.60 A156.00,156.00 0 0 1 1305.27,1514.21 L1354.78,1530.11 A104.00,104.00 0 0 0 1351.78,1541.70 Z" fill="#CCCCCC"/>
<path d="M1305.27,1514.21 A156.00,156.00 0 0 1 1322.08,1478.31 L1365.99,1506.17 A104.00,104.00 0 0 0 1354.78,1530.11 Z" fill="#CCCCCC"/>
<path d="M1322.08,1478.31 A156.00,156.00 0 0 1 1326.33,1471.98 L1368.82,1501.95 A104.00,104.00 0 0 0 1365.99,1506.17 Z" fill="#CCCCCC"/>
<path d="M1326.33,1471.98 A156.00,156.00 0 0 1 1330.87,1465.86 L1371.85,1497.87 A104.00,104.00 0 0 0 1368.82,1501.95 Z" fill="#CCCCCC"/>
<path d="M1330.87,1465.86 A156.00,156.00 0 0 1 1335.89,1459.76 L1375.19,1493.81 A104.00,104.00 0 0 0 1371.85,1497.87 Z" fill="#CCCCCC"/>
<path d="M1335.89,1459.76 A156.00,156.00 0 0 1 1341.58,1453.53 L1378.99,1489.66 A104.00,104.00 0 0 0 1375.19,1493.81 Z" fill="#CCCCCC"/>
<path d="M1341.58,1453.53 A156.00,156.00 0 0 1 1347.81,1447.44 L1383.14,1485.59 A104.00,104.00 0 0 0 1378.99,1489.66 Z" fill="#CCCCCC"/>
<path d="M1347.81,1447.44 A156.00,156.00 0 0 1 1354.78,1441.35 L1387.79,1481.54 A104.00,104.00 0 0 0 1383.14,1485.59 Z" fill="#CCCCCC"/>
<path d="M1354.78,1441.35 A156.00,156.00 0 0 1 1401.73,1414.85 L1419.08,1463.87 A104.00,104.00 0 0 0 1387.79,1481.54 Z" fill="#CCCCCC"/>
<path d="M1401.73,1414.85 A156.00,156.00 0 0 1 1427.78,1408.08 L1436.46,1459.36 A104.00,104.00 0 0 0 1419.08,1463.87 Z" fill="#CCCCCC"/>
<path d="M1427.78,1408.08 A156.00,156.00 0 0 1 1436.41,1406.87 L1442.21,1458.55 A104.00,104.00 0 0 0 1436.46,1459.36 Z" fill="#CCCCCC"/>
<path d="M1436.41,1406.87 A156.00,156.00 0 0 1 1446.18,1406.09 L1448.72,1458.02 A104.00,104.00 0 0 0 1442.21,1458.55 Z" fill="#CCCCCC"/>
<path d="M1446.18,1406.09 A156.00,156.00 0 0 1 1453.80,1405.90 L1453.80,1457.90 A104.00,104.00 0 0 0 1448.72,1458.02 Z" fill="#CCCCCC"/>
<path d="M1453.80,1353.90 A208.00,208.00 0 0 1 1498.82,1358.83 L1487.56,1409.60 A156.00,156.00 0 0 0 1453.80,1405.90 Z" fill="#8792C9"/>
<path d="M1498.82,1358.83 A208.00,208.00 0 0 1 1522.55,1365.59 L1505.36,1414.67 A156.00,156.00 0 0 0 1487.56,1409.60 Z" fill="#8590CA"/>
<path d="M1522.55,1365.59 A208.00,208.00 0 0 1 1544.98,1374.95 L1522.19,1421.69 A156.00,156.00 0 0 0 1505.36,1414.67 Z" fill="#7670B9"/>
<path d="M1544.98,1374.95 A208.00,208.00 0 0 1 1565.56,1386.47 L1537.62,1430.33 A156.00,156.00 0 0 0 1522.19,1421.69 Z" fill="#7E65AD"/>
<path d="M1565.56,1386.47 A208.00,208.00 0 0 1 1574.59,1392.56 L1544.39,1434.90 A156.00,156.00 0 0 0 1537.62,1430.33 Z" fill="#7670B9"/>
<path d="M1574.59,1392.56 A208.00,208.00 0 0 1 1584.70,1400.25 L1551.97,1440.67 A156.00,156.00 0 0 0 1544.39,1434.90 Z" fill="#CCCCCC"/>
<path d="M1584.70,1400.25 A208.00,208.00 0 0 1 1593.52,1407.81 L1558.59,1446.33 A156.00,156.00 0 0 0 1551.97,1440.67 Z" fill="#7266B2"/>
<path d="M1593.52,1407.81 A208.00,208.00 0 0 1 1602.16,1416.11 L1565.07,1452.56 A156.00,156.00 0 0 0 1558.59,1446.33 Z" fill="#CCCCCC"/>
<path d="M1602.16,1416.11 A208.00,208.00 0 0 1 1617.71,1433.84 L1576.73,1465.86 A156.00,156.00 0 0 0 1565.07,1452.56 Z" fill="#7670B9"/>
<path d="M1617.71,1433.84 A208.00,208.00 0 0 1 1625.22,1444.09 L1582.36,1473.54 A156.00,156.00 0 0 0 1576.73,1465.86 Z" fill="#CCCCCC"/>
<path d="M1625.22,1444.09 A208.00,208.00 0 0 1 1631.15,1453.22 L1586.81,1480.39 A156.00,156.00 0 0 0 1582.36,1473.54 Z" fill="#7B7BC0"/>
<path d="M1631.15,1453.22 A208.00,208.00 0 0 1 1637.45,1464.25 L1591.54,1488.66 A156.00,156.00 0 0 0 1586.81,1480.39 Z" fill="#8FA6D8"/>
<path d="M1637.45,1464.25 A208.00,208.00 0 0 1 1642.77,1474.98 L1595.53,1496.71 A156.00,156.00 0 0 0 1591.54,1488.66 Z" fill="#CCCCCC"/>
<path d="M1642.77,1474.98 A208.00,208.00 0 0 1 1646.93,1484.66 L1598.64,1503.97 A156.00,156.00 0 0 0 1595.53,1496.71 Z" fill="#CCCCCC"/>
<path d="M1655.17,1509.82 A208.00,208.00 0 0 1 1657.62,1520.43 L1606.67,1530.80 A156.00,156.00 0 0 0 1604.83,1522.84 Z" fill="#CCCCCC"/>
<path d="M1659.78,1532.95 A208.00,208.00 0 0 1 1661.10,1544.86 L1609.28,1549.12 A156.00,156.00 0 0 0 1608.28,1540.19 Z" fill="#CCCCCC"/>
<path d="M1661.10,1544.86 A208.00,208.00 0 0 1 1661.73,1556.46 L1609.75,1557.82 A156.00,156.00 0 0 0 1609.28,1549.12 Z" fill="#8793CB"/>
<path d="M1661.73,1556.46 A208.00,208.00 0 0 1 1661.70,1568.43 L1609.72,1566.80 A156.00,156.00 0 0 0 1609.75,1557.82 Z" fill="#CCCCCC"/>
<path d="M1661.70,1568.43 A208.00,208.00 0 0 1 1651.62,1626.18 L1602.16,1610.11 A156.00,156.00 0 0 0 1609.72,1566.80 Z" fill="#7A69B4"/>
<path d="M1651.62,1626.18 A208.00,208.00 0 0 1 1638.13,1658.27 L1592.05,1634.17 A156.00,156.00 0 0 0 1602.16,1610.11 Z" fill="#8163A8"/>
<path d="M1638.13,1658.27 A208.00,208.00 0 0 1 1623.35,1682.39 L1580.96,1652.27 A156.00,156.00 0 0 0 1592.05,1634.17 Z" fill="#CCCCCC"/>
<path d="M1623.35,1682.39 A208.00,208.00 0 0 1 1615.90,1692.23 L1575.38,1659.65 A156.00,156.00 0 0 0 1580.96,1652.27 Z" fill="#94B2DC"/>
<path d="M1615.90,1692.23 A208.00,208.00 0 0 1 1609.58,1699.72 L1570.64,1665.27 A156.00,156.00 0 0 0 1575.38,1659.65 Z" fill="#7868B3"/>
<path d="M1609.58,1699.72 A208.00,208.00 0 0 1 1602.16,1707.69 L1565.07,1671.24 A156.00,156.00 0 0 0 1570.64,1665.27 Z" fill="#CCCCCC"/>
<path d="M1602.16,1707.69 A208.00,208.00 0 0 1 1592.98,1716.47 L1558.18,1677.83 A156.00,156.00 0 0 0 1565.07,1671.24 Z" fill="#CCCCCC"/>
<path d="M1592.98,1716.47 A208.00,208.00 0 0 1 1584.13,1724.00 L1551.55,1683.48 A156.00,156.00 0 0 0 1558.18,1677.83 Z" fill="#CCCCCC"/>
<path d="M1584.13,1724.00 A208.00,208.00 0 0 1 1576.65,1729.75 L1545.93,1687.79 A156.00,156.00 0 0 0 1551.55,1683.48 Z" fill="#7F63A9"/>
<path d="M1576.65,1729.75 A208.00,208.00 0 0 1 1567.08,1736.34 L1538.76,1692.73 A156.00,156.00 0 0 0 1545.93,1687.79 Z" fill="#CCCCCC"/>
<path d="M1567.08,1736.34 A208.00,208.00 0 0 1 1556.22,1742.93 L1530.62,1697.68 A156.00,156.00 0 0 0 1538.76,1692.73 Z" fill="#CCCCCC"/>
<path d="M1556.22,1742.93 A208.00,208.00 0 0 1 1545.31,1748.69 L1522.43,1701.99 A156.00,156.00 0 0 0 1530.62,1697.68 Z" fill="#CCCCCC"/>
<path d="M1545.31,1748.69 A208.00,208.00 0 0 1 1534.40,1753.65 L1514.25,1705.71 A156.00,156.00 0 0 0 1522.43,1701.99 Z" fill="#CCCCCC"/>
<path d="M1534.40,1753.65 A208.00,208.00 0 0 1 1523.23,1757.97 L1505.87,1708.95 A156.00,156.00 0 0 0 1514.25,1705.71 Z" fill="#CCCCCC"/>
<path d="M1523.23,1757.97 A208.00,208.00 0 0 1 1512.53,1761.44 L1497.85,1711.55 A156.00,156.00 0 0 0 1505.87,1708.95 Z" fill="#CCCCCC"/>
<path d="M1499.17,1764.89 A208.00,208.00 0 0 1 1488.49,1766.99 L1479.82,1715.72 A156.00,156.00 0 0 0 1487.83,1714.14 Z" fill="#CCCCCC"/>
<path d="M1475.54,1768.76 A208.00,208.00 0 0 1 1465.77,1769.56 L1462.78,1717.64 A156.00,156.00 0 0 0 1470.11,1717.05 Z" fill="#CCCCCC"/>
<path d="M1452.71,1769.90 A208.00,208.00 0 0 1 1442.91,1769.61 L1445.64,1717.69 A156.00,156.00 0 0 0 1452.98,1717.90 Z" fill="#CCCCCC"/>
<path d="M1442.91,1769.61 A208.00,208.00 0 0 1 1431.34,1768.68 L1436.95,1716.99 A156.00,156.00 0 0 0 1445.64,1717.69 Z" fill="#CCCCCC"/>
<path d="M1431.34,1768.68 A208.00,208.00 0 0 1 1419.47,1767.05 L1428.05,1715.76 A156.00,156.00 0 0 0 1436.95,1716.99 Z" fill="#CCCCCC"/>
<path d="M1419.47,1767.05 A208.00,208.00 0 0 1 1407.01,1764.57 L1418.71,1713.90 A156.00,156.00 0 0 0 1428.05,1715.76 Z" fill="#CCCCCC"/>
<path d="M1407.01,1764.57 A208.00,208.00 0 0 1 1394.72,1761.33 L1409.49,1711.48 A156.00,156.00 0 0 0 1418.71,1713.90 Z" fill="#CCCCCC"/>
<path d="M1394.72,1761.33 A208.00,208.00 0 0 1 1382.66,1757.36 L1400.44,1708.49 A156.00,156.00 0 0 0 1409.49,1711.48 Z" fill="#CCCCCC"/>
<path d="M1382.66,1757.36 A208.00,208.00 0 0 1 1373.20,1753.65 L1393.35,1705.71 A156.00,156.00 0 0 0 1400.44,1708.49 Z" fill="#9A5590"/>
<path d="M1373.20,1753.65 A208.00,208.00 0 0 1 1361.97,1748.53 L1384.93,1701.87 A156.00,156.00 0 0 0 1393.35,1705.71 Z" fill="#CCCCCC"/>
<path d="M1361.97,1748.53 A208.00,208.00 0 0 1 1351.06,1742.75 L1376.75,1697.54 A156.00,156.00 0 0 0 1384.93,1701.87 Z" fill="#CCCCCC"/>
<path d="M1351.06,1742.75 A208.00,208.00 0 0 1 1342.65,1737.71 L1370.44,1693.76 A156.00,156.00 0 0 0 1376.75,1697.54 Z" fill="#7868B3"/>
<path d="M1342.65,1737.71 A208.00,208.00 0 0 1 1330.95,1729.75 L1361.67,1687.79 A156.00,156.00 0 0 0 1370.44,1693.76 Z" fill="#CCCCCC"/>
<path d="M1330.95,1729.75 A208.00,208.00 0 0 1 1322.90,1723.55 L1355.63,1683.13 A156.00,156.00 0 0 0 1361.67,1687.79 Z" fill="#8163A8"/>
<path d="M1322.90,1723.55 A208.00,208.00 0 0 1 1314.08,1715.99 L1349.01,1677.47 A156.00,156.00 0 0 0 1355.63,1683.13 Z" fill="#CCCCCC"/>
<path d="M1304.68,1706.91 A208.00,208.00 0 0 1 1297.06,1698.63 L1336.24,1664.45 A156.00,156.00 0 0 0 1341.96,1670.66 Z" fill="#CCCCCC"/>
<path d="M1297.06,1698.63 A208.00,208.00 0 0 1 1289.23,1689.10 L1330.37,1657.30 A156.00,156.00 0 0 0 1336.24,1664.45 Z" fill="#7476C0"/>
<path d="M1289.23,1689.10 A208.00,208.00 0 0 1 1270.83,1660.83 L1316.57,1636.10 A156.00,156.00 0 0 0 1330.37,1657.30 Z" fill="#C53F52"/>
<path d="M1270.83,1660.83 A208.00,208.00 0 0 1 1260.67,1639.14 L1308.96,1619.83 A156.00,156.00 0 0 0 1316.57,1636.10 Z" fill="#CCCCCC"/>
<path d="M1260.67,1639.14 A208.00,208.00 0 0 1 1253.36,1617.49 L1303.47,1603.59 A156.00,156.00 0 0 0 1308.96,1619.83 Z" fill="#CCCCCC"/>
<path d="M1253.36,1617.49 A208.00,208.00 0 0 1 1250.20,1604.44 L1301.10,1593.80 A156.00,156.00 0 0 0 1303.47,1603.59 Z" fill="#CCCCCC"/>
<path d="M1250.20,1604.44 A208.00,208.00 0 0 1 1247.98,1591.93 L1299.43,1584.42 A156.00,156.00 0 0 0 1301.10,1593.80 Z" fill="#CCCCCC"/>
<path d="M1247.98,1591.93 A208.00,208.00 0 0 1 1246.62,1580.39 L1298.42,1575.77 A156.00,156.00 0 0 0 1299.43,1584.42 Z" fill="#CCCCCC"/>
<path d="M1246.62,1580.39 A208.00,208.00 0 0 1 1245.93,1569.16 L1297.90,1567.34 A156.00,156.00 0 0 0 1298.42,1575.77 Z" fill="#CCCCCC"/>
<path d="M1245.91,1555.00 A208.00,208.00 0 0 1 1246.59,1543.77 L1298.39,1548.30 A156.00,156.00 0 0 0 1297.89,1556.73 Z" fill="#CCCCCC"/>
<path d="M1246.59,1543.77 A208.00,208.00 0 0 1 1247.82,1532.95 L1299.32,1540.19 A156.00,156.00 0 0 0 1298.39,1548.30 Z" fill="#CCCCCC"/>
<path d="M1247.82,1532.95 A208.00,208.00 0 0 1 1249.69,1521.86 L1300.72,1531.87 A156.00,156.00 0 0 0 1299.32,1540.19 Z" fill="#CCCCCC"/>
<path d="M1249.69,1521.86 A208.00,208.00 0 0 1 1252.24,1510.52 L1302.63,1523.37 A156.00,156.00 0 0 0 1300.72,1531.87 Z" fill="#CCCCCC"/>
<path d="M1252.24,1510.52 A208.00,208.00 0 0 1 1255.32,1499.70 L1304.94,1515.25 A156.00,156.00 0 0 0 1302.63,1523.37 Z" fill="#CCCCCC"/>
<path d="M1255.32,1499.70 A208.00,208.00 0 0 1 1259.10,1488.72 L1307.77,1507.01 A156.00,156.00 0 0 0 1304.94,1515.25 Z" fill="#CCCCCC"/>
<path d="M1259.10,1488.72 A208.00,208.00 0 0 1 1263.64,1477.63 L1311.18,1498.70 A156.00,156.00 0 0 0 1307.77,1507.01 Z" fill="#CCCCCC"/>
<path d="M1263.64,1477.63 A208.00,208.00 0 0 1 1268.80,1466.82 L1315.05,1490.59 A156.00,156.00 0 0 0 1311.18,1498.70 Z" fill="#CCCCCC"/>
<path d="M1268.80,1466.82 A208.00,208.00 0 0 1 1274.40,1456.64 L1319.25,1482.96 A156.00,156.00 0 0 0 1315.05,1490.59 Z" fill="#CCCCCC"/>
<path d="M1274.40,1456.64 A208.00,208.00 0 0 1 1280.35,1447.10 L1323.71,1475.80 A156.00,156.00 0 0 0 1319.25,1482.96 Z" fill="#CCCCCC"/>
<path d="M1321.78,1401.17 A208.00,208.00 0 0 1 1351.69,1380.69 L1377.22,1425.99 A156.00,156.00 0 0 0 1354.78,1441.35 Z" fill="#CCCCCC"/>
<path d="M1351.69,1380.69 A208.00,208.00 0 0 1 1384.37,1365.83 L1401.73,1414.85 A156.00,156.00 0 0 0 1377.22,1425.99 Z" fill="#8590CA"/>
<path d="M1384.37,1365.83 A208.00,208.00 0 0 1 1407.36,1359.15 L1418.97,1409.84 A156.00,156.00 0 0 0 1401.73,1414.85 Z" fill="#CCCCCC"/>
<path d="M1407.36,1359.15 A208.00,208.00 0 0 1 1419.47,1356.75 L1428.05,1408.04 A156.00,156.00 0 0 0 1418.97,1409.84 Z" fill="#CCCCCC"/>
<path d="M1419.47,1356.75 A208.00,208.00 0 0 1 1429.89,1355.28 L1435.87,1406.93 A156.00,156.00 0 0 0 1428.05,1408.04 Z" fill="#CCCCCC"/>
<path d="M1429.89,1355.28 A208.00,208.00 0 0 1 1440.74,1354.31 L1444.00,1406.21 A156.00,156.00 0 0 0 1435.87,1406.93 Z" fill="#CCCCCC"/>
<path d="M1453.80,1301.90 A260.00,260.00 0 0 1 1468.31,1302.31 L1465.41,1354.22 A208.00,208.00 0 0 0 1453.80,1353.90 Z" fill="#CCCCCC"/>
<path d="M1468.31,1302.31 A260.00,260.00 0 0 1 1482.78,1303.52 L1476.99,1355.20 A208.00,208.00 0 0 0 1465.41,1354.22 Z" fill="#CCCCCC"/>
<path d="M1482.78,1303.52 A260.00,260.00 0 0 1 1497.61,1305.62 L1488.85,1356.87 A208.00,208.00 0 0 0 1476.99,1355.20 Z" fill="#CCCCCC"/>
<path d="M1497.61,1305.62 A260.00,260.00 0 0 1 1511.85,1308.46 L1500.24,1359.15 A208.00,208.00 0 0 0 1488.85,1356.87 Z" fill="#8590CA"/>
<path d="M1511.85,1308.46 A260.00,260.00 0 0 1 1525.90,1312.10 L1511.48,1362.06 A208.00,208.00 0 0 0 1500.24,1359.15 Z" fill="#CCCCCC"/>
<path d="M1525.90,1312.10 A260.00,260.00 0 0 1 1540.16,1316.66 L1522.89,1365.71 A208.00,208.00 0 0 0 1511.48,1362.06 Z" fill="#CCCCCC"/>
<path d="M1540.16,1316.66 A260.00,260.00 0 0 1 1554.14,1322.04 L1534.07,1370.01 A208.00,208.00 0 0 0 1522.89,1365.71 Z" fill="#7F7F7F"/>
<path d="M1554.14,1322.04 A260.00,260.00 0 0 1 1567.78,1328.21 L1544.98,1374.95 A208.00,208.00 0 0 0 1534.07,1370.01 Z" fill="#CCCCCC"/>
<path d="M1567.78,1328.21 A260.00,260.00 0 0 1 1581.04,1335.16 L1555.59,1380.51 A208.00,208.00 0 0 0 1544.98,1374.95 Z" fill="#CCCCCC"/>
<path d="M1581.04,1335.16 A260.00,260.00 0 0 1 1592.73,1342.13 L1564.95,1386.09 A208.00,208.00 0 0 0 1555.59,1380.51 Z" fill="#7468B5"/>
<path d="M1640.83,1381.29 A260.00,260.00 0 0 1 1650.02,1391.32 L1610.78,1425.44 A208.00,208.00 0 0 0 1603.42,1417.41 Z" fill="#CCCCCC"/>
<path d="M1650.02,1391.32 A260.00,260.00 0 0 1 1658.12,1401.11 L1617.26,1433.27 A208.00,208.00 0 0 0 1610.78,1425.44 Z" fill="#8FA6D8"/>
<path d="M1669.35,1416.51 A260.00,260.00 0 0 1 1675.72,1426.44 L1631.34,1453.53 A208.00,208.00 0 0 0 1626.24,1445.59 Z" fill="#CCCCCC"/>
<path d="M1713.67,1570.07 A260.00,260.00 0 0 1 1712.81,1584.56 L1661.01,1580.03 A208.00,208.00 0 0 0 1661.70,1568.43 Z" fill="#CCCCCC"/>
<path d="M1712.81,1584.56 A260.00,260.00 0 0 1 1711.08,1599.43 L1659.62,1591.93 A208.00,208.00 0 0 0 1661.01,1580.03 Z" fill="#CCCCCC"/>
<path d="M1711.08,1599.43 A260.00,260.00 0 0 1 1708.49,1614.18 L1657.55,1603.72 A208.00,208.00 0 0 0 1659.62,1591.93 Z" fill="#CCCCCC"/>
<path d="M1708.49,1614.18 A260.00,260.00 0 0 1 1705.06,1628.75 L1654.81,1615.38 A208.00,208.00 0 0 0 1657.55,1603.72 Z" fill="#CCCCCC"/>
<path d="M1705.06,1628.75 A260.00,260.00 0 0 1 1700.79,1643.11 L1651.39,1626.87 A208.00,208.00 0 0 0 1654.81,1615.38 Z" fill="#8793CB"/>
<path d="M1700.79,1643.11 A260.00,260.00 0 0 1 1695.54,1657.61 L1647.19,1638.47 A208.00,208.00 0 0 0 1651.39,1626.87 Z" fill="#CCCCCC"/>
<path d="M1695.54,1657.61 A260.00,260.00 0 0 1 1689.25,1672.19 L1642.16,1650.13 A208.00,208.00 0 0 0 1647.19,1638.47 Z" fill="#CCCCCC"/>
<path d="M1689.25,1672.19 A260.00,260.00 0 0 1 1682.29,1685.96 L1636.59,1661.15 A208.00,208.00 0 0 0 1642.16,1650.13 Z" fill="#CCCCCC"/>
<path d="M1682.29,1685.96 A260.00,260.00 0 0 1 1674.29,1699.68 L1630.19,1672.12 A208.00,208.00 0 0 0 1636.59,1661.15 Z" fill="#CCCCCC"/>
<path d="M1674.29,1699.68 A260.00,260.00 0 0 1 1665.73,1712.51 L1623.35,1682.39 A208.00,208.00 0 0 0 1630.19,1672.12 Z" fill="#CCCCCC"/>
<path d="M1649.13,1733.50 A260.00,260.00 0 0 1 1639.25,1744.14 L1602.16,1707.69 A208.00,208.00 0 0 0 1610.06,1699.18 Z" fill="#CCCCCC"/>
<path d="M1629.45,1753.59 A260.00,260.00 0 0 1 1619.18,1762.52 L1586.10,1722.40 A208.00,208.00 0 0 0 1594.32,1715.25 Z" fill="#CCCCCC"/>
<path d="M1380.83,1811.45 A260.00,260.00 0 0 1 1366.16,1806.68 L1383.68,1757.73 A208.00,208.00 0 0 0 1395.42,1761.54 Z" fill="#CCCCCC"/>
<path d="M1366.16,1806.68 A260.00,260.00 0 0 1 1351.79,1801.05 L1372.19,1753.22 A208.00,208.00 0 0 0 1383.68,1757.73 Z" fill="#7F63B0"/>
<path d="M1351.79,1801.05 A260.00,260.00 0 0 1 1339.42,1795.39 L1362.29,1748.69 A208.00,208.00 0 0 0 1372.19,1753.22 Z" fill="#CCCCCC"/>
<path d="M1339.42,1795.39 A260.00,260.00 0 0 1 1324.98,1787.74 L1350.74,1742.58 A208.00,208.00 0 0 0 1362.29,1748.69 Z" fill="#CCCCCC"/>
<path d="M1324.98,1787.74 A260.00,260.00 0 0 1 1312.19,1779.95 L1340.52,1736.34 A208.00,208.00 0 0 0 1350.74,1742.58 Z" fill="#7B78C4"/>
<path d="M1312.19,1779.95 A260.00,260.00 0 0 1 1300.98,1772.24 L1331.54,1730.18 A208.00,208.00 0 0 0 1340.52,1736.34 Z" fill="#CCCCCC"/>
<path d="M1256.09,1730.76 A260.00,260.00 0 0 1 1248.08,1720.90 L1289.23,1689.10 A208.00,208.00 0 0 0 1295.64,1696.99 Z" fill="#CCCCCC"/>
<path d="M1248.08,1720.90 A260.00,260.00 0 0 1 1239.53,1709.17 L1282.38,1679.71 A208.00,208.00 0 0 0 1289.23,1689.10 Z" fill="#9A4F8E"/>
<path d="M1239.53,1709.17 A260.00,260.00 0 0 1 1230.94,1695.81 L1275.51,1669.03 A208.00,208.00 0 0 0 1282.38,1679.71 Z" fill="#CCCCCC"/>
<path d="M1230.94,1695.81 A260.00,260.00 0 0 1 1225.09,1685.56 L1270.83,1660.83 A208.00,208.00 0 0 0 1275.51,1669.03 Z" fill="#7A66B2"/>
<path d="M1225.09,1685.56 A260.00,260.00 0 0 1 1212.23,1658.03 L1260.54,1638.81 A208.00,208.00 0 0 0 1270.83,1660.83 Z" fill="#CCCCCC"/>
<path d="M1212.23,1658.03 A260.00,260.00 0 0 1 1207.24,1644.40 L1256.55,1627.90 A208.00,208.00 0 0 0 1260.54,1638.81 Z" fill="#CCCCCC"/>
<path d="M1207.24,1644.40 A260.00,260.00 0 0 1 1202.78,1629.63 L1252.98,1616.08 A208.00,208.00 0 0 0 1256.55,1627.90 Z" fill="#CCCCCC"/>
<path d="M1199.02,1613.74 A260.00,260.00 0 0 1 1196.52,1599.43 L1247.98,1591.93 A208.00,208.00 0 0 0 1249.98,1603.37 Z" fill="#CCCCCC"/>
<path d="M1194.71,1583.66 A260.00,260.00 0 0 1 1193.94,1570.52 L1245.91,1568.80 A208.00,208.00 0 0 0 1246.53,1579.30 Z" fill="#CCCCCC"/>
<path d="M1206.81,1480.69 A260.00,260.00 0 0 1 1211.40,1467.88 L1259.88,1486.68 A208.00,208.00 0 0 0 1256.21,1496.93 Z" fill="#CCCCCC"/>
<path d="M1211.40,1467.88 A260.00,260.00 0 0 1 1217.02,1454.49 L1264.38,1475.97 A208.00,208.00 0 0 0 1259.88,1486.68 Z" fill="#CCCCCC"/>
<path d="M1224.45,1439.44 A260.00,260.00 0 0 1 1230.24,1429.16 L1274.95,1455.71 A208.00,208.00 0 0 0 1270.32,1463.93 Z" fill="#CCCCCC"/>
<path d="M1290.18,1359.84 A260.00,260.00 0 0 1 1313.34,1343.11 L1341.43,1386.87 A208.00,208.00 0 0 0 1322.90,1400.25 Z" fill="#CCCCCC"/>
<path d="M1313.34,1343.11 A260.00,260.00 0 0 1 1326.17,1335.38 L1351.69,1380.69 A208.00,208.00 0 0 0 1341.43,1386.87 Z" fill="#CCCCCC"/>
<path d="M1326.17,1335.38 A260.00,260.00 0 0 1 1339.42,1328.41 L1362.29,1375.11 A208.00,208.00 0 0 0 1351.69,1380.69 Z" fill="#CCCCCC"/>
<path d="M1339.42,1328.41 A260.00,260.00 0 0 1 1353.46,1322.04 L1373.53,1370.01 A208.00,208.00 0 0 0 1362.29,1375.11 Z" fill="#CCCCCC"/>
<path d="M1353.46,1322.04 A260.00,260.00 0 0 1 1367.87,1316.51 L1385.05,1365.59 A208.00,208.00 0 0 0 1373.53,1370.01 Z" fill="#CCCCCC"/>
<path d="M1367.87,1316.51 A260.00,260.00 0 0 1 1381.70,1312.10 L1396.12,1362.06 A208.00,208.00 0 0 0 1385.05,1365.59 Z" fill="#CCCCCC"/>
<path d="M1380.39,1312.48 A260.00,260.00 0 0 1 1394.87,1308.67 L1406.66,1359.31 A208.00,208.00 0 0 0 1395.07,1362.36 Z" fill="#8590CA"/>
<path d="M1410.89,1305.47 A260.00,260.00 0 0 1 1423.47,1303.68 L1429.53,1355.32 A208.00,208.00 0 0 0 1419.47,1356.75 Z" fill="#CCCCCC"/>
<path d="M1606.96,1290.08 A312.00,312.00 0 0 1 1621.44,1298.76 L1593.50,1342.62 A260.00,260.00 0 0 0 1581.43,1335.38 Z" fill="#8793CB"/>
<path d="M1689.98,1358.03 A312.00,312.00 0 0 1 1698.99,1368.96 L1658.12,1401.11 A260.00,260.00 0 0 0 1650.62,1392.01 Z" fill="#CCCCCC"/>
<path d="M1765.63,1572.24 A312.00,312.00 0 0 1 1764.56,1589.64 L1712.77,1585.01 A260.00,260.00 0 0 0 1713.66,1570.52 Z" fill="#CCCCCC"/>
<path d="M1762.53,1606.94 A312.00,312.00 0 0 1 1759.54,1624.10 L1708.58,1613.74 A260.00,260.00 0 0 0 1711.08,1599.43 Z" fill="#CCCCCC"/>
<path d="M1759.54,1624.10 A312.00,312.00 0 0 1 1755.45,1641.60 L1705.17,1628.32 A260.00,260.00 0 0 0 1708.58,1613.74 Z" fill="#7B80C2"/>
<path d="M1755.45,1641.60 A312.00,312.00 0 0 1 1750.53,1658.31 L1701.07,1642.24 A260.00,260.00 0 0 0 1705.17,1628.32 Z" fill="#CCCCCC"/>
<path d="M1744.09,1676.25 A312.00,312.00 0 0 1 1737.71,1691.28 L1690.39,1669.72 A260.00,260.00 0 0 0 1695.71,1657.19 Z" fill="#CCCCCC"/>
<path d="M1194.23,1735.01 A312.00,312.00 0 0 1 1185.80,1721.66 L1230.47,1695.03 A260.00,260.00 0 0 0 1237.49,1706.16 Z" fill="#8590CA"/>
<path d="M1185.80,1721.66 A312.00,312.00 0 0 1 1177.81,1707.41 L1223.81,1683.16 A260.00,260.00 0 0 0 1230.47,1695.03 Z" fill="#7468B8"/>
<path d="M1177.81,1707.41 A312.00,312.00 0 0 1 1170.57,1692.77 L1217.78,1670.96 A260.00,260.00 0 0 0 1223.81,1683.16 Z" fill="#CCCCCC"/>
<path d="M1170.57,1692.77 A312.00,312.00 0 0 1 1163.51,1676.25 L1211.89,1657.19 A260.00,260.00 0 0 0 1217.78,1670.96 Z" fill="#CCCCCC"/>
<path d="M1148.06,1624.10 A312.00,312.00 0 0 1 1145.07,1606.94 L1196.52,1599.43 A260.00,260.00 0 0 0 1199.02,1613.74 Z" fill="#CCCCCC"/>
<path d="M1257.88,1319.09 A312.00,312.00 0 0 1 1270.41,1309.49 L1300.98,1351.56 A260.00,260.00 0 0 0 1290.53,1359.56 Z" fill="#CCCCCC"/>
<path d="M1270.41,1309.49 A312.00,312.00 0 0 1 1282.96,1300.83 L1311.43,1344.34 A260.00,260.00 0 0 0 1300.98,1351.56 Z" fill="#CCCCCC"/>
<path d="M1302.06,1289.28 A312.00,312.00 0 0 1 1315.07,1282.44 L1338.19,1329.01 A260.00,260.00 0 0 0 1327.35,1334.72 Z" fill="#CCCCCC"/>
<path d="M1334.40,1273.65 A312.00,312.00 0 0 1 1348.11,1268.35 L1365.73,1317.27 A260.00,260.00 0 0 0 1354.30,1321.69 Z" fill="#CCCCCC"/>
<path d="M1366.75,1262.29 A312.00,312.00 0 0 1 1382.55,1258.14 L1394.43,1308.77 A260.00,260.00 0 0 0 1381.26,1312.22 Z" fill="#CCCCCC"/>
<path d="M1402.31,1254.18 A312.00,312.00 0 0 1 1416.86,1252.09 L1423.01,1303.73 A260.00,260.00 0 0 0 1410.89,1305.47 Z" fill="#CCCCCC"/>
<path d="M1131.52,1731.10 A364.00,364.00 0 0 1 1122.84,1713.43 L1170.12,1691.78 A312.00,312.00 0 0 0 1177.56,1706.93 Z" fill="#CCCCCC"/>
<path d="M1122.84,1713.43 A364.00,364.00 0 0 1 1114.90,1694.72 L1163.31,1675.74 A312.00,312.00 0 0 0 1170.12,1691.78 Z" fill="#CCCCCC"/>
<path d="M1097.11,1634.47 A364.00,364.00 0 0 1 1093.61,1614.45 L1145.07,1606.94 A312.00,312.00 0 0 0 1148.06,1624.10 Z" fill="#CCCCCC"/>
<path d="M1314.50,1225.61 A364.00,364.00 0 0 1 1330.50,1219.42 L1348.11,1268.35 A312.00,312.00 0 0 0 1334.40,1273.65 Z" fill="#CCCCCC"/>
<path d="M1352.25,1212.35 A364.00,364.00 0 0 1 1370.68,1207.52 L1382.55,1258.14 A312.00,312.00 0 0 0 1366.75,1262.29 Z" fill="#CCCCCC"/>
<circle cx="1453.80" cy="1561.90" r="52.00" fill="#FF0000"/>
</g>
<text x="1543.40" y="1476.50" font-size="22.6" text-anchor="middle" transform="rotate(-43.50 1543.40 1476.50)" dominant-baseline="central" stroke="#fff" stroke-width="2.6" paint-order="stroke" stroke-linejoin="round">organization</text>
<text x="1534.10" y="1647.40" font-size="22.6" text-anchor="middle" transform="rotate(45.50 1534.10 1647.40)" dominant-baseline="central" stroke="#fff" stroke-width="2.6" paint-order="stroke" stroke-linejoin="round">presynaptic</text>
<text x="1388.10" y="1687.10" font-size="22.6" text-anchor="middle" transform="rotate(-62.00 1388.10 1687.10)" dominant-baseline="central" stroke="#fff" stroke-width="2.6" paint-order="stroke" stroke-linejoin="round">postsynaptic</text>
<text x="1335.00" y="1598.50" font-size="22.6" text-anchor="middle" transform="rotate(-16.80 1335.00 1598.50)" dominant-baseline="central" stroke="#fff" stroke-width="2.6" paint-order="stroke" stroke-linejoin="round">signaling</text>
<text x="1332.50" y="1499.10" font-size="22.6" text-anchor="middle" transform="rotate(27.50 1332.50 1499.10)" dominant-baseline="central" stroke="#fff" stroke-width="2.6" paint-order="stroke" stroke-linejoin="round">metabolism</text>
<text x="1411.60" y="1446.30" font-size="22.6" text-anchor="middle" transform="rotate(68.00 1411.60 1446.30)" dominant-baseline="central" stroke="#fff" stroke-width="2.6" paint-order="stroke" stroke-linejoin="round">transport</text>
<text x="1590.00" y="1232.00" font-size="24" text-anchor="middle" textLength="222.0" lengthAdjust="spacingAndGlyphs" stroke="#000" stroke-width="0.35">dendritic transport</text>
<line x1="1577.00" y1="1248.00" x2="1393.84" y2="1373.81" stroke="#000" stroke-width="2.2" />
<path d="M1379.00,1384.00 L1391.64,1367.07 L1399.34,1378.28 Z" fill="#000" />
<text x="1704.00" y="1812.00" font-size="24" text-anchor="middle" textLength="328.0" lengthAdjust="spacingAndGlyphs" stroke="#000" stroke-width="0.35">synaptic vesicle exocytosis</text>
<line x1="1716.00" y1="1767.00" x2="1642.01" y2="1618.12" stroke="#000" stroke-width="2.2" />
<path d="M1634.00,1602.00 L1648.99,1616.88 L1636.81,1622.94 Z" fill="#000" />
<text x="8.50" y="1893.50" font-size="31" font-weight="bold" >g</text>
<text x="385.79" y="1912.65" font-size="25" fill="#0a0a0a" >GO:BP Enrichment (DG)</text>
<line x1="796.64" y1="1955.52" x2="796.64" y2="2589.93" stroke="#EDEDED" stroke-width="1.2" />
<line x1="841.16" y1="1955.52" x2="841.16" y2="2589.93" stroke="#EDEDED" stroke-width="0.7" />
<line x1="885.67" y1="1955.52" x2="885.67" y2="2589.93" stroke="#EDEDED" stroke-width="1.2" />
<line x1="930.19" y1="1955.52" x2="930.19" y2="2589.93" stroke="#EDEDED" stroke-width="0.7" />
<line x1="974.70" y1="1955.52" x2="974.70" y2="2589.93" stroke="#EDEDED" stroke-width="1.2" />
<line x1="1019.21" y1="1955.52" x2="1019.21" y2="2589.93" stroke="#EDEDED" stroke-width="0.7" />
<line x1="784.64" y1="1983.54" x2="1034.05" y2="1983.54" stroke="#EDEDED" stroke-width="1.2" />
<line x1="784.64" y1="2025.04" x2="1034.05" y2="2025.04" stroke="#EDEDED" stroke-width="1.2" />
<line x1="784.64" y1="2066.54" x2="1034.05" y2="2066.54" stroke="#EDEDED" stroke-width="1.2" />
<line x1="784.64" y1="2108.04" x2="1034.05" y2="2108.04" stroke="#EDEDED" stroke-width="1.2" />
<line x1="784.64" y1="2149.55" x2="1034.05" y2="2149.55" stroke="#EDEDED" stroke-width="1.2" />
<line x1="784.64" y1="2191.05" x2="1034.05" y2="2191.05" stroke="#EDEDED" stroke-width="1.2" />
<line x1="784.64" y1="2232.55" x2="1034.05" y2="2232.55" stroke="#EDEDED" stroke-width="1.2" />
<line x1="784.64" y1="2274.05" x2="1034.05" y2="2274.05" stroke="#EDEDED" stroke-width="1.2" />
<line x1="784.64" y1="2315.55" x2="1034.05" y2="2315.55" stroke="#EDEDED" stroke-width="1.2" />
<line x1="784.64" y1="2357.05" x2="1034.05" y2="2357.05" stroke="#EDEDED" stroke-width="1.2" />
<line x1="784.64" y1="2398.55" x2="1034.05" y2="2398.55" stroke="#EDEDED" stroke-width="1.2" />
<line x1="784.64" y1="2440.05" x2="1034.05" y2="2440.05" stroke="#EDEDED" stroke-width="1.2" />
<line x1="784.64" y1="2481.55" x2="1034.05" y2="2481.55" stroke="#EDEDED" stroke-width="1.2" />
<line x1="784.64" y1="2523.05" x2="1034.05" y2="2523.05" stroke="#EDEDED" stroke-width="1.2" />
<line x1="784.64" y1="2564.55" x2="1034.05" y2="2564.55" stroke="#EDEDED" stroke-width="1.2" />
<rect x="796.64" y="1965.24" width="226.20" height="36.60" fill="#F8766D" />
<text x="778.18" y="1992.84" font-size="24.95" text-anchor="end" fill="#0a0a0a" >chemical synaptic transmission</text>
<rect x="796.64" y="2006.74" width="218.29" height="36.60" fill="#F8766D" />
<text x="778.18" y="2034.34" font-size="24.95" text-anchor="end" fill="#0a0a0a" >synaptic signaling</text>
<rect x="796.64" y="2048.24" width="177.40" height="36.60" fill="#F8766D" />
<text x="778.18" y="2075.84" font-size="24.95" text-anchor="end" fill="#0a0a0a" >synapse organization</text>
<rect x="796.64" y="2089.74" width="135.19" height="36.60" fill="#F8766D" />
<text x="778.18" y="2117.34" font-size="24.95" text-anchor="end" fill="#0a0a0a" >receptor localization to synapse</text>
<rect x="796.64" y="2131.25" width="129.26" height="36.60" fill="#F8766D" />
<text x="778.18" y="2158.85" font-size="24.95" text-anchor="end" fill="#0a0a0a" >vesicle−mediated transport in synapse</text>
<rect x="796.64" y="2172.75" width="121.34" height="36.60" fill="#F8766D" />
<text x="778.18" y="2200.35" font-size="24.95" text-anchor="end" fill="#0a0a0a" >regulation of postsynaptic membrane neurotransmitter receptor levels</text>
<rect x="796.64" y="2214.25" width="96.94" height="36.60" fill="#F8766D" />
<text x="778.18" y="2241.85" font-size="24.95" text-anchor="end" fill="#0a0a0a" >regulation of synaptic plasticity</text>
<rect x="796.64" y="2255.75" width="93.65" height="36.60" fill="#F8766D" />
<text x="778.18" y="2283.35" font-size="24.95" text-anchor="end" fill="#0a0a0a" >postsynapse organization</text>
<rect x="796.64" y="2297.25" width="87.05" height="36.60" fill="#F8766D" />
<text x="778.18" y="2324.85" font-size="24.95" text-anchor="end" fill="#0a0a0a" >protein localization to postsynapse</text>
<rect x="796.64" y="2338.75" width="78.48" height="36.60" fill="#F8766D" />
<text x="778.18" y="2366.35" font-size="24.95" text-anchor="end" fill="#0a0a0a" >glutamate receptor clustering</text>
<rect x="796.64" y="2380.25" width="67.27" height="36.60" fill="#F8766D" />
<text x="778.18" y="2407.85" font-size="24.95" text-anchor="end" fill="#0a0a0a" >synaptic vesicle cycle</text>
<rect x="796.64" y="2421.75" width="65.95" height="36.60" fill="#F8766D" />
<text x="778.18" y="2449.35" font-size="24.95" text-anchor="end" fill="#0a0a0a" >regulation of neuron projection development</text>
<rect x="796.64" y="2463.25" width="63.97" height="36.60" fill="#F8766D" />
<text x="778.18" y="2490.85" font-size="24.95" text-anchor="end" fill="#0a0a0a" >neuron projection morphogenesis</text>
<rect x="796.64" y="2504.75" width="62.65" height="36.60" fill="#F8766D" />
<text x="778.18" y="2532.35" font-size="24.95" text-anchor="end" fill="#0a0a0a" >neurotransmitter transport</text>
<rect x="796.64" y="2546.25" width="61.33" height="36.60" fill="#F8766D" />
<text x="778.18" y="2573.85" font-size="24.95" text-anchor="end" fill="#0a0a0a" >cell projection morphogenesis</text>
<text x="796.64" y="2612.87" font-size="25" text-anchor="middle" fill="#0a0a0a" >0</text>
<text x="885.01" y="2612.87" font-size="25" text-anchor="middle" fill="#0a0a0a" >5</text>
<text x="974.04" y="2612.87" font-size="25" text-anchor="middle" fill="#0a0a0a" >10</text>
<text x="904.80" y="2653.10" font-size="24.5" text-anchor="middle" fill="#0a0a0a" >-log(p-value)</text>
</svg>
</body></html>
